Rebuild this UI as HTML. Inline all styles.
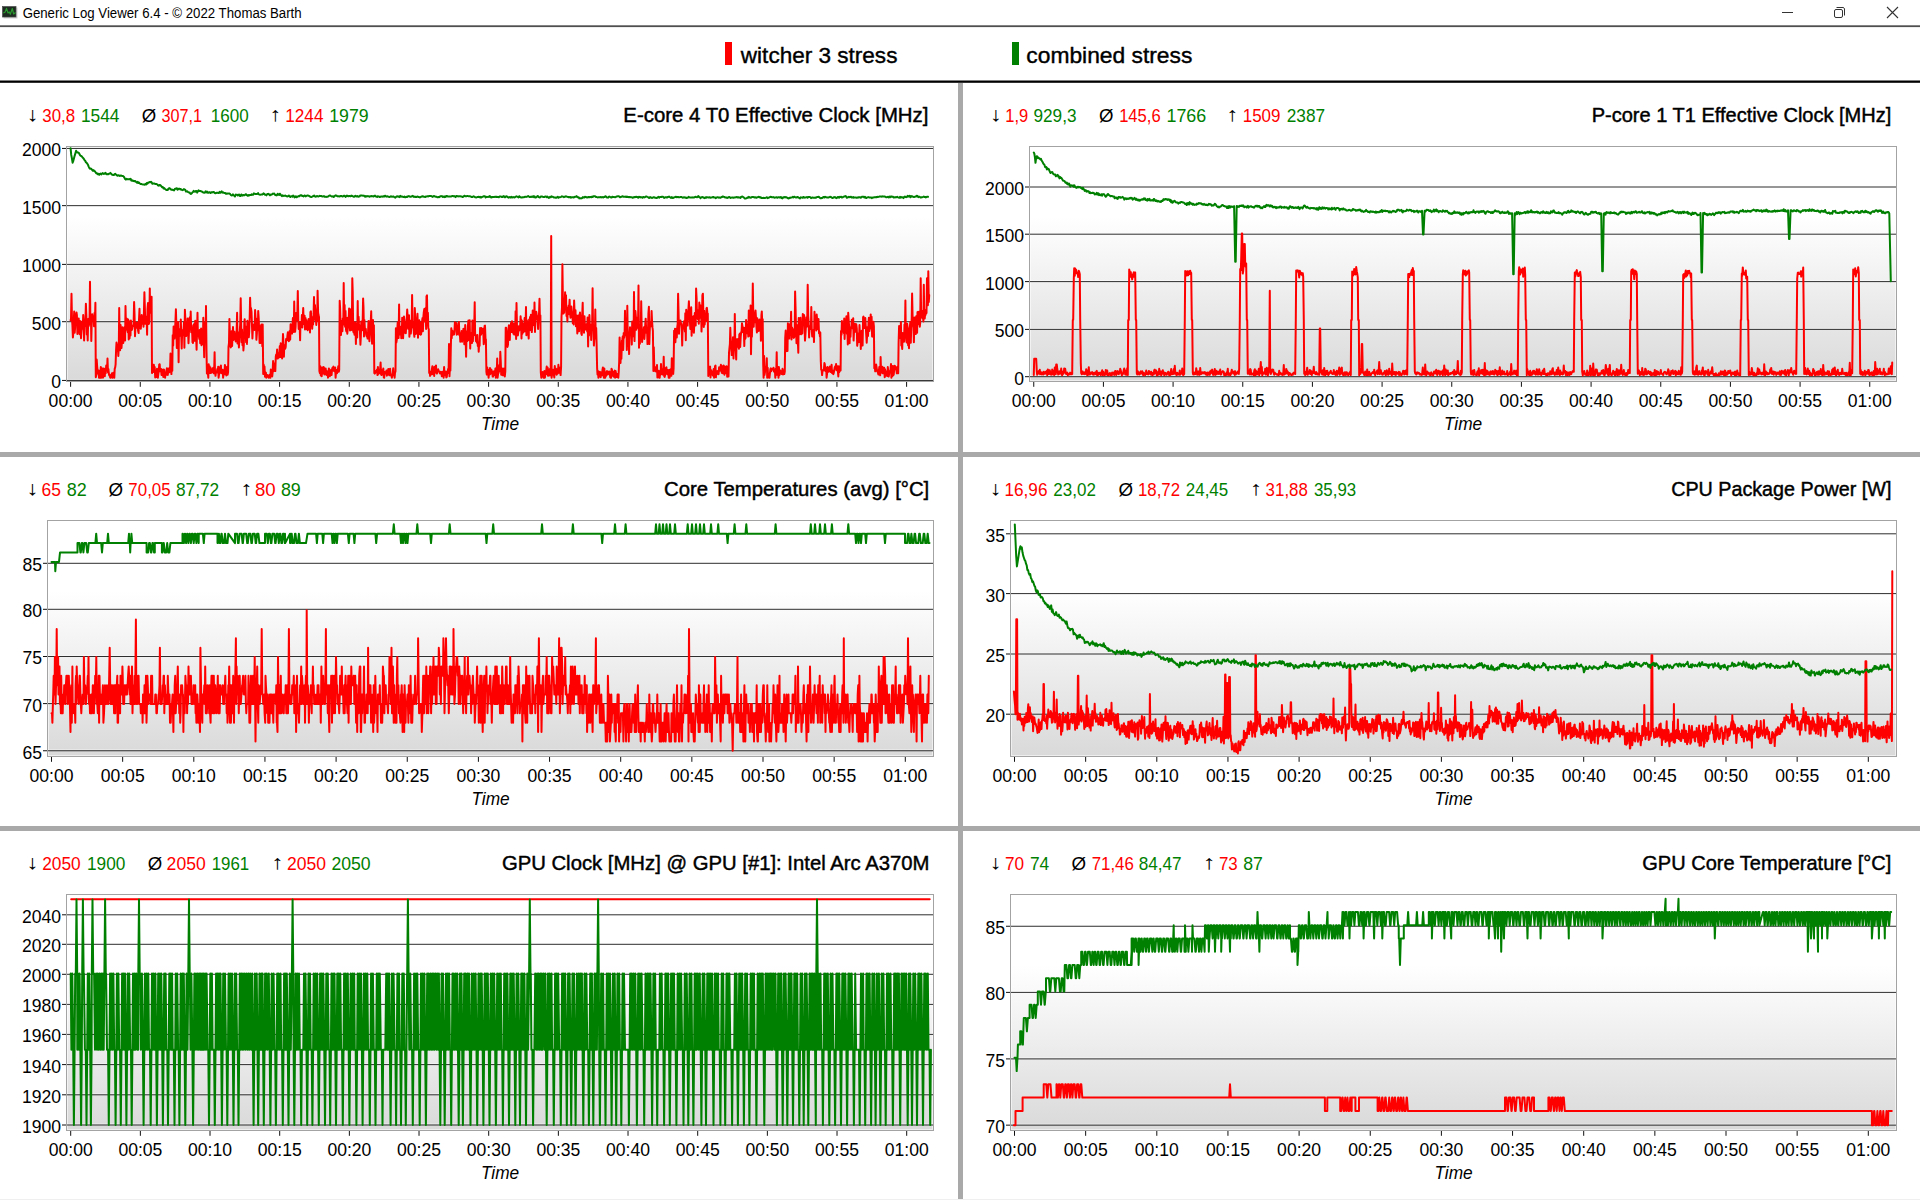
<!DOCTYPE html>
<html><head><meta charset="utf-8"><title>Generic Log Viewer</title>
<style>html,body{margin:0;padding:0;background:#fff;}body{width:1920px;height:1200px;overflow:hidden;}svg{display:block;font-family:"Liberation Sans",sans-serif;}</style>
</head><body>
<svg width="1920" height="1200" viewBox="0 0 1920 1200" font-family="Liberation Sans, sans-serif">
<defs><linearGradient id="bg" x1="0" y1="0" x2="0" y2="1">
<stop offset="0" stop-color="#ffffff"/><stop offset="0.3" stop-color="#ffffff"/><stop offset="1" stop-color="#d9d9d9"/>
</linearGradient></defs>
<rect x="0" y="0" width="1920" height="25" fill="#ffffff"/>
<rect x="3.5" y="7.5" width="14" height="11" fill="#000" opacity="0.18"/>
<rect x="2.5" y="6.5" width="13.5" height="10.5" fill="#1d2b20" stroke="#4a4a4a" stroke-width="0.7"/>
<polyline points="3.3,13 5,12.2 6.5,8.4 8,13 9.3,12 10.3,14.3 12.3,8.5 13.6,14 15.6,12.6" fill="none" stroke="#2a9a2e" stroke-width="1.2" stroke-linejoin="round"/>
<text x="22.64" y="17.90" font-size="14" textLength="279.02" lengthAdjust="spacingAndGlyphs" fill="#000">Generic Log Viewer 6.4 - © 2022 Thomas Barth</text>
<line x1="1782" y1="12.5" x2="1793" y2="12.5" stroke="#333" stroke-width="1"/>
<rect x="1834.5" y="9.5" width="8" height="8" rx="1.5" fill="none" stroke="#333" stroke-width="1"/>
<path d="M1836.5,7.5 h5.5 a2,2 0 0 1 2.5,2.5 v5.5" fill="none" stroke="#333" stroke-width="1"/>
<path d="M1887,7 L1898,18 M1898,7 L1887,18" stroke="#333" stroke-width="1.1"/>
<rect x="0" y="25.3" width="1920" height="1.8" fill="#4f4f4f"/>
<rect x="725" y="42" width="7" height="23" fill="#ff0000"/>
<g stroke="#000" stroke-width="0.4"><text x="740.83" y="63.00" font-size="22.5" textLength="156.58" lengthAdjust="spacingAndGlyphs" fill="#000">witcher 3 stress</text></g>
<rect x="1012" y="42" width="7" height="23" fill="#008000"/>
<g stroke="#000" stroke-width="0.4"><text x="1026.33" y="63.00" font-size="22.5" textLength="165.99" lengthAdjust="spacingAndGlyphs" fill="#000">combined stress</text></g>
<rect x="0" y="80.5" width="1920" height="2.3" fill="#000"/>
<rect x="958" y="83" width="5" height="1116" fill="#a9a9a9"/>
<rect x="0" y="452" width="1920" height="5" fill="#a9a9a9"/>
<rect x="0" y="826" width="1920" height="5" fill="#a9a9a9"/>
<rect x="958" y="452" width="5" height="5" fill="#a9a9a9"/>
<rect x="0" y="1199" width="1920" height="1" fill="#efefef"/>
<g id="p1">
<rect x="66" y="146" width="868" height="236" fill="url(#bg)"/>
<rect x="67.5" y="147.5" width="865" height="233" fill="none" stroke="#ffffff" stroke-opacity="0.55" stroke-width="1"/>
<line x1="67" y1="379.45" x2="933" y2="379.45" stroke="#ffffff" stroke-opacity="0.45" stroke-width="1"/>
<line x1="67" y1="380.45" x2="933" y2="380.45" stroke="#2e2e2e" stroke-width="1"/>
<line x1="62" y1="380.45" x2="66" y2="380.45" stroke="#111" stroke-width="1"/>
<text x="51.31" y="388.35" font-size="18.5" textLength="9.77" lengthAdjust="spacingAndGlyphs" fill="#000">0</text>
<line x1="67" y1="320.70" x2="933" y2="320.70" stroke="#ffffff" stroke-opacity="0.45" stroke-width="1"/>
<line x1="67" y1="321.70" x2="933" y2="321.70" stroke="#2e2e2e" stroke-width="1"/>
<line x1="62" y1="321.70" x2="66" y2="321.70" stroke="#111" stroke-width="1"/>
<text x="31.76" y="329.60" font-size="18.5" textLength="29.32" lengthAdjust="spacingAndGlyphs" fill="#000">500</text>
<line x1="67" y1="263.40" x2="933" y2="263.40" stroke="#ffffff" stroke-opacity="0.45" stroke-width="1"/>
<line x1="67" y1="264.40" x2="933" y2="264.40" stroke="#2e2e2e" stroke-width="1"/>
<line x1="62" y1="264.40" x2="66" y2="264.40" stroke="#111" stroke-width="1"/>
<text x="21.99" y="272.30" font-size="18.5" textLength="39.10" lengthAdjust="spacingAndGlyphs" fill="#000">1000</text>
<line x1="67" y1="204.65" x2="933" y2="204.65" stroke="#ffffff" stroke-opacity="0.45" stroke-width="1"/>
<line x1="67" y1="205.65" x2="933" y2="205.65" stroke="#2e2e2e" stroke-width="1"/>
<line x1="62" y1="205.65" x2="66" y2="205.65" stroke="#111" stroke-width="1"/>
<text x="21.99" y="213.55" font-size="18.5" textLength="39.10" lengthAdjust="spacingAndGlyphs" fill="#000">1500</text>
<line x1="67" y1="147.45" x2="933" y2="147.45" stroke="#ffffff" stroke-opacity="0.45" stroke-width="1"/>
<line x1="67" y1="148.45" x2="933" y2="148.45" stroke="#2e2e2e" stroke-width="1"/>
<line x1="62" y1="148.45" x2="66" y2="148.45" stroke="#111" stroke-width="1"/>
<text x="21.99" y="156.35" font-size="18.5" textLength="39.10" lengthAdjust="spacingAndGlyphs" fill="#000">2000</text>
<line x1="70.60" y1="382" x2="70.60" y2="386.8" stroke="#111" stroke-width="1"/>
<text x="48.61" y="406.50" font-size="18.5" textLength="43.98" lengthAdjust="spacingAndGlyphs" fill="#000">00:00</text>
<line x1="140.27" y1="382" x2="140.27" y2="386.8" stroke="#111" stroke-width="1"/>
<text x="118.30" y="406.50" font-size="18.5" textLength="43.98" lengthAdjust="spacingAndGlyphs" fill="#000">00:05</text>
<line x1="209.93" y1="382" x2="209.93" y2="386.8" stroke="#111" stroke-width="1"/>
<text x="187.94" y="406.50" font-size="18.5" textLength="43.98" lengthAdjust="spacingAndGlyphs" fill="#000">00:10</text>
<line x1="279.60" y1="382" x2="279.60" y2="386.8" stroke="#111" stroke-width="1"/>
<text x="257.64" y="406.50" font-size="18.5" textLength="43.98" lengthAdjust="spacingAndGlyphs" fill="#000">00:15</text>
<line x1="349.27" y1="382" x2="349.27" y2="386.8" stroke="#111" stroke-width="1"/>
<text x="327.28" y="406.50" font-size="18.5" textLength="43.98" lengthAdjust="spacingAndGlyphs" fill="#000">00:20</text>
<line x1="418.93" y1="382" x2="418.93" y2="386.8" stroke="#111" stroke-width="1"/>
<text x="396.97" y="406.50" font-size="18.5" textLength="43.98" lengthAdjust="spacingAndGlyphs" fill="#000">00:25</text>
<line x1="488.60" y1="382" x2="488.60" y2="386.8" stroke="#111" stroke-width="1"/>
<text x="466.61" y="406.50" font-size="18.5" textLength="43.98" lengthAdjust="spacingAndGlyphs" fill="#000">00:30</text>
<line x1="558.27" y1="382" x2="558.27" y2="386.8" stroke="#111" stroke-width="1"/>
<text x="536.30" y="406.50" font-size="18.5" textLength="43.98" lengthAdjust="spacingAndGlyphs" fill="#000">00:35</text>
<line x1="627.93" y1="382" x2="627.93" y2="386.8" stroke="#111" stroke-width="1"/>
<text x="605.94" y="406.50" font-size="18.5" textLength="43.98" lengthAdjust="spacingAndGlyphs" fill="#000">00:40</text>
<line x1="697.60" y1="382" x2="697.60" y2="386.8" stroke="#111" stroke-width="1"/>
<text x="675.64" y="406.50" font-size="18.5" textLength="43.98" lengthAdjust="spacingAndGlyphs" fill="#000">00:45</text>
<line x1="767.27" y1="382" x2="767.27" y2="386.8" stroke="#111" stroke-width="1"/>
<text x="745.28" y="406.50" font-size="18.5" textLength="43.98" lengthAdjust="spacingAndGlyphs" fill="#000">00:50</text>
<line x1="836.93" y1="382" x2="836.93" y2="386.8" stroke="#111" stroke-width="1"/>
<text x="814.97" y="406.50" font-size="18.5" textLength="43.98" lengthAdjust="spacingAndGlyphs" fill="#000">00:55</text>
<line x1="906.60" y1="382" x2="906.60" y2="386.8" stroke="#111" stroke-width="1"/>
<text x="884.61" y="406.50" font-size="18.5" textLength="43.98" lengthAdjust="spacingAndGlyphs" fill="#000">01:00</text>
<text x="480.93" y="429.80" font-size="18.5" font-style="italic" textLength="38.23" lengthAdjust="spacingAndGlyphs" fill="#000">Time</text>
<clipPath id="c0"><rect x="67" y="147" width="866" height="234"/></clipPath>
<g clip-path="url(#c0)" fill="none" stroke-width="2" stroke-linejoin="round" stroke-linecap="round">
<polyline stroke="#ff0000" points="70.6,320.4 71.0,318.7 71.5,293.8 72.0,319.7 72.4,324.8 72.9,337.5 73.3,333.1 73.8,320.7 74.2,311.4 74.7,332.7 75.1,327.8 75.6,313.9 76.0,316.1 76.5,312.5 76.9,315.2 77.4,334.0 77.8,324.1 78.3,328.1 78.7,318.4 79.2,330.9 79.6,334.2 80.1,321.1 80.5,324.8 81.0,338.3 81.4,332.1 81.9,327.1 82.3,321.2 82.8,328.8 83.2,315.1 83.7,323.5 84.1,340.4 84.6,321.8 85.0,325.9 85.5,318.0 85.9,303.8 86.4,317.1 86.8,334.4 87.3,327.2 87.7,340.5 88.2,319.0 88.6,326.3 89.1,318.6 89.5,322.9 90.0,281.7 90.4,324.8 90.9,315.5 91.3,340.9 91.8,319.3 92.2,314.3 92.7,317.8 93.1,320.5 93.6,316.2 94.0,326.3 94.5,313.0 94.9,321.5 95.4,302.8 95.8,377.3 96.3,374.8 96.7,359.5 97.2,367.0 97.6,370.4 98.1,373.6 98.5,370.4 99.0,377.7 99.4,372.9 99.9,370.5 100.3,377.7 100.8,367.0 101.2,377.7 101.7,368.0 102.1,371.2 102.6,375.8 103.0,377.7 103.5,368.5 103.9,370.3 104.4,373.3 104.8,376.2 105.3,368.6 105.7,373.2 106.2,365.6 106.6,370.5 107.1,368.7 107.5,358.5 108.0,372.5 108.4,369.1 108.9,373.9 109.3,375.4 109.8,374.5 110.2,377.5 110.7,377.7 111.1,376.2 111.6,377.1 112.0,373.2 112.5,377.7 112.9,377.3 113.4,372.7 113.8,372.6 114.3,377.7 114.7,368.9 115.2,367.3 115.6,364.3 116.1,349.5 116.5,342.6 117.0,345.2 117.4,350.8 117.9,348.1 118.3,356.0 118.8,347.6 119.2,308.0 119.7,340.1 120.1,350.2 120.6,324.9 121.0,343.2 121.5,348.0 121.9,342.4 122.4,327.3 122.8,341.5 123.3,343.0 123.7,328.0 124.2,331.5 124.6,327.1 125.1,340.6 125.5,306.0 126.0,329.5 126.4,321.3 126.9,318.7 127.3,329.8 127.8,332.4 128.2,319.6 128.7,339.5 129.1,330.6 129.6,338.2 130.0,321.3 130.5,335.5 130.9,320.6 131.4,327.9 131.8,330.0 132.3,328.4 132.7,325.4 133.2,326.0 133.6,324.5 134.1,302.0 134.5,313.3 135.0,336.3 135.4,328.6 135.9,322.4 136.3,323.9 136.8,327.8 137.2,324.2 137.7,322.4 138.1,330.8 138.6,333.1 139.0,319.6 139.5,308.7 139.9,327.8 140.4,319.1 140.8,328.7 141.3,321.3 141.7,315.1 142.2,323.8 142.6,318.0 143.0,316.3 143.5,326.8 143.9,312.7 144.4,292.3 144.8,305.3 145.3,323.8 145.7,316.4 146.2,320.7 146.6,317.2 147.1,334.7 147.5,308.8 148.0,303.0 148.4,319.2 148.9,324.0 149.3,320.5 149.8,288.4 150.2,312.7 150.7,308.8 151.1,312.1 151.6,296.8 152.0,373.1 152.5,364.5 152.9,369.9 153.4,372.0 153.8,364.7 154.3,368.5 154.7,367.0 155.2,377.5 155.6,374.1 156.1,370.2 156.5,376.9 157.0,368.8 157.4,371.0 157.9,377.7 158.3,374.2 158.8,370.7 159.2,364.5 159.7,364.2 160.1,371.2 160.6,369.9 161.0,368.9 161.5,374.9 161.9,369.4 162.4,370.6 162.8,371.8 163.3,377.0 163.7,369.4 164.2,369.9 164.6,373.3 165.1,377.7 165.5,372.9 166.0,375.1 166.4,372.4 166.9,368.2 167.3,373.2 167.8,375.0 168.2,369.1 168.7,372.7 169.1,368.3 169.6,371.9 170.0,371.5 170.5,353.6 170.9,369.6 171.4,374.1 171.8,362.6 172.3,370.8 172.7,335.2 173.2,345.4 173.6,326.4 174.1,333.6 174.5,338.6 175.0,329.3 175.4,322.2 175.9,309.3 176.3,323.4 176.8,348.0 177.2,327.6 177.7,328.9 178.1,322.0 178.6,362.3 179.0,329.2 179.5,336.0 179.9,329.1 180.4,334.0 180.8,319.5 181.3,336.6 181.7,348.4 182.2,330.2 182.6,335.2 183.1,333.6 183.5,330.2 184.0,322.3 184.4,347.7 184.9,309.7 185.3,317.7 185.8,330.4 186.2,335.9 186.7,328.5 187.1,332.5 187.6,318.6 188.0,329.5 188.5,343.3 188.9,333.7 189.4,319.6 189.8,317.2 190.3,329.6 190.7,311.5 191.2,332.2 191.6,325.2 192.1,330.0 192.5,342.1 193.0,342.9 193.4,338.4 193.9,324.3 194.3,328.0 194.8,340.7 195.2,320.7 195.7,321.3 196.1,336.2 196.6,349.7 197.0,332.7 197.5,312.7 197.9,336.3 198.4,332.0 198.8,335.2 199.3,338.8 199.7,330.1 200.2,343.3 200.6,334.8 201.1,328.6 201.5,345.2 202.0,329.5 202.4,337.9 202.9,343.9 203.3,317.8 203.8,341.5 204.2,357.2 204.7,322.9 205.1,332.8 205.6,341.1 206.0,305.9 206.5,350.7 206.9,373.6 207.4,368.9 207.8,371.8 208.3,377.7 208.7,364.3 209.2,370.3 209.6,366.2 210.1,372.9 210.5,367.6 211.0,372.9 211.4,368.9 211.9,369.4 212.3,371.8 212.8,372.2 213.2,367.7 213.7,373.3 214.1,373.3 214.6,352.2 215.0,372.0 215.5,375.8 215.9,371.9 216.4,371.7 216.8,372.5 217.3,369.1 217.7,372.1 218.2,366.7 218.6,377.7 219.1,373.9 219.5,372.2 220.0,367.0 220.4,370.7 220.9,365.4 221.3,373.3 221.8,372.5 222.2,371.8 222.7,369.7 223.1,377.7 223.6,373.6 224.0,374.6 224.5,374.1 224.9,365.0 225.4,368.3 225.8,372.0 226.3,375.4 226.7,372.8 227.2,366.7 227.6,374.8 228.1,372.0 228.5,346.8 229.0,342.9 229.4,318.9 229.9,334.1 230.3,345.7 230.8,347.4 231.2,342.1 231.7,331.3 232.1,345.9 232.6,334.9 233.0,327.0 233.5,340.0 233.9,335.9 234.4,331.7 234.8,336.3 235.3,335.9 235.7,341.5 236.2,339.6 236.6,332.3 237.1,312.8 237.5,343.6 238.0,333.1 238.4,332.4 238.9,347.4 239.3,341.0 239.8,330.5 240.2,324.2 240.7,298.3 241.1,321.2 241.6,342.2 242.0,329.5 242.5,345.3 242.9,335.5 243.4,350.4 243.8,345.4 244.3,322.7 244.7,319.2 245.2,335.4 245.6,331.1 246.1,342.2 246.5,326.4 247.0,343.9 247.4,320.8 247.9,328.4 248.3,325.4 248.8,337.2 249.2,332.0 249.7,317.2 250.1,297.7 250.6,313.3 251.0,308.1 251.5,311.8 251.9,322.7 252.4,338.5 252.8,330.8 253.3,327.5 253.7,324.6 254.2,328.6 254.6,330.0 255.1,310.1 255.5,316.8 256.0,320.3 256.4,339.8 256.9,333.4 257.3,318.7 257.8,330.2 258.2,310.9 258.7,318.4 259.1,328.8 259.6,342.9 260.0,326.4 260.5,343.0 260.9,327.2 261.4,324.5 261.8,325.2 262.3,346.2 262.7,324.6 263.2,373.9 263.6,364.4 264.1,367.1 264.5,366.5 265.0,376.8 265.4,374.4 265.9,372.6 266.3,377.7 266.8,376.1 267.2,375.6 267.7,375.0 268.1,376.6 268.6,377.7 269.0,377.7 269.5,376.3 269.9,374.6 270.4,377.7 270.8,369.5 271.3,375.8 271.7,374.0 272.2,376.4 272.6,373.0 273.1,361.1 273.5,371.3 274.0,363.3 274.4,369.2 274.9,366.5 275.3,371.1 275.8,356.4 276.2,354.5 276.7,355.9 277.1,349.5 277.6,358.6 278.0,353.5 278.5,357.8 278.9,353.1 279.4,352.8 279.8,346.0 280.3,357.1 280.7,343.3 281.2,350.1 281.6,344.4 282.1,358.4 282.5,348.4 283.0,334.1 283.4,341.3 283.9,356.7 284.3,345.1 284.8,346.0 285.2,348.8 285.7,346.9 286.1,339.1 286.6,339.6 287.0,340.2 287.5,335.1 287.9,332.2 288.4,333.9 288.8,341.2 289.3,340.6 289.7,330.9 290.2,339.4 290.6,324.3 291.1,332.6 291.5,329.9 292.0,333.6 292.4,327.1 292.9,318.1 293.3,324.4 293.8,332.0 294.2,301.4 294.7,328.8 295.1,331.8 295.6,326.6 296.0,312.9 296.5,313.5 296.9,319.9 297.4,311.5 297.8,291.1 298.3,320.7 298.7,328.9 299.2,322.3 299.6,323.1 300.1,340.2 300.5,322.1 301.0,322.0 301.4,326.7 301.9,315.0 302.3,327.4 302.8,317.9 303.2,308.1 303.7,324.0 304.1,323.8 304.6,315.8 305.0,329.4 305.5,317.9 305.9,322.1 306.4,320.2 306.8,329.2 307.3,326.1 307.7,330.2 308.2,326.3 308.6,319.0 309.1,320.2 309.5,326.7 310.0,332.5 310.4,312.1 310.9,311.4 311.3,320.0 311.8,317.1 312.2,328.8 312.7,318.1 313.1,324.5 313.6,313.9 314.0,297.0 314.5,319.8 314.9,304.9 315.4,310.4 315.8,317.4 316.3,324.9 316.7,315.4 317.2,321.3 317.6,290.8 318.1,312.1 318.5,315.1 319.0,317.1 319.4,371.1 319.9,373.2 320.3,366.3 320.8,375.4 321.2,368.0 321.7,376.3 322.1,367.5 322.6,373.7 323.0,371.2 323.5,367.1 323.9,367.3 324.4,374.4 324.8,370.3 325.3,374.3 325.7,368.6 326.2,373.5 326.6,374.9 327.1,371.3 327.5,372.4 328.0,377.7 328.4,374.2 328.9,368.4 329.3,374.6 329.8,376.3 330.2,375.0 330.7,372.4 331.1,369.7 331.6,375.0 332.0,369.8 332.5,367.8 332.9,367.7 333.4,366.6 333.8,370.8 334.3,370.5 334.7,371.5 335.2,367.4 335.6,377.7 336.1,370.1 336.5,370.1 337.0,373.3 337.4,371.1 337.9,369.6 338.3,366.2 338.8,371.7 339.2,369.9 339.7,300.7 340.1,308.0 340.6,324.8 341.0,334.9 341.5,321.3 341.9,326.2 342.4,331.2 342.8,318.4 343.3,324.5 343.7,283.0 344.2,322.2 344.6,304.9 345.1,326.8 345.5,310.9 346.0,329.8 346.4,331.4 346.9,318.1 347.3,333.7 347.8,327.8 348.2,317.4 348.7,319.2 349.1,308.5 349.6,325.2 350.0,330.5 350.5,319.6 350.9,309.2 351.4,329.9 351.8,329.7 352.3,278.2 352.7,291.3 353.2,331.1 353.6,332.6 354.1,325.2 354.5,334.8 355.0,322.2 355.4,322.9 355.9,343.9 356.3,326.3 356.8,323.6 357.2,337.6 357.7,301.0 358.1,329.7 358.6,316.8 359.0,323.9 359.5,329.2 359.9,330.6 360.4,344.7 360.8,337.8 361.3,321.4 361.7,329.1 362.2,330.3 362.6,324.7 363.1,298.4 363.5,307.2 364.0,336.6 364.4,320.0 364.9,328.5 365.3,330.9 365.8,329.0 366.2,334.9 366.7,336.4 367.1,333.7 367.6,338.6 368.0,333.5 368.5,321.0 368.9,328.5 369.4,341.2 369.8,331.9 370.3,321.1 370.7,323.3 371.2,311.2 371.6,333.5 372.1,343.7 372.5,333.8 373.0,320.1 373.4,340.3 373.9,325.2 374.3,373.0 374.8,373.6 375.2,372.9 375.7,371.3 376.1,370.8 376.6,370.7 377.0,369.6 377.5,375.1 377.9,366.9 378.4,374.0 378.8,370.2 379.3,373.2 379.7,372.3 380.2,368.0 380.6,362.6 381.1,374.6 381.5,375.0 382.0,370.2 382.4,370.8 382.9,374.4 383.3,368.5 383.8,377.5 384.2,377.7 384.7,371.9 385.1,373.6 385.6,371.9 386.0,372.8 386.5,370.4 386.9,375.7 387.4,372.6 387.8,371.5 388.3,368.9 388.7,374.7 389.2,372.8 389.6,375.3 390.1,368.8 390.5,375.0 391.0,374.5 391.4,376.1 391.9,377.7 392.3,375.1 392.8,372.6 393.2,368.3 393.7,375.3 394.1,372.7 394.6,377.7 395.0,373.0 395.5,371.3 395.9,328.2 396.4,342.4 396.8,339.6 397.3,330.1 397.7,322.6 398.2,329.1 398.6,338.1 399.1,304.5 399.5,334.6 400.0,326.4 400.4,334.4 400.9,329.2 401.3,338.3 401.8,334.8 402.2,317.8 402.7,325.8 403.1,338.3 403.6,327.2 404.0,316.5 404.5,322.0 404.9,332.7 405.4,324.9 405.8,333.2 406.3,323.4 406.7,319.7 407.2,309.6 407.6,315.8 408.1,328.8 408.5,322.1 409.0,315.3 409.4,336.7 409.9,326.8 410.3,320.7 410.8,333.6 411.2,329.3 411.7,326.3 412.1,295.1 412.6,327.2 413.0,326.6 413.5,322.6 413.9,333.4 414.4,336.8 414.8,308.1 415.3,318.5 415.7,334.0 416.2,332.8 416.6,332.7 417.1,320.9 417.5,313.8 418.0,337.8 418.4,326.8 418.9,334.2 419.3,320.2 419.8,327.9 420.2,322.5 420.7,334.8 421.1,334.2 421.6,329.3 422.0,321.9 422.5,318.1 422.9,331.3 423.4,316.9 423.8,312.1 424.3,309.0 424.7,317.5 425.2,321.6 425.6,308.1 426.1,329.1 426.5,296.3 427.0,295.4 427.4,325.4 427.9,312.8 428.3,328.0 428.8,329.3 429.2,373.1 429.7,371.5 430.1,375.9 430.6,373.7 431.0,374.6 431.5,371.8 431.9,369.0 432.4,366.2 432.8,374.3 433.3,369.5 433.7,367.8 434.2,375.9 434.6,366.7 435.1,371.9 435.5,371.9 436.0,365.4 436.4,373.1 436.9,373.6 437.3,372.8 437.8,369.7 438.2,369.3 438.7,371.2 439.1,371.4 439.6,371.8 440.0,373.5 440.5,372.1 440.9,371.7 441.4,372.1 441.8,376.2 442.3,374.6 442.7,371.7 443.2,374.7 443.6,377.7 444.1,367.0 444.5,375.4 445.0,374.8 445.4,373.5 445.9,371.4 446.3,377.5 446.8,376.8 447.2,372.3 447.7,373.1 448.1,368.9 448.6,371.5 449.0,344.1 449.5,376.3 449.9,366.6 450.4,370.4 450.8,348.4 451.3,328.3 451.7,338.3 452.2,330.6 452.6,335.1 453.1,332.4 453.5,331.8 454.0,334.5 454.4,331.8 454.9,322.3 455.3,328.1 455.8,328.6 456.2,323.1 456.7,334.7 457.1,328.7 457.6,334.0 458.0,329.1 458.5,323.2 458.9,322.0 459.4,335.3 459.8,332.9 460.3,341.7 460.7,337.8 461.2,337.6 461.6,331.1 462.1,341.7 462.5,338.8 463.0,335.0 463.4,328.8 463.9,329.9 464.3,344.3 464.8,339.6 465.2,325.0 465.7,340.3 466.1,356.8 466.6,331.8 467.0,341.4 467.5,340.8 467.9,326.1 468.4,320.5 468.8,339.9 469.3,322.9 469.7,320.3 470.2,348.6 470.6,332.7 471.1,336.0 471.5,333.8 472.0,342.9 472.4,320.6 472.9,341.2 473.3,328.3 473.8,335.1 474.2,327.4 474.7,302.3 475.1,333.9 475.6,335.2 476.0,341.2 476.5,336.2 476.9,342.6 477.4,335.0 477.8,346.0 478.3,342.3 478.7,351.8 479.2,342.3 479.6,345.8 480.1,328.1 480.5,332.7 481.0,334.8 481.4,327.9 481.9,333.2 482.3,332.5 482.8,330.5 483.2,328.8 483.7,344.3 484.1,341.8 484.6,325.8 485.0,325.6 485.5,338.7 485.9,339.5 486.4,371.9 486.8,374.6 487.3,367.6 487.7,374.1 488.2,372.8 488.6,377.7 489.1,369.7 489.5,374.6 490.0,368.0 490.4,374.1 490.9,370.4 491.3,369.6 491.8,371.3 492.2,371.4 492.7,376.6 493.1,376.6 493.6,371.6 494.0,374.1 494.5,371.0 494.9,375.1 495.4,368.6 495.8,377.7 496.3,368.2 496.7,373.2 497.2,358.6 497.6,377.7 498.1,373.8 498.5,373.0 499.0,371.5 499.4,365.1 499.9,370.7 500.3,351.8 500.8,362.3 501.2,374.8 501.7,371.9 502.1,368.6 502.6,375.2 503.0,370.3 503.5,375.3 503.9,368.6 504.4,370.4 504.8,376.4 505.3,371.3 505.7,327.7 506.2,327.7 506.6,334.2 507.1,343.9 507.5,346.9 508.0,344.6 508.4,330.6 508.9,325.3 509.3,338.5 509.8,340.0 510.2,327.4 510.7,326.3 511.1,322.7 511.6,332.0 512.0,321.3 512.5,326.1 512.9,328.0 513.4,333.7 513.8,323.4 514.3,334.6 514.7,330.9 515.2,333.0 515.6,311.2 516.1,339.1 516.5,302.9 517.0,327.5 517.4,330.5 517.9,335.4 518.3,331.8 518.8,326.3 519.2,330.6 519.7,327.1 520.1,327.5 520.6,316.3 521.0,322.0 521.5,338.5 521.9,320.5 522.4,333.7 522.8,325.2 523.3,332.2 523.7,323.5 524.2,331.4 524.6,318.0 525.1,331.2 525.5,326.8 526.0,307.0 526.4,335.2 526.9,320.3 527.3,327.8 527.8,331.0 528.2,332.8 528.7,338.6 529.1,319.4 529.6,325.1 530.0,317.1 530.5,329.9 530.9,314.7 531.4,328.0 531.8,332.1 532.3,326.2 532.7,310.6 533.2,317.5 533.6,320.0 534.1,325.2 534.5,302.5 535.0,332.0 535.4,314.1 535.9,319.0 536.3,311.8 536.8,315.9 537.2,316.0 537.7,323.8 538.1,328.9 538.6,317.9 539.0,314.2 539.5,298.8 539.9,317.6 540.4,315.5 540.8,372.1 541.3,377.7 541.7,372.8 542.2,375.8 542.6,371.9 543.1,374.9 543.5,377.7 544.0,377.7 544.4,371.1 544.9,377.7 545.3,375.1 545.8,373.7 546.2,370.9 546.7,366.6 547.1,374.1 547.6,367.4 548.0,375.8 548.5,371.8 548.9,372.6 549.4,369.2 549.8,375.5 550.3,369.5 550.7,374.9 551.2,235.9 551.6,377.7 552.1,374.4 552.5,371.2 553.0,369.7 553.4,373.2 553.9,374.9 554.3,377.4 554.8,366.1 555.2,373.5 555.7,368.4 556.1,369.6 556.6,374.7 557.0,369.4 557.5,373.7 557.9,373.0 558.4,364.8 558.8,372.7 559.3,371.1 559.7,367.7 560.2,371.8 560.6,375.1 561.1,366.6 561.5,317.0 562.0,306.8 562.4,264.2 562.9,300.4 563.3,313.6 563.8,302.4 564.2,312.6 564.7,304.4 565.1,292.2 565.6,306.1 566.0,295.2 566.5,316.1 566.9,311.7 567.4,321.4 567.8,307.6 568.3,314.2 568.7,305.5 569.2,307.7 569.6,299.7 570.1,314.2 570.5,317.7 571.0,316.8 571.4,306.6 571.9,312.3 572.3,312.5 572.8,323.3 573.2,311.9 573.7,324.5 574.1,300.6 574.6,312.9 575.0,317.3 575.5,310.2 575.9,326.2 576.4,315.3 576.8,318.1 577.3,333.4 577.7,327.7 578.2,315.5 578.6,315.9 579.1,331.2 579.5,315.7 580.0,312.5 580.4,318.6 580.9,320.7 581.3,333.4 581.8,335.0 582.2,315.1 582.7,302.8 583.1,326.4 583.6,327.1 584.0,332.8 584.5,316.2 584.9,327.4 585.4,329.6 585.8,327.0 586.3,329.3 586.7,323.9 587.2,331.5 587.6,317.5 588.1,346.4 588.5,327.1 589.0,335.4 589.4,315.1 589.9,327.7 590.3,324.4 590.8,325.8 591.2,339.9 591.7,326.4 592.1,327.6 592.6,288.3 593.0,325.0 593.5,327.5 593.9,345.6 594.4,337.5 594.8,337.3 595.3,309.5 595.7,338.6 596.2,328.0 596.6,343.7 597.1,367.6 597.5,374.4 598.0,370.9 598.4,377.7 598.9,375.2 599.3,374.7 599.8,371.7 600.2,375.6 600.7,377.2 601.1,372.6 601.6,374.7 602.0,375.3 602.5,369.7 602.9,367.5 603.4,374.6 603.9,377.7 604.3,368.4 604.8,377.0 605.2,377.7 605.7,373.3 606.1,376.0 606.6,371.6 607.0,371.0 607.5,374.5 607.9,374.4 608.4,373.1 608.8,371.7 609.3,371.5 609.7,372.3 610.2,377.1 610.6,377.7 611.1,377.7 611.5,368.7 612.0,369.8 612.4,375.4 612.9,375.9 613.3,371.9 613.8,376.7 614.2,372.0 614.7,370.6 615.1,377.7 615.6,370.9 616.0,373.1 616.5,374.1 616.9,377.0 617.4,376.8 617.8,373.8 618.3,377.7 618.7,372.4 619.2,361.4 619.6,337.4 620.1,349.5 620.5,362.9 621.0,350.8 621.4,358.7 621.9,340.9 622.3,339.4 622.8,336.2 623.2,349.9 623.7,333.0 624.1,337.9 624.6,335.1 625.0,310.8 625.5,335.0 625.9,332.8 626.4,323.9 626.8,349.9 627.3,305.8 627.7,333.7 628.2,346.1 628.6,337.4 629.1,354.1 629.5,334.4 630.0,327.3 630.4,329.5 630.9,331.8 631.3,330.7 631.8,344.6 632.2,321.4 632.7,323.1 633.1,334.0 633.6,336.4 634.0,292.0 634.5,341.1 634.9,325.9 635.4,311.0 635.8,316.2 636.3,329.7 636.7,317.6 637.2,328.0 637.6,326.8 638.1,321.0 638.5,285.4 639.0,347.8 639.4,324.7 639.9,343.8 640.3,327.5 640.8,327.3 641.2,301.2 641.7,328.7 642.1,341.9 642.6,334.3 643.0,333.3 643.5,331.4 643.9,327.3 644.4,339.0 644.8,332.9 645.3,323.9 645.7,318.7 646.2,330.2 646.6,332.8 647.1,330.3 647.5,344.1 648.0,331.0 648.4,313.4 648.9,306.7 649.3,344.1 649.8,329.2 650.2,322.2 650.7,324.2 651.1,326.3 651.6,311.0 652.0,320.3 652.5,327.4 652.9,330.8 653.4,370.9 653.8,347.3 654.3,369.9 654.7,370.7 655.2,367.5 655.6,371.3 656.1,367.1 656.5,371.6 657.0,365.0 657.4,377.4 657.9,371.2 658.3,375.9 658.8,370.8 659.2,377.7 659.7,377.7 660.1,372.9 660.6,374.8 661.0,364.0 661.5,374.1 661.9,369.3 662.4,369.3 662.8,374.6 663.3,371.8 663.7,356.7 664.2,376.1 664.6,376.9 665.1,375.0 665.5,373.5 666.0,367.9 666.4,367.3 666.9,373.8 667.3,374.1 667.8,369.9 668.2,371.5 668.7,377.7 669.1,369.9 669.6,377.7 670.0,371.1 670.5,369.3 670.9,375.8 671.4,375.7 671.8,358.3 672.3,371.0 672.7,372.8 673.2,373.9 673.6,368.5 674.1,330.8 674.5,337.2 675.0,328.7 675.4,342.2 675.9,329.1 676.3,332.3 676.8,337.4 677.2,327.6 677.7,323.5 678.1,293.7 678.6,313.5 679.0,333.7 679.5,321.1 679.9,324.2 680.4,320.5 680.8,322.8 681.3,323.7 681.7,328.2 682.2,345.6 682.6,328.8 683.1,328.7 683.5,324.2 684.0,321.3 684.4,325.7 684.9,331.5 685.3,313.3 685.8,340.3 686.2,309.7 686.7,317.4 687.1,319.1 687.6,325.6 688.0,316.2 688.5,308.1 688.9,301.2 689.4,316.7 689.8,318.5 690.3,328.9 690.7,320.2 691.2,307.2 691.6,335.8 692.1,321.9 692.5,331.4 693.0,318.7 693.4,316.2 693.9,332.7 694.3,323.9 694.8,313.0 695.2,324.1 695.7,325.5 696.1,288.6 696.6,298.5 697.0,316.2 697.5,318.0 697.9,319.3 698.4,310.0 698.8,323.7 699.3,302.5 699.7,308.4 700.2,317.8 700.6,305.6 701.1,307.8 701.5,331.6 702.0,317.4 702.4,295.0 702.9,293.7 703.3,311.2 703.8,326.9 704.2,310.7 704.7,324.4 705.1,317.1 705.6,321.1 706.0,320.9 706.5,308.2 706.9,307.9 707.4,313.5 707.8,313.7 708.3,376.0 708.7,372.1 709.2,367.7 709.6,367.4 710.1,366.5 710.5,377.5 711.0,370.0 711.4,371.7 711.9,371.6 712.3,373.4 712.8,375.5 713.2,371.9 713.7,369.0 714.1,377.7 714.6,376.2 715.0,366.3 715.5,365.5 715.9,377.3 716.4,371.0 716.8,374.3 717.3,371.3 717.7,371.1 718.2,372.3 718.6,374.3 719.1,367.3 719.5,369.3 720.0,370.7 720.4,368.2 720.9,364.8 721.3,367.8 721.8,372.8 722.2,366.2 722.7,373.2 723.1,372.2 723.6,365.5 724.0,373.0 724.5,374.7 724.9,366.5 725.4,372.9 725.8,369.5 726.3,369.8 726.7,366.3 727.2,376.7 727.6,367.1 728.1,369.7 728.5,376.4 729.0,353.0 729.4,348.6 729.9,343.8 730.3,327.7 730.8,342.6 731.2,345.5 731.7,355.1 732.1,342.4 732.6,344.3 733.0,337.2 733.5,358.4 733.9,340.3 734.4,349.2 734.8,313.9 735.3,347.9 735.7,350.5 736.2,359.5 736.6,339.3 737.1,343.4 737.5,346.7 738.0,339.0 738.4,344.8 738.9,348.7 739.3,334.6 739.8,333.6 740.2,347.0 740.7,337.0 741.1,332.7 741.6,330.8 742.0,323.3 742.5,326.3 742.9,332.2 743.4,327.4 743.8,327.8 744.3,346.1 744.7,328.0 745.2,338.7 745.6,337.9 746.1,320.1 746.5,323.8 747.0,330.2 747.4,333.2 747.9,329.6 748.3,336.6 748.8,310.6 749.2,326.4 749.7,310.5 750.1,336.0 750.6,305.6 751.0,354.2 751.5,325.6 751.9,336.7 752.4,314.7 752.8,283.5 753.3,318.0 753.7,326.7 754.2,314.1 754.6,312.3 755.1,322.3 755.5,310.4 756.0,317.7 756.4,326.7 756.9,332.4 757.3,318.3 757.8,328.2 758.2,319.9 758.7,330.9 759.1,326.4 759.6,319.5 760.0,329.0 760.5,322.2 760.9,340.8 761.4,315.0 761.8,311.4 762.3,325.1 762.7,319.2 763.2,364.4 763.6,377.7 764.1,355.9 764.5,375.0 765.0,372.0 765.4,367.3 765.9,369.5 766.3,368.1 766.8,358.3 767.2,377.7 767.7,367.8 768.1,377.2 768.6,375.9 769.0,377.7 769.5,377.7 769.9,373.6 770.4,369.0 770.8,368.4 771.3,371.2 771.7,368.9 772.2,369.1 772.6,369.4 773.1,368.6 773.5,367.7 774.0,371.6 774.4,370.8 774.9,369.5 775.3,377.7 775.8,368.8 776.2,375.1 776.7,352.2 777.1,374.8 777.6,373.0 778.0,367.2 778.5,377.7 778.9,367.0 779.4,375.3 779.8,373.5 780.3,370.4 780.7,372.7 781.2,371.8 781.6,374.0 782.1,373.7 782.5,368.8 783.0,374.4 783.4,369.9 783.9,373.0 784.3,374.0 784.8,371.6 785.2,338.0 785.7,330.5 786.1,351.3 786.6,341.8 787.0,338.7 787.5,351.1 787.9,323.2 788.4,333.1 788.8,333.8 789.3,338.4 789.7,324.2 790.2,335.0 790.6,331.3 791.1,311.7 791.5,339.4 792.0,327.4 792.4,328.7 792.9,329.4 793.3,336.7 793.8,337.9 794.2,337.1 794.7,333.8 795.1,291.4 795.6,309.6 796.0,328.3 796.5,343.3 796.9,337.5 797.4,325.3 797.8,339.5 798.3,352.8 798.7,317.9 799.2,334.6 799.6,332.0 800.1,320.6 800.5,317.8 801.0,334.3 801.4,329.5 801.9,323.5 802.3,333.5 802.8,313.9 803.2,321.0 803.7,314.7 804.1,315.1 804.6,327.9 805.0,340.6 805.5,333.4 805.9,327.2 806.4,317.2 806.8,326.8 807.3,316.5 807.7,284.8 808.2,315.7 808.6,321.4 809.1,337.5 809.5,326.3 810.0,328.2 810.4,325.9 810.9,329.1 811.3,307.1 811.8,331.0 812.2,336.5 812.7,331.7 813.1,331.0 813.6,329.8 814.0,342.1 814.5,311.8 814.9,320.9 815.4,323.7 815.8,319.1 816.3,330.5 816.7,314.5 817.2,320.9 817.6,323.7 818.1,329.1 818.5,319.1 819.0,333.2 819.4,331.5 819.9,336.4 820.3,332.4 820.8,360.9 821.2,369.6 821.7,370.3 822.1,375.1 822.6,370.3 823.0,370.0 823.5,370.4 823.9,369.4 824.4,363.0 824.8,364.1 825.3,371.0 825.7,370.6 826.2,367.8 826.6,377.7 827.1,373.3 827.5,367.1 828.0,370.3 828.4,371.8 828.9,371.5 829.3,368.6 829.8,366.6 830.2,366.7 830.7,372.0 831.1,370.5 831.6,364.8 832.0,372.9 832.5,370.5 832.9,373.5 833.4,374.1 833.8,372.7 834.3,369.8 834.7,367.4 835.2,366.4 835.6,368.4 836.1,364.0 836.5,370.2 837.0,365.9 837.4,366.4 837.9,370.9 838.3,376.4 838.8,366.2 839.2,372.1 839.7,370.6 840.1,369.2 840.6,370.5 841.0,331.1 841.5,334.8 841.9,321.0 842.4,327.1 842.8,325.9 843.3,328.2 843.7,332.9 844.2,318.6 844.6,338.9 845.1,327.2 845.5,330.7 846.0,321.9 846.4,316.3 846.9,333.8 847.3,327.2 847.8,344.5 848.2,312.7 848.7,320.7 849.1,325.9 849.6,343.3 850.0,330.0 850.5,336.7 850.9,327.4 851.4,326.7 851.8,319.7 852.3,320.2 852.7,328.4 853.2,318.3 853.6,340.6 854.1,329.4 854.5,330.4 855.0,323.8 855.4,331.7 855.9,331.8 856.3,324.3 856.8,328.8 857.2,345.8 857.7,341.8 858.1,333.8 858.6,338.9 859.0,342.0 859.5,325.0 859.9,334.7 860.4,335.9 860.8,348.9 861.3,332.4 861.7,330.8 862.2,340.8 862.6,345.6 863.1,317.3 863.5,316.6 864.0,323.4 864.4,328.0 864.9,327.4 865.3,318.1 865.8,327.4 866.2,334.3 866.7,342.7 867.1,335.3 867.6,327.0 868.0,335.9 868.5,322.7 868.9,317.7 869.4,331.0 869.8,319.3 870.3,324.9 870.7,314.4 871.2,328.6 871.6,316.7 872.1,336.4 872.5,331.3 873.0,336.7 873.4,321.7 873.9,326.4 874.3,368.3 874.8,366.0 875.2,371.3 875.7,371.3 876.1,364.4 876.6,367.4 877.0,370.2 877.5,370.5 877.9,372.7 878.4,374.5 878.8,372.4 879.3,366.9 879.7,370.5 880.2,375.3 880.6,357.0 881.1,372.8 881.5,371.8 882.0,367.2 882.4,366.7 882.9,373.3 883.3,368.0 883.8,372.0 884.2,367.8 884.7,377.2 885.1,369.3 885.6,375.8 886.0,371.3 886.5,375.6 886.9,371.7 887.4,376.0 887.8,367.1 888.3,371.4 888.7,376.6 889.2,373.5 889.6,371.1 890.1,371.1 890.5,370.1 891.0,364.0 891.4,377.7 891.9,373.7 892.3,376.1 892.8,365.9 893.2,375.3 893.7,374.7 894.1,370.6 894.6,365.8 895.0,366.1 895.5,369.0 895.9,368.7 896.4,370.2 896.8,373.3 897.3,366.7 897.7,369.4 898.2,373.3 898.6,342.8 899.1,326.1 899.5,326.4 900.0,331.0 900.4,338.0 900.9,322.0 901.3,345.5 901.8,344.6 902.2,349.0 902.7,333.0 903.1,333.4 903.6,337.3 904.0,341.8 904.5,324.4 904.9,333.6 905.4,300.6 905.8,333.7 906.3,341.0 906.7,342.6 907.2,323.8 907.6,327.9 908.1,345.2 908.5,340.4 909.0,348.3 909.4,329.7 909.9,326.3 910.3,322.1 910.8,342.8 911.2,328.0 911.7,318.9 912.1,293.4 912.6,317.2 913.0,323.9 913.5,328.2 913.9,342.2 914.4,317.6 914.8,319.3 915.3,324.2 915.7,334.1 916.2,316.3 916.6,325.4 917.1,332.7 917.5,312.1 918.0,311.9 918.4,324.2 918.9,312.7 919.3,311.8 919.8,326.7 920.2,322.8 920.7,278.2 921.1,311.9 921.6,316.5 922.0,317.8 922.5,311.0 922.9,316.8 923.4,321.4 923.8,284.8 924.3,316.5 924.7,318.6 925.2,313.6 925.6,314.9 926.1,309.8 926.5,313.1 927.0,278.2 927.4,303.3 927.9,305.2 928.3,271.2 928.8,302.0 929.2,295.0"/>
<polyline stroke="#008000" points="70.6,148.2 71.2,154.7 71.9,158.3 72.6,162.7 73.3,160.8 74.0,158.3 74.7,155.6 75.4,153.2 76.1,150.8 76.8,152.2 77.5,152.6 78.2,152.4 78.9,153.0 79.6,154.4 80.3,155.5 81.0,156.0 81.7,156.2 82.4,157.3 83.1,157.9 83.8,158.8 84.5,160.1 85.2,160.8 85.9,162.2 86.6,162.8 87.3,163.7 88.0,164.8 88.7,166.6 89.4,168.1 90.1,168.8 90.8,168.5 91.5,169.0 92.2,170.0 92.9,170.8 93.6,170.1 94.3,171.0 95.0,171.3 95.7,172.6 96.4,173.4 97.1,173.2 97.8,174.3 98.5,173.7 99.2,174.8 99.9,173.9 100.6,173.5 101.3,174.4 102.0,173.5 102.7,173.1 103.4,174.0 104.1,173.6 104.8,173.7 105.5,172.8 106.2,174.0 106.9,174.3 107.6,174.1 108.3,174.2 109.0,173.7 109.7,173.5 110.4,172.9 111.1,173.6 111.8,174.5 112.5,174.8 113.2,175.0 113.9,175.0 114.6,174.2 115.3,173.8 116.0,174.7 116.7,175.0 117.4,175.7 118.1,175.6 118.8,175.2 119.5,175.9 120.2,175.8 120.9,175.4 121.6,175.8 122.3,175.9 123.0,176.0 123.7,176.5 124.4,177.6 125.1,179.0 125.8,179.6 126.5,178.8 127.2,179.3 127.9,179.1 128.6,179.3 129.3,179.1 130.0,179.4 130.7,178.8 131.4,180.6 132.1,180.2 132.8,180.9 133.5,180.8 134.2,181.3 134.9,180.9 135.6,181.3 136.3,182.3 137.0,182.8 137.7,181.9 138.4,183.0 139.1,182.6 139.8,183.4 140.5,184.1 141.2,183.9 141.9,184.2 142.6,184.4 143.3,184.4 144.0,184.6 144.7,184.7 145.4,184.1 146.1,184.5 146.8,183.0 147.5,183.6 148.2,182.6 148.9,182.5 149.6,182.0 150.3,182.2 151.0,181.8 151.7,182.5 152.4,183.8 153.1,183.6 153.8,183.5 154.5,183.5 155.2,184.1 155.9,184.0 156.6,184.1 157.3,184.4 158.0,185.3 158.7,185.7 159.4,185.0 160.1,185.1 160.8,185.6 161.5,186.5 162.2,187.2 162.9,187.1 163.6,188.5 164.3,188.1 165.0,189.0 165.7,189.5 166.4,190.1 167.1,189.8 167.8,190.0 168.5,188.9 169.2,188.1 169.9,188.4 170.6,189.2 171.3,189.8 172.0,189.5 172.7,189.9 173.4,189.9 174.1,190.4 174.8,189.0 175.5,188.7 176.2,188.5 176.9,188.3 177.6,189.7 178.3,189.0 179.0,188.7 179.7,188.8 180.4,189.5 181.1,189.2 181.8,189.8 182.5,190.2 183.2,189.9 183.9,189.1 184.6,189.5 185.3,189.8 186.0,191.6 186.7,191.4 187.4,191.3 188.1,192.1 188.8,192.5 189.5,192.4 190.2,193.5 190.9,194.0 191.6,193.5 192.3,192.6 193.0,192.0 193.7,190.9 194.4,191.6 195.1,191.7 195.8,191.0 196.5,191.0 197.2,192.6 197.9,191.2 198.6,190.3 199.3,191.1 200.0,191.0 200.7,191.0 201.4,191.6 202.1,191.6 202.8,192.3 203.5,192.4 204.2,192.8 204.9,192.6 205.6,191.3 206.3,192.5 207.0,191.6 207.7,192.7 208.4,192.8 209.1,192.1 209.8,192.4 210.5,193.0 211.2,192.3 211.9,192.5 212.6,192.2 213.3,192.0 214.0,192.0 214.7,193.0 215.4,193.2 216.1,193.0 216.8,192.8 217.5,192.8 218.2,192.9 218.9,192.9 219.6,191.9 220.3,192.8 221.0,192.4 221.7,191.4 222.4,192.6 223.1,192.3 223.8,192.8 224.5,193.1 225.2,193.0 225.9,193.7 226.6,193.6 227.3,193.7 228.0,193.4 228.7,193.6 229.4,193.4 230.1,194.0 230.8,195.0 231.5,195.4 232.2,195.3 232.9,194.4 233.6,195.3 234.3,195.7 235.0,196.5 235.7,194.6 236.4,194.8 237.1,194.7 237.8,195.5 238.5,194.7 239.2,194.6 239.9,196.0 240.6,196.1 241.3,194.5 242.0,194.8 242.7,195.6 243.4,195.0 244.1,195.3 244.8,195.2 245.5,194.3 246.2,194.3 246.9,195.3 247.6,195.8 248.3,195.1 249.0,195.6 249.7,195.0 250.4,195.1 251.1,195.0 251.8,194.3 252.5,194.8 253.2,194.7 253.9,193.4 254.6,193.8 255.3,193.9 256.0,194.0 256.7,193.9 257.4,194.0 258.1,193.1 258.8,194.4 259.5,194.6 260.2,194.8 260.9,194.6 261.6,194.6 262.3,194.5 263.0,193.9 263.7,193.4 264.4,194.0 265.1,194.8 265.8,194.7 266.5,195.4 267.2,194.1 267.9,194.1 268.6,193.8 269.3,194.7 270.0,195.4 270.7,194.5 271.4,194.7 272.1,194.3 272.8,193.6 273.5,193.8 274.2,193.5 274.9,194.8 275.6,195.0 276.3,195.4 277.0,195.2 277.7,193.7 278.4,194.7 279.1,194.9 279.8,193.7 280.5,194.5 281.2,195.4 281.9,196.2 282.6,195.3 283.3,195.8 284.0,195.9 284.7,195.7 285.4,195.6 286.1,196.0 286.8,196.3 287.5,196.5 288.2,196.1 288.9,195.5 289.6,196.5 290.3,197.0 291.0,196.3 291.7,196.2 292.4,196.6 293.1,195.5 293.8,196.1 294.5,197.4 295.2,196.9 295.9,196.2 296.6,197.3 297.3,196.7 298.0,196.5 298.7,196.1 299.4,196.2 300.1,195.5 300.8,195.3 301.5,195.2 302.2,196.0 302.9,196.0 303.6,196.5 304.3,195.6 305.0,195.6 305.7,196.4 306.4,196.0 307.1,195.4 307.8,195.5 308.5,195.7 309.2,195.9 309.9,196.5 310.6,196.8 311.3,197.1 312.0,196.8 312.7,196.3 313.4,196.0 314.1,195.5 314.8,196.3 315.5,196.7 316.2,196.5 316.9,196.0 317.6,196.3 318.3,196.4 319.0,196.3 319.7,195.8 320.4,196.1 321.1,195.9 321.8,196.3 322.5,196.4 323.2,196.5 323.9,196.1 324.6,196.7 325.3,196.7 326.0,196.9 326.7,196.8 327.4,196.7 328.1,196.6 328.8,196.0 329.5,195.4 330.2,195.4 330.9,196.0 331.6,196.4 332.3,196.4 333.0,196.3 333.7,196.9 334.4,196.4 335.1,195.6 335.8,195.3 336.5,195.6 337.2,196.1 337.9,196.4 338.6,196.2 339.3,196.5 340.0,196.3 340.7,196.0 341.4,195.9 342.1,196.3 342.8,196.6 343.5,196.0 344.2,195.7 344.9,196.0 345.6,196.9 346.3,196.1 347.0,195.6 347.7,196.0 348.4,196.3 349.1,196.0 349.8,196.1 350.5,196.3 351.2,195.6 351.9,195.8 352.6,196.2 353.3,196.5 354.0,196.8 354.7,196.4 355.4,195.7 356.1,196.4 356.8,196.6 357.5,196.1 358.2,196.5 358.9,196.7 359.6,196.4 360.3,195.4 361.0,195.6 361.7,195.6 362.4,195.6 363.1,195.8 363.8,195.6 364.5,196.0 365.2,196.8 365.9,196.0 366.6,196.5 367.3,196.1 368.0,196.3 368.7,196.2 369.4,196.7 370.1,196.2 370.8,196.4 371.5,196.0 372.2,196.2 372.9,196.2 373.6,196.6 374.3,195.9 375.0,195.6 375.7,196.4 376.4,196.5 377.1,197.0 377.8,196.3 378.5,196.4 379.2,196.6 379.9,197.1 380.6,196.7 381.3,196.4 382.0,196.7 382.7,196.5 383.4,196.2 384.1,196.6 384.8,195.8 385.5,195.8 386.2,196.7 386.9,196.4 387.6,196.3 388.3,196.6 389.0,197.0 389.7,197.0 390.4,196.4 391.1,196.3 391.8,196.8 392.5,196.7 393.2,196.4 393.9,196.9 394.6,197.2 395.3,197.7 396.0,196.8 396.7,196.5 397.4,196.3 398.1,196.7 398.8,196.5 399.5,197.1 400.2,195.9 400.9,196.7 401.6,196.5 402.3,196.6 403.0,196.9 403.7,197.0 404.4,196.5 405.1,197.2 405.8,197.2 406.5,196.8 407.2,196.9 407.9,196.4 408.6,196.1 409.3,196.3 410.0,196.7 410.7,196.8 411.4,196.5 412.1,196.1 412.8,195.8 413.5,196.8 414.2,196.9 414.9,196.5 415.6,197.1 416.3,197.1 417.0,196.7 417.7,196.5 418.4,197.0 419.1,197.0 419.8,197.4 420.5,197.2 421.2,196.7 421.9,196.4 422.6,196.3 423.3,196.5 424.0,196.7 424.7,196.9 425.4,196.9 426.1,196.4 426.8,196.4 427.5,196.2 428.2,196.5 428.9,196.1 429.6,196.1 430.3,196.0 431.0,196.1 431.7,196.2 432.4,196.9 433.1,196.6 433.8,196.0 434.5,196.2 435.2,196.6 435.9,196.8 436.6,196.7 437.3,197.3 438.0,197.3 438.7,196.9 439.4,197.2 440.1,196.3 440.8,196.3 441.5,196.1 442.2,196.3 442.9,197.0 443.6,196.5 444.3,197.1 445.0,196.4 445.7,196.9 446.4,196.0 447.1,195.9 447.8,196.5 448.5,196.4 449.2,196.4 449.9,196.4 450.6,196.5 451.3,196.4 452.0,196.0 452.7,196.1 453.4,196.3 454.1,196.0 454.8,196.4 455.5,197.1 456.2,196.1 456.9,196.1 457.6,196.2 458.3,196.3 459.0,196.4 459.7,196.2 460.4,196.3 461.1,196.4 461.8,196.4 462.5,197.0 463.2,196.8 463.9,196.1 464.6,195.7 465.3,196.3 466.0,196.3 466.7,196.2 467.4,195.9 468.1,196.1 468.8,196.3 469.5,196.2 470.2,196.2 470.9,196.7 471.6,197.0 472.3,197.0 473.0,196.7 473.7,196.2 474.4,196.7 475.1,197.2 475.8,197.4 476.5,197.4 477.2,197.1 477.9,197.0 478.6,196.8 479.3,197.2 480.0,196.8 480.7,197.5 481.4,197.4 482.1,196.9 482.8,196.8 483.5,196.2 484.2,196.2 484.9,196.3 485.6,197.4 486.3,196.8 487.0,197.1 487.7,196.9 488.4,196.7 489.1,197.0 489.8,196.1 490.5,196.8 491.2,197.5 491.9,197.2 492.6,197.0 493.3,196.9 494.0,197.1 494.7,196.8 495.4,196.8 496.1,197.0 496.8,196.8 497.5,196.9 498.2,197.0 498.9,197.2 499.6,196.6 500.3,196.5 501.0,196.5 501.7,197.1 502.4,197.1 503.1,196.3 503.8,196.1 504.5,197.2 505.2,197.2 505.9,196.5 506.6,196.3 507.3,196.7 508.0,197.3 508.7,197.7 509.4,197.1 510.1,196.9 510.8,197.6 511.5,196.9 512.2,197.4 512.9,197.3 513.6,197.1 514.3,197.5 515.0,197.3 515.7,196.8 516.4,196.3 517.1,196.6 517.8,196.9 518.5,197.4 519.2,196.2 519.9,197.0 520.6,197.2 521.3,197.6 522.0,197.5 522.7,197.3 523.4,197.3 524.1,197.2 524.8,196.8 525.5,196.8 526.2,196.9 526.9,196.7 527.6,196.3 528.3,196.1 529.0,196.7 529.7,197.0 530.4,197.0 531.1,196.5 531.8,197.0 532.5,196.8 533.2,196.1 533.9,197.1 534.6,196.4 535.3,197.5 536.0,197.4 536.7,197.0 537.4,196.1 538.1,196.2 538.8,197.1 539.5,197.5 540.2,197.3 540.9,196.5 541.6,196.6 542.3,196.6 543.0,197.0 543.7,196.9 544.4,197.1 545.1,196.4 545.8,196.4 546.5,197.2 547.2,196.5 547.9,197.1 548.6,197.9 549.3,197.7 550.0,196.8 550.7,197.3 551.4,196.4 552.1,196.8 552.8,196.7 553.5,197.3 554.2,197.6 554.9,197.3 555.6,197.8 556.3,197.8 557.0,197.2 557.7,196.7 558.4,197.8 559.1,197.2 559.8,197.3 560.5,197.1 561.2,196.8 561.9,196.3 562.6,196.6 563.3,196.7 564.0,197.2 564.7,196.9 565.4,196.4 566.1,196.3 566.8,196.6 567.5,196.9 568.2,197.2 568.9,197.0 569.6,197.2 570.3,197.1 571.0,197.7 571.7,197.3 572.4,197.2 573.1,197.3 573.8,197.6 574.5,197.0 575.2,196.8 575.9,196.8 576.6,196.1 577.3,197.0 578.0,197.4 578.7,197.2 579.4,198.4 580.1,198.2 580.8,198.4 581.5,198.3 582.2,198.0 582.9,197.0 583.6,197.6 584.3,197.5 585.0,196.8 585.7,196.9 586.4,197.3 587.1,197.5 587.8,197.3 588.5,197.0 589.2,197.3 589.9,196.9 590.6,196.9 591.3,197.3 592.0,196.6 592.7,197.0 593.4,196.3 594.1,196.3 594.8,196.2 595.5,196.6 596.2,197.1 596.9,197.1 597.6,197.4 598.3,197.3 599.0,197.1 599.7,197.3 600.4,197.1 601.1,197.1 601.8,197.5 602.5,197.1 603.2,197.5 603.9,196.9 604.6,196.9 605.3,196.3 606.0,196.5 606.7,197.4 607.4,197.4 608.1,197.7 608.8,196.8 609.5,196.6 610.2,197.0 610.9,197.4 611.6,197.5 612.3,196.7 613.0,197.1 613.7,197.1 614.4,197.1 615.1,197.3 615.8,197.1 616.5,196.5 617.2,196.4 617.9,196.2 618.6,196.2 619.3,196.6 620.0,197.3 620.7,197.0 621.4,196.8 622.1,196.5 622.8,196.2 623.5,196.7 624.2,196.7 624.9,196.8 625.6,196.6 626.3,197.1 627.0,196.6 627.7,197.1 628.4,196.9 629.1,197.3 629.8,196.9 630.5,197.2 631.2,197.3 631.9,197.2 632.6,197.8 633.3,197.5 634.0,197.0 634.7,197.3 635.4,196.9 636.1,196.8 636.8,197.0 637.5,197.1 638.2,197.8 638.9,196.8 639.6,196.9 640.3,197.4 641.0,197.2 641.7,197.3 642.4,197.8 643.1,197.0 643.8,197.1 644.5,197.4 645.2,197.1 645.9,196.5 646.6,196.5 647.3,196.9 648.0,197.1 648.7,197.8 649.4,198.0 650.1,197.0 650.8,197.5 651.5,197.7 652.2,198.0 652.9,197.6 653.6,197.2 654.3,197.2 655.0,197.8 655.7,197.7 656.4,198.1 657.1,197.9 657.8,197.4 658.5,196.9 659.2,197.7 659.9,196.9 660.6,196.9 661.3,197.0 662.0,196.7 662.7,196.8 663.4,197.0 664.1,198.0 664.8,197.6 665.5,197.2 666.2,197.3 666.9,197.6 667.6,197.1 668.3,197.0 669.0,196.5 669.7,197.1 670.4,197.4 671.1,197.9 671.8,197.1 672.5,198.0 673.2,197.9 673.9,197.5 674.6,197.2 675.3,197.1 676.0,196.7 676.7,197.3 677.4,197.0 678.1,196.9 678.8,197.3 679.5,197.3 680.2,197.1 680.9,197.1 681.6,197.0 682.3,197.6 683.0,197.8 683.7,197.3 684.4,197.3 685.1,197.8 685.8,197.4 686.5,198.0 687.2,197.8 687.9,197.8 688.6,196.8 689.3,197.3 690.0,197.4 690.7,197.6 691.4,197.6 692.1,197.6 692.8,197.3 693.5,197.6 694.2,197.5 694.9,197.0 695.6,196.8 696.3,197.1 697.0,197.3 697.7,196.5 698.4,196.1 699.1,197.1 699.8,197.2 700.5,198.3 701.2,197.2 701.9,197.2 702.6,197.0 703.3,197.4 704.0,197.9 704.7,198.2 705.4,197.4 706.1,197.8 706.8,197.1 707.5,197.3 708.2,197.4 708.9,197.6 709.6,197.2 710.3,197.7 711.0,197.5 711.7,197.4 712.4,197.3 713.1,196.9 713.8,197.4 714.5,197.5 715.2,197.6 715.9,198.2 716.6,197.4 717.3,197.3 718.0,197.3 718.7,197.7 719.4,197.4 720.1,197.8 720.8,197.7 721.5,196.9 722.2,196.9 722.9,196.4 723.6,196.8 724.3,196.9 725.0,197.4 725.7,197.4 726.4,197.4 727.1,197.9 727.8,197.8 728.5,197.2 729.2,197.0 729.9,197.3 730.6,198.0 731.3,197.6 732.0,197.4 732.7,197.5 733.4,197.8 734.1,197.5 734.8,197.6 735.5,197.3 736.2,197.2 736.9,197.0 737.6,197.5 738.3,197.2 739.0,197.5 739.7,197.6 740.4,197.9 741.1,196.7 741.8,196.7 742.5,196.6 743.2,197.0 743.9,197.5 744.6,198.4 745.3,198.5 746.0,198.5 746.7,198.1 747.4,197.6 748.1,197.7 748.8,196.8 749.5,197.5 750.2,197.5 750.9,197.7 751.6,197.2 752.3,196.9 753.0,196.9 753.7,197.2 754.4,197.5 755.1,197.3 755.8,197.5 756.5,197.8 757.2,197.2 757.9,197.3 758.6,196.8 759.3,196.9 760.0,197.5 760.7,197.2 761.4,198.1 762.1,198.0 762.8,198.1 763.5,197.8 764.2,198.0 764.9,198.1 765.6,197.9 766.3,197.5 767.0,197.3 767.7,198.1 768.4,197.7 769.1,197.5 769.8,197.2 770.5,196.7 771.2,196.9 771.9,197.3 772.6,197.3 773.3,197.1 774.0,197.5 774.7,197.7 775.4,197.4 776.1,197.6 776.8,197.2 777.5,197.7 778.2,197.2 778.9,197.3 779.6,197.5 780.3,197.3 781.0,197.0 781.7,198.1 782.4,198.4 783.1,197.3 783.8,197.5 784.5,197.0 785.2,197.4 785.9,197.0 786.6,197.5 787.3,197.7 788.0,198.3 788.7,198.4 789.4,197.8 790.1,198.0 790.8,197.6 791.5,197.6 792.2,197.4 792.9,196.8 793.6,197.4 794.3,196.7 795.0,197.1 795.7,197.5 796.4,197.6 797.1,197.0 797.8,197.1 798.5,197.6 799.2,198.0 799.9,198.4 800.6,197.3 801.3,197.6 802.0,197.4 802.7,197.8 803.4,197.0 804.1,197.3 804.8,197.7 805.5,197.4 806.2,197.3 806.9,197.1 807.6,197.7 808.3,197.1 809.0,197.0 809.7,197.1 810.4,197.2 811.1,198.2 811.8,197.9 812.5,197.4 813.2,197.7 813.9,197.7 814.6,197.7 815.3,197.6 816.0,197.7 816.7,197.2 817.4,196.9 818.1,197.0 818.8,196.8 819.5,197.4 820.2,198.2 820.9,198.3 821.6,198.0 822.3,197.9 823.0,197.4 823.7,196.9 824.4,197.4 825.1,196.8 825.8,197.2 826.5,197.3 827.2,197.6 827.9,197.5 828.6,197.5 829.3,197.2 830.0,196.7 830.7,196.9 831.4,197.4 832.1,197.8 832.8,198.1 833.5,197.4 834.2,197.0 834.9,197.4 835.6,197.2 836.3,198.2 837.0,197.9 837.7,197.1 838.4,197.0 839.1,197.7 839.8,196.8 840.5,197.1 841.2,196.7 841.9,197.6 842.6,197.3 843.3,196.9 844.0,196.5 844.7,196.6 845.4,196.0 846.1,196.4 846.8,197.7 847.5,197.5 848.2,197.3 848.9,196.8 849.6,197.2 850.3,197.0 851.0,196.8 851.7,197.5 852.4,197.6 853.1,197.1 853.8,197.7 854.5,197.4 855.2,197.5 855.9,197.4 856.6,197.8 857.3,197.7 858.0,197.3 858.7,197.5 859.4,197.2 860.1,197.2 860.8,197.8 861.5,197.1 862.2,196.7 862.9,196.8 863.6,196.8 864.3,197.5 865.0,196.7 865.7,197.8 866.4,198.1 867.1,197.4 867.8,197.3 868.5,197.1 869.2,197.4 869.9,197.5 870.6,197.6 871.3,197.6 872.0,198.1 872.7,197.5 873.4,197.6 874.1,197.3 874.8,197.2 875.5,197.2 876.2,197.1 876.9,197.2 877.6,196.8 878.3,196.9 879.0,196.7 879.7,196.4 880.4,196.5 881.1,196.6 881.8,196.7 882.5,196.3 883.2,196.6 883.9,196.4 884.6,196.4 885.3,196.8 886.0,197.3 886.7,197.3 887.4,196.9 888.1,196.8 888.8,197.4 889.5,196.6 890.2,197.2 890.9,196.5 891.6,196.5 892.3,196.7 893.0,196.8 893.7,197.5 894.4,197.4 895.1,197.1 895.8,197.4 896.5,197.2 897.2,196.7 897.9,197.3 898.6,197.6 899.3,197.8 900.0,196.9 900.7,197.6 901.4,197.1 902.1,197.3 902.8,197.5 903.5,198.1 904.2,196.9 904.9,196.5 905.6,197.1 906.3,197.2 907.0,196.9 907.7,195.8 908.4,196.5 909.1,196.6 909.8,195.7 910.5,197.3 911.2,196.1 911.9,196.3 912.6,196.5 913.3,196.8 914.0,197.1 914.7,196.8 915.4,196.5 916.1,196.5 916.8,195.8 917.5,195.9 918.2,197.1 918.9,196.7 919.6,196.7 920.3,197.4 921.0,197.5 921.7,197.2 922.4,197.2 923.1,196.9 923.8,196.5 924.5,197.0 925.2,196.9 925.9,197.4 926.6,197.0 927.3,196.7 928.0,196.8"/>
</g>
<rect x="66.5" y="146.5" width="867" height="235" fill="none" stroke="#a3a3a3" stroke-width="1"/>
<g stroke="#000" stroke-width="0.45">
<text x="623.33" y="121.60" font-size="20.5" textLength="305.12" lengthAdjust="spacingAndGlyphs" fill="#000">E-core 4 T0 Effective Clock [MHz]</text>
</g>
<text x="26.17" y="120.70" font-size="20" textLength="12.16" lengthAdjust="spacingAndGlyphs" fill="#000">↓</text>
<text x="42.26" y="121.60" font-size="18.5" textLength="32.88" lengthAdjust="spacingAndGlyphs" fill="#ff0000">30,8</text>
<text x="80.88" y="121.60" font-size="18.5" textLength="38.63" lengthAdjust="spacingAndGlyphs" fill="#008000">1544</text>
<text x="141.65" y="121.60" font-size="18.5" textLength="14.47" lengthAdjust="spacingAndGlyphs" fill="#000">Ø</text>
<text x="161.38" y="121.60" font-size="18.5" textLength="40.61" lengthAdjust="spacingAndGlyphs" fill="#ff0000">307,1</text>
<text x="210.70" y="121.60" font-size="18.5" textLength="37.97" lengthAdjust="spacingAndGlyphs" fill="#008000">1600</text>
<text x="269.18" y="120.70" font-size="20" textLength="11.73" lengthAdjust="spacingAndGlyphs" fill="#000">↑</text>
<text x="285.19" y="121.60" font-size="18.5" textLength="38.32" lengthAdjust="spacingAndGlyphs" fill="#ff0000">1244</text>
<text x="329.25" y="121.60" font-size="18.5" textLength="39.39" lengthAdjust="spacingAndGlyphs" fill="#008000">1979</text>
</g>
<g id="p2">
<rect x="1029" y="146" width="868" height="236" fill="url(#bg)"/>
<rect x="1030.5" y="147.5" width="865" height="233" fill="none" stroke="#ffffff" stroke-opacity="0.55" stroke-width="1"/>
<line x1="1030" y1="375.70" x2="1896" y2="375.70" stroke="#ffffff" stroke-opacity="0.45" stroke-width="1"/>
<line x1="1030" y1="376.70" x2="1896" y2="376.70" stroke="#2e2e2e" stroke-width="1"/>
<line x1="1025" y1="376.70" x2="1029" y2="376.70" stroke="#111" stroke-width="1"/>
<text x="1014.31" y="384.60" font-size="18.5" textLength="9.77" lengthAdjust="spacingAndGlyphs" fill="#000">0</text>
<line x1="1030" y1="328.40" x2="1896" y2="328.40" stroke="#ffffff" stroke-opacity="0.45" stroke-width="1"/>
<line x1="1030" y1="329.40" x2="1896" y2="329.40" stroke="#2e2e2e" stroke-width="1"/>
<line x1="1025" y1="329.40" x2="1029" y2="329.40" stroke="#111" stroke-width="1"/>
<text x="994.76" y="337.30" font-size="18.5" textLength="29.32" lengthAdjust="spacingAndGlyphs" fill="#000">500</text>
<line x1="1030" y1="280.60" x2="1896" y2="280.60" stroke="#ffffff" stroke-opacity="0.45" stroke-width="1"/>
<line x1="1030" y1="281.60" x2="1896" y2="281.60" stroke="#2e2e2e" stroke-width="1"/>
<line x1="1025" y1="281.60" x2="1029" y2="281.60" stroke="#111" stroke-width="1"/>
<text x="984.99" y="289.50" font-size="18.5" textLength="39.10" lengthAdjust="spacingAndGlyphs" fill="#000">1000</text>
<line x1="1030" y1="233.20" x2="1896" y2="233.20" stroke="#ffffff" stroke-opacity="0.45" stroke-width="1"/>
<line x1="1030" y1="234.20" x2="1896" y2="234.20" stroke="#2e2e2e" stroke-width="1"/>
<line x1="1025" y1="234.20" x2="1029" y2="234.20" stroke="#111" stroke-width="1"/>
<text x="984.99" y="242.10" font-size="18.5" textLength="39.10" lengthAdjust="spacingAndGlyphs" fill="#000">1500</text>
<line x1="1030" y1="186.00" x2="1896" y2="186.00" stroke="#ffffff" stroke-opacity="0.45" stroke-width="1"/>
<line x1="1030" y1="187.00" x2="1896" y2="187.00" stroke="#2e2e2e" stroke-width="1"/>
<line x1="1025" y1="187.00" x2="1029" y2="187.00" stroke="#111" stroke-width="1"/>
<text x="984.99" y="194.90" font-size="18.5" textLength="39.10" lengthAdjust="spacingAndGlyphs" fill="#000">2000</text>
<line x1="1033.75" y1="382" x2="1033.75" y2="386.8" stroke="#111" stroke-width="1"/>
<text x="1011.76" y="406.50" font-size="18.5" textLength="43.98" lengthAdjust="spacingAndGlyphs" fill="#000">00:00</text>
<line x1="1103.42" y1="382" x2="1103.42" y2="386.8" stroke="#111" stroke-width="1"/>
<text x="1081.45" y="406.50" font-size="18.5" textLength="43.98" lengthAdjust="spacingAndGlyphs" fill="#000">00:05</text>
<line x1="1173.08" y1="382" x2="1173.08" y2="386.8" stroke="#111" stroke-width="1"/>
<text x="1151.09" y="406.50" font-size="18.5" textLength="43.98" lengthAdjust="spacingAndGlyphs" fill="#000">00:10</text>
<line x1="1242.75" y1="382" x2="1242.75" y2="386.8" stroke="#111" stroke-width="1"/>
<text x="1220.79" y="406.50" font-size="18.5" textLength="43.98" lengthAdjust="spacingAndGlyphs" fill="#000">00:15</text>
<line x1="1312.42" y1="382" x2="1312.42" y2="386.8" stroke="#111" stroke-width="1"/>
<text x="1290.43" y="406.50" font-size="18.5" textLength="43.98" lengthAdjust="spacingAndGlyphs" fill="#000">00:20</text>
<line x1="1382.08" y1="382" x2="1382.08" y2="386.8" stroke="#111" stroke-width="1"/>
<text x="1360.12" y="406.50" font-size="18.5" textLength="43.98" lengthAdjust="spacingAndGlyphs" fill="#000">00:25</text>
<line x1="1451.75" y1="382" x2="1451.75" y2="386.8" stroke="#111" stroke-width="1"/>
<text x="1429.76" y="406.50" font-size="18.5" textLength="43.98" lengthAdjust="spacingAndGlyphs" fill="#000">00:30</text>
<line x1="1521.42" y1="382" x2="1521.42" y2="386.8" stroke="#111" stroke-width="1"/>
<text x="1499.45" y="406.50" font-size="18.5" textLength="43.98" lengthAdjust="spacingAndGlyphs" fill="#000">00:35</text>
<line x1="1591.08" y1="382" x2="1591.08" y2="386.8" stroke="#111" stroke-width="1"/>
<text x="1569.09" y="406.50" font-size="18.5" textLength="43.98" lengthAdjust="spacingAndGlyphs" fill="#000">00:40</text>
<line x1="1660.75" y1="382" x2="1660.75" y2="386.8" stroke="#111" stroke-width="1"/>
<text x="1638.79" y="406.50" font-size="18.5" textLength="43.98" lengthAdjust="spacingAndGlyphs" fill="#000">00:45</text>
<line x1="1730.42" y1="382" x2="1730.42" y2="386.8" stroke="#111" stroke-width="1"/>
<text x="1708.43" y="406.50" font-size="18.5" textLength="43.98" lengthAdjust="spacingAndGlyphs" fill="#000">00:50</text>
<line x1="1800.08" y1="382" x2="1800.08" y2="386.8" stroke="#111" stroke-width="1"/>
<text x="1778.12" y="406.50" font-size="18.5" textLength="43.98" lengthAdjust="spacingAndGlyphs" fill="#000">00:55</text>
<line x1="1869.75" y1="382" x2="1869.75" y2="386.8" stroke="#111" stroke-width="1"/>
<text x="1847.76" y="406.50" font-size="18.5" textLength="43.98" lengthAdjust="spacingAndGlyphs" fill="#000">01:00</text>
<text x="1443.93" y="429.80" font-size="18.5" font-style="italic" textLength="38.23" lengthAdjust="spacingAndGlyphs" fill="#000">Time</text>
<clipPath id="c1"><rect x="1030" y="147" width="866" height="234"/></clipPath>
<g clip-path="url(#c1)" fill="none" stroke-width="2" stroke-linejoin="round" stroke-linecap="round">
<polyline stroke="#ff0000" points="1033.8,375.1 1034.2,358.8 1034.8,358.8 1035.2,358.8 1035.8,358.8 1036.2,358.8 1036.8,371.4 1037.2,374.8 1037.8,373.0 1038.2,372.8 1038.8,371.0 1039.2,373.5 1039.8,369.8 1040.2,374.3 1040.8,372.1 1041.2,372.3 1041.8,374.4 1042.2,372.4 1042.8,374.1 1043.2,374.5 1043.8,371.7 1044.2,373.8 1044.8,373.4 1045.2,373.6 1045.8,371.8 1046.2,372.9 1046.8,371.1 1047.2,375.1 1047.8,369.4 1048.2,374.0 1048.8,374.1 1049.2,370.2 1049.8,370.2 1050.2,373.2 1050.8,374.5 1051.2,372.6 1051.8,374.7 1052.2,369.6 1052.8,371.0 1053.2,374.1 1053.8,372.0 1054.2,375.0 1054.8,367.4 1055.2,373.6 1055.8,374.1 1056.2,364.5 1056.8,364.5 1057.2,368.8 1057.8,372.0 1058.2,374.5 1058.8,371.7 1059.2,373.9 1059.8,371.3 1060.2,373.5 1060.8,372.0 1061.2,368.5 1061.8,374.9 1062.2,375.1 1062.8,371.7 1063.2,373.9 1063.8,372.7 1064.2,368.4 1064.8,372.1 1065.2,368.8 1065.8,373.3 1066.2,374.0 1066.8,372.8 1067.2,372.6 1067.8,375.3 1068.2,374.7 1068.8,374.6 1069.2,373.5 1069.8,374.2 1070.2,372.6 1070.8,374.3 1071.2,373.1 1071.8,374.3 1072.2,374.0 1072.8,319.9 1073.2,319.9 1073.8,278.5 1074.2,268.3 1074.8,275.8 1075.2,268.5 1075.8,270.9 1076.2,269.9 1076.8,273.2 1077.2,273.6 1077.8,274.2 1078.2,277.0 1078.8,270.8 1079.2,271.8 1079.8,274.2 1080.2,319.9 1080.8,363.1 1081.2,373.2 1081.8,374.1 1082.2,371.4 1082.8,371.7 1083.2,373.9 1083.8,373.3 1084.2,372.9 1084.8,374.2 1085.2,372.0 1085.8,373.7 1086.2,369.2 1086.8,371.4 1087.2,375.2 1087.8,375.1 1088.2,373.1 1088.8,367.2 1089.2,374.5 1089.8,374.6 1090.2,374.6 1090.8,372.5 1091.2,373.6 1091.8,372.9 1092.2,372.1 1092.8,374.5 1093.2,373.0 1093.8,374.8 1094.2,372.7 1094.8,372.7 1095.2,372.6 1095.8,374.1 1096.2,371.6 1096.8,370.9 1097.2,375.3 1097.8,373.3 1098.2,374.9 1098.8,372.7 1099.2,374.1 1099.8,372.8 1100.2,374.3 1100.8,375.1 1101.2,372.2 1101.8,372.3 1102.2,370.3 1102.8,375.0 1103.2,371.7 1103.8,373.8 1104.2,375.3 1104.8,374.3 1105.2,374.7 1105.8,370.0 1106.2,374.6 1106.8,372.9 1107.2,370.6 1107.8,375.1 1108.2,374.6 1108.8,375.1 1109.2,374.1 1109.8,373.0 1110.2,374.4 1110.8,375.3 1111.2,373.6 1111.8,375.3 1112.2,372.5 1112.8,373.6 1113.2,373.0 1113.8,372.5 1114.2,374.9 1114.8,373.6 1115.2,370.9 1115.8,371.3 1116.2,375.0 1116.8,371.5 1117.2,372.7 1117.8,371.1 1118.2,373.8 1118.8,374.2 1119.2,371.8 1119.8,372.8 1120.2,368.8 1120.8,370.6 1121.2,372.5 1121.8,375.3 1122.2,374.8 1122.8,374.1 1123.2,373.0 1123.8,369.9 1124.2,368.5 1124.8,370.1 1125.2,374.3 1125.8,370.9 1126.2,374.8 1126.8,374.6 1127.2,368.2 1127.8,374.9 1128.2,319.9 1128.8,319.9 1129.2,269.5 1129.8,271.7 1130.2,273.5 1130.8,272.2 1131.2,277.1 1131.8,276.4 1132.2,279.5 1132.8,274.7 1133.2,274.1 1133.8,272.3 1134.2,276.8 1134.8,274.6 1135.2,272.6 1135.8,319.9 1136.2,319.9 1136.8,373.2 1137.2,374.5 1137.8,371.2 1138.2,372.9 1138.8,372.2 1139.2,374.6 1139.8,374.2 1140.2,373.1 1140.8,371.4 1141.2,373.5 1141.8,372.9 1142.2,371.3 1142.8,373.5 1143.2,375.2 1143.8,372.7 1144.2,374.8 1144.8,374.8 1145.2,375.1 1145.8,372.7 1146.2,370.6 1146.8,374.1 1147.2,373.7 1147.8,373.9 1148.2,374.5 1148.8,370.9 1149.2,371.3 1149.8,373.0 1150.2,374.0 1150.8,374.5 1151.2,371.7 1151.8,374.7 1152.2,375.2 1152.8,374.7 1153.2,372.7 1153.8,374.5 1154.2,370.2 1154.8,369.6 1155.2,373.3 1155.8,372.9 1156.2,370.5 1156.8,375.3 1157.2,372.2 1157.8,374.9 1158.2,372.1 1158.8,374.6 1159.2,368.8 1159.8,372.5 1160.2,374.3 1160.8,371.5 1161.2,375.3 1161.8,374.2 1162.2,372.8 1162.8,370.2 1163.2,372.9 1163.8,372.4 1164.2,375.2 1164.8,372.8 1165.2,373.4 1165.8,373.0 1166.2,374.7 1166.8,374.8 1167.2,373.6 1167.8,372.5 1168.2,371.7 1168.8,373.4 1169.2,375.2 1169.8,372.5 1170.2,374.9 1170.8,372.7 1171.2,369.1 1171.8,374.2 1172.2,373.4 1172.8,372.9 1173.2,374.0 1173.8,369.0 1174.2,373.8 1174.8,365.8 1175.2,371.7 1175.8,372.9 1176.2,374.8 1176.8,375.0 1177.2,372.7 1177.8,373.6 1178.2,374.5 1178.8,374.2 1179.2,374.6 1179.8,370.4 1180.2,374.7 1180.8,373.3 1181.2,373.6 1181.8,373.5 1182.2,368.5 1182.8,374.6 1183.2,375.0 1183.8,374.7 1184.2,373.8 1184.8,319.9 1185.2,271.0 1185.8,272.2 1186.2,272.5 1186.8,275.5 1187.2,271.2 1187.8,271.5 1188.2,275.3 1188.8,272.8 1189.2,271.2 1189.8,274.0 1190.2,270.8 1190.8,273.1 1191.2,272.9 1191.8,319.9 1192.2,319.9 1192.8,372.6 1193.2,374.6 1193.8,374.6 1194.2,372.5 1194.8,373.1 1195.2,374.1 1195.8,373.7 1196.2,368.2 1196.8,372.4 1197.2,374.7 1197.8,371.8 1198.2,371.4 1198.8,372.3 1199.2,374.9 1199.8,374.3 1200.2,368.0 1200.8,374.3 1201.2,372.6 1201.8,373.7 1202.2,372.3 1202.8,372.7 1203.2,373.2 1203.8,372.2 1204.2,373.4 1204.8,372.1 1205.2,372.3 1205.8,374.6 1206.2,373.5 1206.8,372.7 1207.2,375.1 1207.8,372.4 1208.2,374.8 1208.8,372.8 1209.2,374.3 1209.8,374.9 1210.2,371.2 1210.8,373.4 1211.2,370.4 1211.8,371.1 1212.2,369.6 1212.8,373.4 1213.2,374.9 1213.8,372.5 1214.2,373.6 1214.8,369.0 1215.2,375.0 1215.8,373.0 1216.2,370.8 1216.8,374.2 1217.2,372.7 1217.8,371.5 1218.2,373.5 1218.8,373.9 1219.2,372.6 1219.8,371.4 1220.2,369.6 1220.8,374.6 1221.2,374.2 1221.8,372.4 1222.2,371.8 1222.8,371.1 1223.2,371.5 1223.8,372.0 1224.2,375.2 1224.8,375.0 1225.2,373.7 1225.8,375.0 1226.2,375.0 1226.8,372.2 1227.2,374.6 1227.8,368.7 1228.2,374.9 1228.8,374.6 1229.2,374.6 1229.8,373.4 1230.2,375.3 1230.8,374.5 1231.2,372.5 1231.8,369.8 1232.2,372.2 1232.8,371.8 1233.2,373.6 1233.8,372.2 1234.2,371.3 1234.8,374.9 1235.2,371.3 1235.8,374.5 1236.2,373.0 1236.8,373.6 1237.2,373.6 1237.8,371.4 1238.2,373.2 1238.8,373.9 1239.2,368.5 1239.8,319.9 1240.2,269.1 1240.8,270.4 1241.2,258.6 1241.8,233.6 1242.2,233.6 1242.8,273.5 1243.2,270.8 1243.8,263.4 1244.2,243.9 1244.8,243.9 1245.2,264.9 1245.8,267.0 1246.2,263.6 1246.8,319.9 1247.2,319.9 1247.8,373.8 1248.2,373.4 1248.8,370.5 1249.2,372.0 1249.8,374.5 1250.2,368.9 1250.8,370.0 1251.2,374.5 1251.8,374.2 1252.2,373.7 1252.8,374.5 1253.2,373.3 1253.8,375.1 1254.2,371.0 1254.8,369.2 1255.2,375.3 1255.8,370.4 1256.2,372.4 1256.8,374.6 1257.2,374.2 1257.8,371.7 1258.2,372.2 1258.8,368.8 1259.2,375.2 1259.8,373.5 1260.2,370.5 1260.8,362.0 1261.2,373.0 1261.8,366.9 1262.2,375.3 1262.8,374.1 1263.2,373.0 1263.8,372.3 1264.2,373.6 1264.8,373.6 1265.2,368.7 1265.8,374.6 1266.2,373.6 1266.8,367.8 1267.2,370.8 1267.8,375.4 1268.2,373.9 1268.8,368.1 1269.2,369.7 1269.8,290.7 1270.2,371.7 1270.8,374.0 1271.2,372.5 1271.8,371.3 1272.2,369.4 1272.8,370.0 1273.2,369.7 1273.8,373.6 1274.2,374.7 1274.8,372.8 1275.2,373.2 1275.8,373.7 1276.2,374.0 1276.8,374.6 1277.2,374.2 1277.8,374.3 1278.2,375.2 1278.8,374.7 1279.2,370.8 1279.8,374.4 1280.2,372.8 1280.8,373.8 1281.2,373.4 1281.8,373.5 1282.2,375.0 1282.8,373.6 1283.2,374.8 1283.8,365.1 1284.2,374.5 1284.8,373.3 1285.2,371.7 1285.8,373.7 1286.2,368.9 1286.8,370.8 1287.2,370.9 1287.8,373.7 1288.2,372.1 1288.8,375.2 1289.2,374.2 1289.8,373.1 1290.2,373.9 1290.8,374.1 1291.2,375.0 1291.8,374.9 1292.2,374.3 1292.8,374.8 1293.2,373.2 1293.8,372.6 1294.2,373.5 1294.8,372.4 1295.2,374.1 1295.8,319.9 1296.2,270.4 1296.8,270.5 1297.2,271.4 1297.8,270.4 1298.2,270.9 1298.8,273.1 1299.2,277.5 1299.8,270.7 1300.2,272.4 1300.8,274.3 1301.2,272.8 1301.8,273.2 1302.2,275.2 1302.8,273.3 1303.2,276.6 1303.8,319.9 1304.2,373.7 1304.8,371.6 1305.2,375.1 1305.8,374.6 1306.2,373.5 1306.8,370.1 1307.2,367.7 1307.8,374.8 1308.2,372.8 1308.8,372.7 1309.2,373.2 1309.8,369.9 1310.2,374.0 1310.8,370.8 1311.2,372.7 1311.8,375.1 1312.2,371.8 1312.8,372.7 1313.2,373.0 1313.8,366.7 1314.2,373.0 1314.8,373.5 1315.2,372.8 1315.8,374.2 1316.2,371.9 1316.8,373.0 1317.2,374.5 1317.8,373.9 1318.2,374.2 1318.8,374.6 1319.2,374.8 1319.8,328.4 1320.2,328.4 1320.8,370.3 1321.2,372.7 1321.8,373.3 1322.2,374.5 1322.8,370.2 1323.2,370.7 1323.8,374.8 1324.2,368.1 1324.8,373.5 1325.2,375.2 1325.8,374.2 1326.2,370.9 1326.8,374.0 1327.2,370.8 1327.8,372.9 1328.2,375.0 1328.8,374.3 1329.2,373.4 1329.8,372.1 1330.2,372.0 1330.8,370.8 1331.2,373.1 1331.8,373.0 1332.2,373.9 1332.8,374.1 1333.2,373.9 1333.8,370.1 1334.2,373.8 1334.8,371.9 1335.2,374.4 1335.8,374.9 1336.2,373.8 1336.8,370.7 1337.2,374.9 1337.8,373.5 1338.2,372.0 1338.8,371.2 1339.2,367.6 1339.8,374.8 1340.2,372.6 1340.8,373.7 1341.2,368.7 1341.8,367.6 1342.2,373.7 1342.8,374.1 1343.2,375.1 1343.8,374.3 1344.2,372.5 1344.8,374.9 1345.2,372.3 1345.8,375.0 1346.2,372.4 1346.8,372.2 1347.2,373.8 1347.8,374.7 1348.2,375.3 1348.8,373.3 1349.2,374.4 1349.8,372.9 1350.2,371.4 1350.8,375.0 1351.2,319.9 1351.8,319.9 1352.2,271.6 1352.8,271.9 1353.2,275.5 1353.8,273.7 1354.2,268.9 1354.8,272.6 1355.2,274.4 1355.8,273.9 1356.2,267.1 1356.8,271.5 1357.2,273.5 1357.8,277.4 1358.2,319.9 1358.8,319.9 1359.2,375.3 1359.8,372.7 1360.2,374.0 1360.8,372.9 1361.2,367.9 1361.8,344.0 1362.2,344.0 1362.8,372.8 1363.2,372.2 1363.8,373.5 1364.2,375.1 1364.8,375.1 1365.2,371.6 1365.8,374.8 1366.2,374.2 1366.8,375.2 1367.2,369.5 1367.8,374.6 1368.2,375.0 1368.8,372.4 1369.2,371.9 1369.8,375.1 1370.2,373.5 1370.8,375.2 1371.2,374.1 1371.8,372.9 1372.2,373.0 1372.8,372.1 1373.2,372.9 1373.8,373.3 1374.2,369.7 1374.8,373.8 1375.2,375.2 1375.8,372.6 1376.2,372.7 1376.8,371.6 1377.2,370.5 1377.8,374.2 1378.2,370.1 1378.8,369.3 1379.2,362.1 1379.8,374.2 1380.2,372.8 1380.8,370.3 1381.2,372.3 1381.8,373.5 1382.2,374.6 1382.8,374.7 1383.2,373.5 1383.8,372.7 1384.2,373.4 1384.8,371.0 1385.2,373.5 1385.8,375.4 1386.2,373.5 1386.8,370.2 1387.2,371.8 1387.8,374.5 1388.2,374.9 1388.8,373.7 1389.2,368.7 1389.8,373.8 1390.2,371.5 1390.8,373.3 1391.2,373.8 1391.8,375.4 1392.2,363.6 1392.8,374.4 1393.2,373.9 1393.8,373.9 1394.2,372.1 1394.8,374.5 1395.2,372.2 1395.8,375.0 1396.2,372.1 1396.8,373.5 1397.2,372.7 1397.8,373.8 1398.2,373.1 1398.8,371.8 1399.2,375.1 1399.8,372.3 1400.2,374.4 1400.8,374.0 1401.2,375.2 1401.8,374.8 1402.2,373.3 1402.8,372.5 1403.2,370.7 1403.8,372.8 1404.2,374.5 1404.8,370.9 1405.2,374.0 1405.8,372.8 1406.2,370.2 1406.8,374.4 1407.2,374.6 1407.8,319.9 1408.2,274.1 1408.8,274.1 1409.2,277.3 1409.8,273.8 1410.2,275.1 1410.8,274.1 1411.2,272.2 1411.8,269.9 1412.2,275.1 1412.8,268.1 1413.2,271.2 1413.8,271.0 1414.2,319.9 1414.8,371.2 1415.2,373.4 1415.8,372.5 1416.2,374.6 1416.8,373.1 1417.2,372.3 1417.8,373.5 1418.2,372.8 1418.8,372.9 1419.2,373.1 1419.8,374.5 1420.2,373.8 1420.8,374.7 1421.2,374.5 1421.8,374.9 1422.2,373.5 1422.8,367.6 1423.2,374.0 1423.8,372.4 1424.2,374.5 1424.8,372.6 1425.2,364.4 1425.8,374.5 1426.2,375.3 1426.8,374.3 1427.2,371.5 1427.8,373.2 1428.2,372.7 1428.8,372.8 1429.2,374.5 1429.8,374.6 1430.2,375.3 1430.8,373.1 1431.2,372.4 1431.8,374.7 1432.2,374.6 1432.8,373.8 1433.2,375.4 1433.8,372.0 1434.2,371.4 1434.8,371.4 1435.2,373.5 1435.8,371.8 1436.2,369.8 1436.8,373.2 1437.2,375.0 1437.8,373.2 1438.2,370.8 1438.8,370.7 1439.2,371.8 1439.8,374.9 1440.2,374.7 1440.8,371.5 1441.2,373.6 1441.8,371.4 1442.2,373.5 1442.8,375.3 1443.2,370.1 1443.8,373.8 1444.2,365.6 1444.8,373.5 1445.2,375.2 1445.8,369.6 1446.2,374.0 1446.8,374.1 1447.2,374.2 1447.8,370.6 1448.2,375.1 1448.8,374.3 1449.2,373.8 1449.8,374.2 1450.2,373.0 1450.8,373.9 1451.2,373.0 1451.8,373.2 1452.2,372.7 1452.8,371.8 1453.2,372.2 1453.8,374.7 1454.2,370.1 1454.8,374.7 1455.2,372.0 1455.8,371.5 1456.2,374.1 1456.8,372.5 1457.2,373.0 1457.8,360.9 1458.2,372.7 1458.8,373.3 1459.2,374.1 1459.8,373.2 1460.2,375.0 1460.8,370.7 1461.2,374.6 1461.8,372.4 1462.2,319.9 1462.8,274.4 1463.2,270.3 1463.8,272.3 1464.2,274.3 1464.8,271.4 1465.2,270.7 1465.8,275.6 1466.2,271.6 1466.8,274.6 1467.2,273.2 1467.8,272.6 1468.2,271.0 1468.8,270.3 1469.2,272.5 1469.8,319.9 1470.2,319.9 1470.8,371.9 1471.2,374.4 1471.8,373.7 1472.2,371.9 1472.8,370.6 1473.2,375.0 1473.8,371.3 1474.2,370.0 1474.8,373.2 1475.2,374.7 1475.8,374.5 1476.2,374.0 1476.8,375.2 1477.2,372.0 1477.8,371.1 1478.2,374.2 1478.8,368.3 1479.2,375.4 1479.8,372.2 1480.2,371.2 1480.8,373.2 1481.2,370.0 1481.8,370.7 1482.2,373.5 1482.8,369.7 1483.2,374.3 1483.8,374.5 1484.2,375.3 1484.8,363.0 1485.2,374.9 1485.8,370.1 1486.2,371.0 1486.8,374.6 1487.2,370.8 1487.8,371.6 1488.2,373.1 1488.8,374.5 1489.2,373.1 1489.8,375.0 1490.2,371.6 1490.8,371.3 1491.2,373.8 1491.8,373.9 1492.2,374.0 1492.8,370.9 1493.2,371.5 1493.8,374.2 1494.2,374.6 1494.8,373.5 1495.2,369.8 1495.8,370.7 1496.2,370.7 1496.8,374.6 1497.2,371.6 1497.8,375.0 1498.2,371.1 1498.8,372.6 1499.2,374.2 1499.8,367.2 1500.2,372.7 1500.8,375.0 1501.2,372.9 1501.8,373.5 1502.2,370.5 1502.8,374.3 1503.2,371.7 1503.8,372.5 1504.2,371.6 1504.8,374.6 1505.2,373.7 1505.8,374.2 1506.2,374.2 1506.8,374.1 1507.2,370.9 1507.8,375.3 1508.2,373.3 1508.8,374.2 1509.2,373.8 1509.8,374.4 1510.2,371.5 1510.8,374.9 1511.2,364.0 1511.8,373.8 1512.2,374.0 1512.8,374.3 1513.2,372.4 1513.8,372.3 1514.2,370.6 1514.8,373.8 1515.2,373.9 1515.8,371.6 1516.2,370.6 1516.8,375.1 1517.2,374.6 1517.8,375.3 1518.2,319.9 1518.8,271.7 1519.2,267.2 1519.8,271.2 1520.2,274.6 1520.8,269.6 1521.2,270.6 1521.8,269.8 1522.2,272.5 1522.8,268.5 1523.2,276.7 1523.8,272.2 1524.2,272.4 1524.8,267.6 1525.2,274.7 1525.8,319.9 1526.2,319.9 1526.8,375.3 1527.2,369.1 1527.8,371.6 1528.2,371.6 1528.8,373.7 1529.2,375.2 1529.8,374.1 1530.2,370.8 1530.8,375.0 1531.2,375.1 1531.8,372.4 1532.2,374.5 1532.8,373.8 1533.2,370.7 1533.8,371.9 1534.2,370.9 1534.8,373.9 1535.2,371.9 1535.8,374.7 1536.2,373.6 1536.8,369.2 1537.2,370.6 1537.8,374.5 1538.2,374.0 1538.8,374.4 1539.2,369.2 1539.8,374.0 1540.2,372.6 1540.8,372.7 1541.2,375.0 1541.8,374.4 1542.2,373.0 1542.8,370.5 1543.2,372.6 1543.8,374.0 1544.2,368.8 1544.8,373.9 1545.2,373.6 1545.8,374.9 1546.2,375.1 1546.8,373.8 1547.2,375.1 1547.8,373.2 1548.2,374.7 1548.8,373.4 1549.2,374.6 1549.8,374.8 1550.2,371.3 1550.8,374.2 1551.2,373.8 1551.8,374.1 1552.2,369.6 1552.8,368.2 1553.2,373.5 1553.8,373.8 1554.2,372.4 1554.8,374.9 1555.2,373.3 1555.8,372.3 1556.2,374.3 1556.8,370.0 1557.2,374.6 1557.8,370.8 1558.2,367.6 1558.8,372.8 1559.2,374.4 1559.8,375.2 1560.2,370.6 1560.8,373.9 1561.2,372.6 1561.8,372.5 1562.2,374.4 1562.8,374.4 1563.2,374.0 1563.8,365.5 1564.2,372.5 1564.8,372.6 1565.2,370.9 1565.8,374.9 1566.2,372.3 1566.8,372.0 1567.2,375.1 1567.8,374.2 1568.2,373.0 1568.8,372.5 1569.2,375.0 1569.8,374.7 1570.2,372.1 1570.8,373.3 1571.2,374.1 1571.8,372.4 1572.2,372.1 1572.8,371.0 1573.2,371.0 1573.8,371.8 1574.2,319.9 1574.8,272.4 1575.2,276.8 1575.8,274.7 1576.2,271.6 1576.8,270.1 1577.2,272.0 1577.8,273.8 1578.2,276.1 1578.8,275.8 1579.2,274.1 1579.8,272.7 1580.2,271.8 1580.8,277.2 1581.2,319.9 1581.8,319.9 1582.2,371.7 1582.8,375.4 1583.2,372.6 1583.8,372.9 1584.2,371.1 1584.8,373.4 1585.2,374.6 1585.8,373.9 1586.2,375.0 1586.8,375.0 1587.2,370.4 1587.8,372.2 1588.2,375.2 1588.8,374.7 1589.2,373.1 1589.8,374.8 1590.2,365.8 1590.8,375.4 1591.2,373.9 1591.8,370.1 1592.2,368.3 1592.8,374.9 1593.2,363.6 1593.8,373.1 1594.2,375.2 1594.8,375.4 1595.2,374.1 1595.8,369.6 1596.2,371.7 1596.8,369.6 1597.2,372.3 1597.8,375.3 1598.2,375.2 1598.8,373.4 1599.2,373.3 1599.8,375.0 1600.2,373.3 1600.8,373.9 1601.2,373.2 1601.8,370.8 1602.2,372.4 1602.8,373.5 1603.2,370.0 1603.8,374.2 1604.2,375.2 1604.8,374.8 1605.2,372.0 1605.8,364.9 1606.2,367.9 1606.8,372.9 1607.2,372.0 1607.8,374.7 1608.2,368.9 1608.8,375.2 1609.2,370.2 1609.8,364.9 1610.2,374.1 1610.8,374.4 1611.2,375.1 1611.8,375.2 1612.2,373.5 1612.8,372.1 1613.2,370.8 1613.8,373.9 1614.2,372.9 1614.8,375.3 1615.2,371.8 1615.8,375.1 1616.2,374.3 1616.8,368.9 1617.2,370.7 1617.8,375.1 1618.2,373.1 1618.8,370.3 1619.2,374.7 1619.8,374.3 1620.2,370.2 1620.8,372.1 1621.2,364.7 1621.8,373.6 1622.2,372.9 1622.8,374.9 1623.2,373.8 1623.8,370.1 1624.2,372.3 1624.8,374.2 1625.2,375.2 1625.8,375.1 1626.2,372.9 1626.8,375.1 1627.2,374.6 1627.8,373.7 1628.2,369.9 1628.8,373.0 1629.2,372.7 1629.8,373.0 1630.2,319.9 1630.8,319.9 1631.2,271.4 1631.8,269.7 1632.2,273.9 1632.8,269.2 1633.2,271.9 1633.8,272.1 1634.2,279.2 1634.8,270.4 1635.2,271.7 1635.8,273.9 1636.2,271.6 1636.8,274.1 1637.2,319.9 1637.8,373.7 1638.2,370.4 1638.8,370.2 1639.2,371.5 1639.8,375.2 1640.2,374.4 1640.8,372.1 1641.2,372.4 1641.8,374.5 1642.2,367.9 1642.8,374.7 1643.2,374.3 1643.8,375.0 1644.2,372.1 1644.8,374.5 1645.2,368.7 1645.8,369.4 1646.2,373.1 1646.8,374.4 1647.2,373.8 1647.8,373.2 1648.2,371.0 1648.8,372.1 1649.2,372.0 1649.8,374.3 1650.2,371.8 1650.8,375.1 1651.2,372.5 1651.8,375.3 1652.2,374.3 1652.8,374.3 1653.2,372.9 1653.8,373.5 1654.2,375.2 1654.8,369.9 1655.2,375.2 1655.8,371.5 1656.2,375.1 1656.8,371.0 1657.2,374.6 1657.8,372.3 1658.2,371.9 1658.8,374.2 1659.2,374.7 1659.8,374.1 1660.2,373.5 1660.8,370.1 1661.2,372.7 1661.8,373.7 1662.2,374.1 1662.8,373.8 1663.2,375.1 1663.8,373.0 1664.2,372.3 1664.8,371.7 1665.2,372.3 1665.8,372.3 1666.2,373.9 1666.8,374.3 1667.2,372.9 1667.8,372.0 1668.2,369.3 1668.8,370.9 1669.2,375.1 1669.8,373.8 1670.2,375.2 1670.8,374.7 1671.2,371.0 1671.8,372.7 1672.2,371.9 1672.8,370.4 1673.2,374.0 1673.8,372.6 1674.2,373.5 1674.8,371.8 1675.2,370.9 1675.8,375.3 1676.2,371.6 1676.8,372.5 1677.2,374.0 1677.8,373.1 1678.2,374.4 1678.8,370.7 1679.2,372.0 1679.8,373.6 1680.2,374.8 1680.8,374.7 1681.2,367.3 1681.8,373.5 1682.2,371.6 1682.8,319.9 1683.2,274.9 1683.8,274.1 1684.2,278.0 1684.8,276.5 1685.2,273.5 1685.8,270.5 1686.2,276.6 1686.8,272.3 1687.2,275.4 1687.8,270.9 1688.2,273.4 1688.8,271.2 1689.2,270.7 1689.8,273.4 1690.2,273.1 1690.8,277.0 1691.2,273.6 1691.8,319.9 1692.2,319.9 1692.8,372.0 1693.2,374.0 1693.8,371.5 1694.2,374.3 1694.8,374.7 1695.2,371.0 1695.8,374.1 1696.2,367.7 1696.8,365.6 1697.2,374.4 1697.8,373.5 1698.2,374.7 1698.8,372.1 1699.2,371.1 1699.8,373.9 1700.2,374.3 1700.8,373.6 1701.2,374.5 1701.8,370.5 1702.2,373.4 1702.8,367.4 1703.2,374.0 1703.8,371.2 1704.2,375.3 1704.8,375.1 1705.2,371.4 1705.8,371.0 1706.2,371.6 1706.8,372.1 1707.2,373.7 1707.8,374.8 1708.2,369.8 1708.8,374.4 1709.2,375.2 1709.8,373.0 1710.2,373.5 1710.8,371.5 1711.2,373.6 1711.8,370.3 1712.2,367.3 1712.8,372.9 1713.2,374.3 1713.8,375.3 1714.2,373.9 1714.8,374.5 1715.2,375.1 1715.8,373.2 1716.2,374.4 1716.8,375.3 1717.2,375.0 1717.8,375.0 1718.2,375.2 1718.8,373.3 1719.2,375.1 1719.8,374.9 1720.2,374.6 1720.8,371.2 1721.2,373.4 1721.8,374.4 1722.2,371.8 1722.8,373.2 1723.2,371.6 1723.8,375.1 1724.2,375.1 1724.8,370.6 1725.2,370.9 1725.8,375.0 1726.2,372.4 1726.8,374.7 1727.2,374.5 1727.8,373.9 1728.2,371.0 1728.8,371.3 1729.2,373.1 1729.8,372.9 1730.2,370.4 1730.8,372.5 1731.2,375.4 1731.8,373.6 1732.2,373.1 1732.8,372.5 1733.2,374.0 1733.8,373.0 1734.2,372.4 1734.8,375.2 1735.2,371.6 1735.8,372.3 1736.2,375.1 1736.8,374.3 1737.2,370.5 1737.8,374.5 1738.2,374.4 1738.8,373.4 1739.2,375.2 1739.8,375.0 1740.2,375.2 1740.8,319.9 1741.2,319.9 1741.8,273.5 1742.2,276.0 1742.8,267.4 1743.2,271.7 1743.8,273.4 1744.2,274.5 1744.8,273.9 1745.2,274.7 1745.8,270.5 1746.2,278.5 1746.8,277.9 1747.2,276.7 1747.8,319.9 1748.2,319.9 1748.8,375.1 1749.2,371.8 1749.8,374.5 1750.2,372.8 1750.8,374.6 1751.2,374.1 1751.8,368.0 1752.2,370.5 1752.8,373.4 1753.2,375.0 1753.8,375.3 1754.2,372.7 1754.8,375.2 1755.2,374.2 1755.8,374.2 1756.2,375.1 1756.8,373.1 1757.2,374.5 1757.8,368.3 1758.2,372.4 1758.8,374.2 1759.2,369.4 1759.8,372.9 1760.2,373.3 1760.8,372.5 1761.2,374.4 1761.8,373.1 1762.2,374.2 1762.8,372.6 1763.2,373.4 1763.8,374.5 1764.2,364.3 1764.8,375.1 1765.2,375.2 1765.8,371.4 1766.2,371.9 1766.8,372.4 1767.2,374.4 1767.8,373.1 1768.2,373.4 1768.8,374.2 1769.2,373.3 1769.8,373.2 1770.2,369.6 1770.8,372.3 1771.2,367.9 1771.8,373.6 1772.2,373.9 1772.8,371.7 1773.2,371.5 1773.8,374.7 1774.2,371.8 1774.8,372.5 1775.2,372.3 1775.8,372.3 1776.2,374.9 1776.8,373.5 1777.2,374.0 1777.8,372.5 1778.2,373.2 1778.8,373.4 1779.2,374.4 1779.8,371.3 1780.2,375.0 1780.8,374.6 1781.2,374.7 1781.8,370.7 1782.2,372.7 1782.8,372.1 1783.2,373.3 1783.8,371.2 1784.2,373.4 1784.8,374.4 1785.2,369.9 1785.8,375.0 1786.2,375.3 1786.8,372.0 1787.2,372.7 1787.8,370.1 1788.2,371.2 1788.8,375.2 1789.2,370.3 1789.8,372.8 1790.2,372.5 1790.8,370.9 1791.2,367.9 1791.8,371.8 1792.2,372.8 1792.8,373.7 1793.2,374.7 1793.8,371.7 1794.2,370.7 1794.8,372.3 1795.2,373.2 1795.8,374.0 1796.2,373.9 1796.8,319.9 1797.2,278.5 1797.8,272.7 1798.2,272.6 1798.8,274.1 1799.2,274.1 1799.8,273.7 1800.2,273.3 1800.8,271.3 1801.2,276.6 1801.8,271.6 1802.2,274.3 1802.8,274.3 1803.2,267.6 1803.8,319.9 1804.2,374.0 1804.8,370.7 1805.2,368.1 1805.8,374.0 1806.2,372.4 1806.8,374.4 1807.2,372.1 1807.8,368.6 1808.2,373.3 1808.8,374.0 1809.2,370.7 1809.8,375.3 1810.2,372.6 1810.8,373.4 1811.2,374.4 1811.8,375.3 1812.2,375.1 1812.8,372.7 1813.2,369.1 1813.8,371.2 1814.2,370.5 1814.8,375.0 1815.2,375.2 1815.8,372.9 1816.2,374.8 1816.8,372.0 1817.2,373.5 1817.8,374.7 1818.2,371.2 1818.8,374.8 1819.2,371.3 1819.8,374.5 1820.2,374.0 1820.8,369.0 1821.2,372.8 1821.8,373.8 1822.2,375.1 1822.8,375.0 1823.2,364.9 1823.8,374.7 1824.2,371.2 1824.8,374.8 1825.2,372.7 1825.8,373.5 1826.2,373.8 1826.8,374.3 1827.2,372.3 1827.8,371.1 1828.2,371.3 1828.8,375.3 1829.2,371.6 1829.8,374.6 1830.2,374.0 1830.8,375.1 1831.2,373.7 1831.8,374.4 1832.2,369.8 1832.8,374.3 1833.2,368.6 1833.8,373.3 1834.2,374.0 1834.8,367.5 1835.2,374.1 1835.8,375.0 1836.2,375.2 1836.8,371.2 1837.2,372.0 1837.8,369.8 1838.2,374.2 1838.8,373.4 1839.2,375.0 1839.8,372.8 1840.2,374.3 1840.8,373.8 1841.2,372.5 1841.8,374.1 1842.2,368.8 1842.8,373.2 1843.2,373.0 1843.8,374.0 1844.2,373.9 1844.8,372.9 1845.2,374.3 1845.8,375.1 1846.2,372.8 1846.8,373.3 1847.2,375.3 1847.8,373.3 1848.2,373.6 1848.8,372.0 1849.2,375.0 1849.8,362.7 1850.2,374.0 1850.8,375.2 1851.2,370.1 1851.8,371.8 1852.2,373.2 1852.8,319.9 1853.2,269.5 1853.8,274.6 1854.2,272.4 1854.8,271.9 1855.2,268.2 1855.8,276.5 1856.2,273.3 1856.8,272.8 1857.2,270.6 1857.8,271.9 1858.2,267.2 1858.8,272.8 1859.2,319.9 1859.8,319.9 1860.2,373.8 1860.8,370.0 1861.2,374.6 1861.8,374.4 1862.2,372.0 1862.8,375.1 1863.2,373.9 1863.8,372.3 1864.2,373.6 1864.8,370.8 1865.2,375.2 1865.8,374.6 1866.2,372.8 1866.8,371.8 1867.2,373.2 1867.8,373.6 1868.2,369.9 1868.8,370.2 1869.2,374.9 1869.8,375.0 1870.2,372.7 1870.8,373.9 1871.2,374.0 1871.8,372.4 1872.2,375.2 1872.8,375.0 1873.2,373.5 1873.8,371.0 1874.2,375.0 1874.8,374.4 1875.2,362.0 1875.8,370.9 1876.2,374.5 1876.8,371.7 1877.2,368.8 1877.8,374.3 1878.2,372.6 1878.8,371.7 1879.2,370.5 1879.8,368.8 1880.2,374.1 1880.8,373.3 1881.2,372.2 1881.8,373.1 1882.2,374.4 1882.8,373.4 1883.2,372.9 1883.8,368.8 1884.2,373.5 1884.8,375.2 1885.2,372.2 1885.8,374.2 1886.2,374.5 1886.8,374.0 1887.2,374.3 1887.8,374.3 1888.2,373.8 1888.8,368.5 1889.2,373.8 1889.8,373.6 1890.2,373.0 1890.8,366.2 1891.2,373.0 1891.8,374.1 1892.2,362.6"/>
<polyline stroke="#008000" points="1033.8,152.6 1034.3,153.5 1034.9,157.2 1035.5,162.8 1036.1,158.1 1036.7,156.2 1037.3,156.4 1037.9,158.2 1038.5,157.8 1039.1,158.2 1039.7,158.7 1040.3,159.4 1040.9,158.7 1041.5,160.3 1042.1,161.2 1042.7,162.2 1043.3,163.6 1043.9,164.2 1044.5,164.9 1045.1,167.1 1045.7,167.3 1046.3,167.0 1046.9,169.4 1047.5,168.4 1048.1,169.3 1048.7,169.0 1049.3,170.4 1049.9,172.0 1050.5,172.9 1051.1,172.2 1051.7,172.5 1052.3,172.1 1052.9,173.2 1053.5,174.2 1054.1,174.4 1054.7,174.7 1055.3,174.6 1055.9,176.3 1056.5,175.6 1057.1,175.6 1057.7,174.9 1058.3,176.6 1058.9,176.4 1059.5,178.4 1060.1,177.0 1060.7,178.0 1061.3,177.8 1061.9,178.7 1062.5,179.7 1063.1,180.7 1063.7,180.8 1064.3,180.9 1064.9,181.7 1065.5,182.6 1066.1,183.0 1066.7,182.5 1067.3,184.2 1067.9,183.5 1068.5,184.5 1069.1,183.6 1069.7,185.3 1070.3,186.6 1070.9,185.3 1071.5,185.5 1072.1,185.4 1072.7,186.0 1073.3,185.4 1073.9,186.8 1074.5,185.4 1075.1,187.0 1075.7,187.0 1076.3,187.9 1076.9,187.7 1077.5,186.9 1078.1,186.7 1078.7,187.4 1079.3,187.1 1079.9,187.2 1080.5,187.5 1081.1,188.1 1081.7,187.9 1082.3,189.2 1082.9,187.7 1083.5,189.2 1084.1,189.5 1084.7,190.9 1085.3,190.3 1085.9,190.2 1086.5,191.6 1087.1,191.0 1087.7,191.4 1088.3,191.2 1088.9,191.6 1089.5,193.0 1090.1,192.3 1090.7,193.2 1091.3,193.1 1091.9,193.1 1092.5,192.7 1093.1,192.7 1093.7,193.4 1094.3,193.3 1094.9,194.4 1095.5,194.2 1096.1,194.4 1096.7,192.9 1097.3,193.3 1097.9,194.7 1098.5,193.4 1099.1,195.1 1099.7,194.4 1100.3,195.3 1100.9,195.2 1101.5,194.2 1102.1,195.7 1102.7,194.2 1103.3,194.3 1103.9,194.1 1104.5,194.8 1105.1,195.9 1105.7,196.8 1106.3,196.2 1106.9,195.5 1107.5,194.3 1108.1,194.0 1108.7,195.1 1109.3,195.2 1109.9,195.8 1110.5,196.3 1111.1,196.0 1111.7,195.9 1112.3,196.1 1112.9,196.5 1113.5,196.5 1114.1,196.6 1114.7,198.3 1115.3,197.7 1115.9,197.4 1116.5,197.7 1117.1,198.6 1117.7,199.0 1118.3,197.2 1118.9,196.9 1119.5,197.4 1120.1,197.1 1120.7,197.7 1121.3,197.5 1121.9,197.4 1122.5,196.9 1123.1,197.4 1123.7,197.8 1124.3,199.6 1124.9,199.0 1125.5,198.3 1126.1,198.3 1126.7,199.1 1127.3,198.6 1127.9,198.9 1128.5,198.4 1129.1,198.7 1129.7,198.3 1130.3,197.7 1130.9,198.5 1131.5,197.8 1132.1,198.1 1132.7,199.7 1133.3,199.0 1133.9,198.8 1134.5,197.9 1135.1,198.7 1135.7,199.7 1136.3,198.7 1136.9,199.8 1137.5,200.2 1138.1,199.5 1138.7,200.5 1139.3,199.8 1139.9,200.7 1140.5,200.0 1141.1,199.8 1141.7,199.4 1142.3,199.2 1142.9,199.8 1143.5,198.8 1144.1,198.2 1144.7,199.4 1145.3,198.6 1145.9,200.1 1146.5,200.0 1147.1,200.7 1147.7,199.0 1148.3,199.7 1148.9,200.1 1149.5,198.8 1150.1,200.2 1150.7,200.6 1151.3,200.5 1151.9,200.1 1152.5,200.2 1153.1,200.6 1153.7,199.1 1154.3,199.1 1154.9,200.5 1155.5,201.0 1156.1,200.3 1156.7,200.9 1157.3,201.5 1157.9,200.7 1158.5,201.3 1159.1,201.5 1159.7,201.8 1160.3,201.3 1160.9,202.0 1161.5,201.0 1162.1,200.8 1162.7,200.9 1163.3,199.4 1163.9,199.1 1164.5,199.7 1165.1,199.3 1165.7,198.9 1166.3,199.4 1166.9,199.2 1167.5,200.0 1168.1,199.3 1168.7,199.7 1169.3,199.5 1169.9,200.9 1170.5,199.8 1171.1,202.3 1171.7,200.9 1172.3,202.8 1172.9,202.4 1173.5,201.7 1174.1,200.9 1174.7,200.8 1175.3,201.7 1175.9,202.3 1176.5,202.5 1177.1,202.6 1177.7,202.5 1178.3,203.6 1178.9,203.0 1179.5,202.6 1180.1,202.9 1180.7,202.2 1181.3,201.9 1181.9,202.0 1182.5,202.4 1183.1,202.6 1183.7,202.6 1184.3,203.0 1184.9,203.8 1185.5,204.0 1186.1,203.6 1186.7,205.0 1187.3,203.1 1187.9,204.4 1188.5,203.0 1189.1,204.5 1189.7,202.1 1190.3,203.6 1190.9,203.1 1191.5,203.9 1192.1,203.5 1192.7,204.7 1193.3,203.8 1193.9,204.7 1194.5,204.9 1195.1,204.5 1195.7,204.5 1196.3,204.7 1196.9,203.6 1197.5,204.2 1198.1,203.9 1198.7,202.9 1199.3,203.1 1199.9,203.6 1200.5,203.3 1201.1,203.2 1201.7,204.1 1202.3,204.6 1202.9,204.2 1203.5,204.6 1204.1,203.9 1204.7,204.5 1205.3,204.9 1205.9,204.5 1206.5,205.0 1207.1,204.8 1207.7,205.3 1208.3,204.8 1208.9,203.8 1209.5,204.2 1210.1,204.6 1210.7,204.2 1211.3,205.0 1211.9,205.8 1212.5,205.2 1213.1,205.5 1213.7,205.5 1214.3,204.5 1214.9,203.7 1215.5,204.2 1216.1,205.1 1216.7,206.1 1217.3,206.5 1217.9,207.2 1218.5,206.6 1219.1,207.5 1219.7,206.7 1220.3,206.7 1220.9,206.3 1221.5,205.6 1222.1,205.2 1222.7,205.0 1223.3,205.7 1223.9,206.0 1224.5,206.0 1225.1,206.6 1225.7,206.4 1226.3,206.4 1226.9,208.0 1227.5,208.1 1228.1,206.2 1228.7,208.0 1229.3,206.1 1229.9,206.3 1230.5,207.4 1231.1,206.7 1231.7,206.5 1232.3,206.8 1232.9,206.9 1233.5,206.7 1234.1,206.1 1235.2,261.8 1235.7,261.8 1236.7,206.1 1237.1,206.1 1237.7,207.0 1238.3,206.2 1238.9,207.0 1239.5,206.1 1240.1,205.7 1240.7,205.8 1241.3,206.1 1241.9,205.4 1242.5,206.2 1243.1,205.3 1243.7,206.1 1244.3,207.3 1244.9,206.7 1245.5,206.7 1246.1,206.5 1246.7,207.5 1247.3,206.7 1247.9,205.8 1248.5,207.6 1249.1,207.0 1249.7,206.5 1250.3,206.5 1250.9,206.3 1251.5,206.5 1252.1,207.1 1252.7,207.1 1253.3,207.4 1253.9,207.7 1254.5,206.5 1255.1,206.6 1255.7,206.0 1256.3,205.7 1256.9,206.5 1257.5,205.7 1258.1,206.6 1258.7,205.9 1259.3,206.0 1259.9,207.4 1260.5,207.2 1261.1,208.2 1261.7,207.5 1262.3,208.2 1262.9,207.1 1263.5,206.9 1264.1,206.0 1264.7,207.1 1265.3,207.1 1265.9,205.7 1266.5,204.9 1267.1,205.8 1267.7,205.3 1268.3,205.5 1268.9,205.2 1269.5,206.4 1270.1,206.3 1270.7,205.3 1271.3,206.2 1271.9,205.7 1272.5,207.2 1273.1,206.8 1273.7,207.4 1274.3,206.9 1274.9,206.8 1275.5,207.3 1276.1,208.1 1276.7,207.1 1277.3,207.7 1277.9,207.6 1278.5,207.2 1279.1,207.5 1279.7,206.8 1280.3,206.4 1280.9,206.4 1281.5,207.9 1282.1,207.2 1282.7,207.3 1283.3,207.3 1283.9,207.7 1284.5,206.8 1285.1,207.5 1285.7,207.4 1286.3,207.2 1286.9,207.5 1287.5,208.4 1288.1,207.8 1288.7,208.8 1289.3,207.5 1289.9,206.3 1290.5,206.5 1291.1,207.2 1291.7,207.8 1292.3,206.9 1292.9,206.9 1293.5,207.9 1294.1,208.0 1294.7,207.6 1295.3,207.8 1295.9,207.2 1296.5,207.7 1297.1,208.1 1297.7,207.7 1298.3,206.9 1298.9,207.7 1299.5,209.2 1300.1,208.0 1300.7,207.4 1301.3,207.4 1301.9,207.5 1302.5,208.4 1303.1,207.4 1303.7,206.2 1304.3,205.5 1304.9,205.7 1305.5,206.6 1306.1,207.5 1306.7,207.7 1307.3,206.8 1307.9,207.8 1308.5,207.8 1309.1,208.2 1309.7,208.6 1310.3,208.6 1310.9,207.8 1311.5,208.1 1312.1,207.9 1312.7,208.1 1313.3,208.4 1313.9,208.0 1314.5,208.5 1315.1,208.3 1315.7,208.6 1316.3,209.5 1316.9,208.0 1317.5,209.3 1318.1,209.9 1318.7,208.8 1319.3,207.2 1319.9,208.8 1320.5,208.1 1321.1,208.9 1321.7,208.8 1322.3,207.4 1322.9,207.8 1323.5,208.5 1324.1,207.5 1324.7,208.0 1325.3,208.7 1325.9,208.0 1326.5,208.0 1327.1,208.0 1327.7,208.4 1328.3,209.4 1328.9,208.2 1329.5,209.1 1330.1,208.6 1330.7,209.0 1331.3,209.5 1331.9,207.8 1332.5,209.1 1333.1,208.8 1333.7,208.6 1334.3,207.8 1334.9,208.9 1335.5,209.8 1336.1,208.4 1336.7,207.9 1337.3,208.1 1337.9,208.0 1338.5,208.3 1339.1,208.8 1339.7,210.5 1340.3,209.0 1340.9,209.3 1341.5,208.8 1342.1,209.4 1342.7,209.4 1343.3,208.3 1343.9,209.2 1344.5,209.3 1345.1,209.8 1345.7,209.5 1346.3,210.5 1346.9,210.6 1347.5,210.6 1348.1,210.3 1348.7,209.9 1349.3,209.8 1349.9,210.1 1350.5,210.5 1351.1,210.7 1351.7,210.3 1352.3,210.2 1352.9,209.0 1353.5,209.2 1354.1,209.7 1354.7,209.7 1355.3,209.9 1355.9,210.8 1356.5,210.2 1357.1,210.5 1357.7,210.3 1358.3,209.7 1358.9,210.3 1359.5,209.7 1360.1,209.5 1360.7,210.7 1361.3,211.4 1361.9,210.5 1362.5,211.4 1363.1,211.6 1363.7,212.0 1364.3,211.2 1364.9,211.4 1365.5,211.0 1366.1,209.9 1366.7,211.0 1367.3,211.1 1367.9,212.0 1368.5,211.7 1369.1,212.0 1369.7,212.4 1370.3,211.2 1370.9,211.2 1371.5,211.7 1372.1,211.9 1372.7,211.5 1373.3,211.8 1373.9,211.9 1374.5,211.9 1375.1,212.6 1375.7,211.5 1376.3,212.6 1376.9,212.3 1377.5,212.0 1378.1,212.3 1378.7,212.2 1379.3,211.6 1379.9,212.1 1380.5,211.1 1381.1,211.4 1381.7,210.0 1382.3,212.1 1382.9,211.0 1383.5,210.8 1384.1,211.0 1384.7,210.8 1385.3,210.6 1385.9,211.2 1386.5,211.1 1387.1,211.1 1387.7,210.9 1388.3,211.7 1388.9,212.4 1389.5,211.4 1390.1,212.2 1390.7,211.6 1391.3,212.5 1391.9,211.6 1392.5,211.3 1393.1,210.7 1393.7,211.4 1394.3,211.1 1394.9,211.4 1395.5,212.0 1396.1,211.7 1396.7,211.4 1397.3,209.7 1397.9,209.9 1398.5,209.7 1399.1,210.1 1399.7,210.8 1400.3,210.3 1400.9,210.6 1401.5,209.9 1402.1,211.7 1402.7,212.5 1403.3,210.9 1403.9,211.2 1404.5,211.3 1405.1,211.2 1405.7,211.1 1406.3,210.8 1406.9,209.6 1407.5,210.2 1408.1,210.4 1408.7,210.7 1409.3,210.0 1409.9,209.8 1410.5,210.3 1411.1,210.0 1411.7,211.2 1412.3,211.1 1412.9,211.1 1413.5,210.7 1414.1,212.1 1414.7,211.0 1415.3,211.5 1415.9,211.5 1416.5,211.1 1417.1,210.6 1417.7,211.9 1418.3,212.5 1418.9,211.3 1419.5,211.2 1420.1,211.3 1420.7,211.9 1421.3,211.4 1421.9,211.7 1422.0,210.8 1423.0,234.5 1423.5,234.5 1424.6,210.8 1424.9,210.8 1425.5,211.5 1426.1,210.4 1426.7,209.7 1427.3,210.0 1427.9,210.1 1428.5,210.0 1429.1,210.9 1429.7,211.0 1430.3,210.4 1430.9,210.8 1431.5,212.1 1432.1,211.3 1432.7,211.4 1433.3,211.1 1433.9,209.6 1434.5,211.6 1435.1,211.1 1435.7,210.1 1436.3,209.4 1436.9,211.1 1437.5,210.4 1438.1,211.4 1438.7,212.3 1439.3,211.2 1439.9,211.1 1440.5,211.1 1441.1,211.6 1441.7,211.5 1442.3,211.8 1442.9,210.4 1443.5,210.8 1444.1,210.9 1444.7,211.8 1445.3,211.5 1445.9,210.7 1446.5,211.3 1447.1,210.9 1447.7,212.1 1448.3,212.3 1448.9,213.3 1449.5,212.8 1450.1,213.8 1450.7,213.7 1451.3,213.4 1451.9,214.0 1452.5,212.9 1453.1,213.2 1453.7,212.7 1454.3,211.4 1454.9,213.0 1455.5,212.5 1456.1,212.8 1456.7,212.5 1457.3,212.7 1457.9,212.3 1458.5,213.0 1459.1,212.5 1459.7,212.6 1460.3,214.3 1460.9,213.5 1461.5,214.8 1462.1,213.1 1462.7,213.9 1463.3,214.4 1463.9,212.9 1464.5,213.3 1465.1,212.9 1465.7,212.4 1466.3,211.7 1466.9,212.6 1467.5,213.3 1468.1,213.4 1468.7,212.3 1469.3,213.1 1469.9,212.3 1470.5,212.4 1471.1,211.9 1471.7,212.2 1472.3,212.3 1472.9,212.2 1473.5,210.3 1474.1,212.0 1474.7,212.1 1475.3,213.0 1475.9,211.9 1476.5,211.7 1477.1,211.5 1477.7,211.8 1478.3,211.6 1478.9,212.7 1479.5,211.6 1480.1,212.1 1480.7,211.4 1481.3,211.0 1481.9,211.9 1482.5,211.4 1483.1,210.9 1483.7,211.7 1484.3,211.6 1484.9,213.1 1485.5,213.8 1486.1,212.2 1486.7,211.7 1487.3,211.2 1487.9,211.2 1488.5,211.9 1489.1,212.2 1489.7,211.9 1490.3,212.1 1490.9,213.1 1491.5,212.9 1492.1,211.9 1492.7,213.0 1493.3,212.3 1493.9,211.9 1494.5,211.2 1495.1,210.3 1495.7,211.3 1496.3,211.2 1496.9,211.6 1497.5,211.4 1498.1,211.3 1498.7,211.5 1499.3,211.8 1499.9,213.0 1500.5,213.3 1501.1,212.3 1501.7,212.6 1502.3,211.7 1502.9,212.5 1503.5,212.7 1504.1,213.0 1504.7,212.4 1505.3,212.9 1505.9,212.6 1506.5,212.8 1507.1,212.1 1507.7,211.2 1508.3,212.1 1508.9,214.0 1509.5,212.8 1510.1,213.1 1510.7,213.8 1511.3,213.4 1511.9,214.1 1512.1,213.2 1513.2,274.2 1513.7,274.2 1514.7,213.2 1514.9,213.2 1515.5,214.8 1516.1,213.4 1516.7,212.0 1517.3,214.0 1517.9,213.1 1518.5,212.1 1519.1,213.0 1519.7,214.1 1520.3,212.7 1520.9,213.1 1521.5,213.5 1522.1,213.2 1522.7,213.1 1523.3,212.8 1523.9,212.8 1524.5,212.1 1525.1,212.1 1525.7,213.1 1526.3,212.2 1526.9,211.8 1527.5,211.2 1528.1,212.9 1528.7,211.5 1529.3,212.0 1529.9,212.2 1530.5,212.1 1531.1,210.3 1531.7,212.2 1532.3,211.5 1532.9,212.4 1533.5,212.1 1534.1,212.2 1534.7,212.5 1535.3,211.9 1535.9,212.2 1536.5,211.8 1537.1,211.5 1537.7,212.7 1538.3,212.0 1538.9,212.8 1539.5,213.3 1540.1,213.3 1540.7,212.2 1541.3,212.5 1541.9,212.1 1542.5,212.8 1543.1,211.3 1543.7,212.3 1544.3,212.8 1544.9,212.3 1545.5,213.0 1546.1,212.5 1546.7,211.8 1547.3,213.0 1547.9,212.7 1548.5,212.4 1549.1,213.4 1549.7,213.1 1550.3,213.2 1550.9,211.2 1551.5,211.7 1552.1,212.4 1552.7,211.9 1553.3,210.5 1553.9,210.6 1554.5,212.1 1555.1,212.7 1555.7,212.6 1556.3,213.0 1556.9,213.1 1557.5,212.8 1558.1,213.0 1558.7,212.1 1559.3,213.3 1559.9,213.0 1560.5,213.0 1561.1,213.4 1561.7,213.7 1562.3,214.7 1562.9,213.2 1563.5,213.3 1564.1,212.3 1564.7,212.2 1565.3,212.6 1565.9,212.4 1566.5,213.0 1567.1,212.3 1567.7,211.2 1568.3,210.9 1568.9,212.5 1569.5,212.4 1570.1,211.7 1570.7,212.0 1571.3,210.4 1571.9,211.3 1572.5,211.1 1573.1,211.8 1573.7,211.5 1574.3,211.8 1574.9,212.3 1575.5,211.8 1576.1,213.0 1576.7,212.0 1577.3,211.8 1577.9,211.4 1578.5,212.0 1579.1,212.5 1579.7,213.2 1580.3,213.3 1580.9,211.9 1581.5,211.9 1582.1,211.8 1582.7,212.5 1583.3,213.5 1583.9,214.3 1584.5,214.5 1585.1,213.5 1585.7,212.8 1586.3,213.4 1586.9,214.2 1587.5,214.5 1588.1,214.8 1588.7,214.2 1589.3,213.9 1589.9,213.8 1590.5,213.7 1591.1,212.0 1591.7,211.7 1592.3,211.8 1592.9,212.8 1593.5,212.1 1594.1,212.4 1594.7,211.9 1595.3,212.0 1595.9,211.7 1596.5,213.0 1597.1,212.9 1597.7,213.4 1598.3,213.2 1598.9,212.7 1599.5,214.1 1600.1,213.7 1600.7,213.2 1601.2,213.5 1602.2,271.3 1602.8,271.3 1603.8,213.5 1604.3,213.5 1604.9,213.0 1605.5,214.6 1606.1,212.6 1606.7,212.1 1607.3,212.9 1607.9,212.6 1608.5,212.5 1609.1,213.0 1609.7,213.3 1610.3,212.1 1610.9,213.1 1611.5,212.6 1612.1,213.0 1612.7,213.1 1613.3,213.0 1613.9,212.4 1614.5,212.5 1615.1,213.5 1615.7,213.0 1616.3,213.4 1616.9,214.1 1617.5,214.4 1618.1,214.7 1618.7,214.0 1619.3,213.0 1619.9,213.0 1620.5,211.8 1621.1,212.3 1621.7,211.6 1622.3,212.2 1622.9,211.7 1623.5,212.1 1624.1,212.2 1624.7,212.3 1625.3,212.4 1625.9,214.0 1626.5,213.5 1627.1,212.6 1627.7,213.2 1628.3,212.7 1628.9,212.4 1629.5,212.8 1630.1,213.6 1630.7,212.9 1631.3,211.9 1631.9,213.3 1632.5,212.5 1633.1,211.8 1633.7,212.4 1634.3,212.6 1634.9,211.9 1635.5,211.3 1636.1,211.5 1636.7,212.7 1637.3,212.7 1637.9,212.4 1638.5,212.3 1639.1,211.8 1639.7,212.4 1640.3,212.5 1640.9,212.5 1641.5,211.5 1642.1,211.3 1642.7,212.7 1643.3,213.1 1643.9,213.2 1644.5,212.3 1645.1,213.4 1645.7,212.9 1646.3,212.4 1646.9,212.4 1647.5,212.1 1648.1,212.2 1648.7,212.4 1649.3,211.8 1649.9,213.7 1650.5,213.6 1651.1,212.3 1651.7,213.5 1652.3,212.7 1652.9,212.8 1653.5,213.7 1654.1,213.1 1654.7,213.2 1655.3,214.4 1655.9,214.4 1656.5,214.2 1657.1,215.4 1657.7,214.9 1658.3,214.5 1658.9,214.1 1659.5,214.4 1660.1,214.0 1660.7,214.3 1661.3,212.6 1661.9,213.6 1662.5,212.5 1663.1,213.1 1663.7,212.9 1664.3,212.1 1664.9,213.3 1665.5,212.3 1666.1,211.7 1666.7,212.4 1667.3,212.6 1667.9,211.6 1668.5,211.0 1669.1,211.6 1669.7,211.6 1670.3,211.3 1670.9,211.2 1671.5,211.1 1672.1,210.7 1672.7,210.4 1673.3,211.6 1673.9,211.5 1674.5,212.0 1675.1,212.1 1675.7,212.6 1676.3,212.8 1676.9,212.3 1677.5,211.9 1678.1,212.6 1678.7,213.4 1679.3,212.1 1679.9,212.6 1680.5,212.1 1681.1,213.3 1681.7,212.5 1682.3,211.8 1682.9,211.9 1683.5,213.0 1684.1,211.6 1684.7,212.3 1685.3,212.6 1685.9,212.5 1686.5,212.2 1687.1,213.0 1687.7,211.9 1688.3,213.9 1688.9,213.1 1689.5,213.2 1690.1,213.6 1690.7,214.5 1691.3,214.9 1691.9,213.5 1692.5,212.6 1693.1,214.0 1693.7,214.0 1694.3,212.8 1694.9,213.3 1695.5,212.9 1696.1,213.6 1696.7,214.1 1697.3,215.1 1697.9,215.3 1698.5,214.7 1699.1,214.7 1699.7,214.8 1700.3,214.7 1700.5,212.9 1701.5,272.4 1702.0,272.4 1703.1,212.9 1703.3,212.9 1703.9,214.3 1704.5,212.9 1705.1,213.4 1705.7,214.0 1706.3,214.7 1706.9,214.0 1707.5,215.3 1708.1,214.4 1708.7,214.8 1709.3,214.0 1709.9,213.8 1710.5,214.1 1711.1,214.9 1711.7,214.5 1712.3,213.8 1712.9,213.4 1713.5,214.1 1714.1,215.1 1714.7,214.2 1715.3,213.8 1715.9,212.8 1716.5,212.7 1717.1,213.2 1717.7,212.6 1718.3,212.9 1718.9,212.1 1719.5,212.7 1720.1,212.3 1720.7,213.7 1721.3,212.5 1721.9,212.5 1722.5,212.0 1723.1,212.3 1723.7,212.1 1724.3,211.8 1724.9,213.2 1725.5,213.1 1726.1,212.7 1726.7,212.9 1727.3,212.7 1727.9,212.4 1728.5,212.2 1729.1,212.8 1729.7,212.6 1730.3,211.6 1730.9,211.5 1731.5,211.6 1732.1,211.7 1732.7,211.4 1733.3,212.4 1733.9,211.5 1734.5,212.8 1735.1,212.3 1735.7,212.2 1736.3,212.2 1736.9,211.7 1737.5,212.2 1738.1,212.4 1738.7,213.2 1739.3,212.2 1739.9,211.3 1740.5,210.7 1741.1,210.9 1741.7,211.3 1742.3,210.6 1742.9,209.9 1743.5,211.6 1744.1,211.4 1744.7,211.4 1745.3,210.9 1745.9,211.7 1746.5,211.7 1747.1,211.1 1747.7,210.6 1748.3,211.3 1748.9,211.0 1749.5,211.4 1750.1,211.1 1750.7,211.7 1751.3,210.8 1751.9,210.7 1752.5,210.2 1753.1,210.1 1753.7,209.6 1754.3,210.4 1754.9,210.2 1755.5,210.2 1756.1,211.3 1756.7,210.2 1757.3,209.9 1757.9,210.6 1758.5,210.2 1759.1,210.9 1759.7,211.2 1760.3,210.7 1760.9,210.4 1761.5,210.2 1762.1,211.9 1762.7,211.3 1763.3,211.3 1763.9,210.2 1764.5,210.9 1765.1,211.3 1765.7,210.5 1766.3,209.5 1766.9,211.2 1767.5,210.3 1768.1,211.8 1768.7,211.4 1769.3,211.0 1769.9,211.5 1770.5,211.6 1771.1,211.7 1771.7,211.5 1772.3,211.1 1772.9,211.8 1773.5,210.9 1774.1,211.0 1774.7,210.4 1775.3,211.6 1775.9,211.0 1776.5,211.3 1777.1,210.6 1777.7,211.3 1778.3,210.8 1778.9,210.8 1779.5,211.1 1780.1,210.7 1780.7,210.5 1781.3,210.7 1781.9,210.2 1782.5,210.6 1783.1,211.0 1783.7,209.2 1784.3,211.3 1784.9,210.4 1785.5,210.1 1786.1,211.5 1786.7,211.2 1787.3,211.5 1787.9,211.1 1788.0,210.3 1789.0,238.9 1789.5,238.9 1790.6,210.3 1790.9,210.3 1791.5,210.2 1792.1,211.1 1792.7,211.4 1793.3,210.9 1793.9,210.3 1794.5,210.4 1795.1,211.0 1795.7,211.1 1796.3,211.3 1796.9,210.0 1797.5,210.5 1798.1,210.5 1798.7,211.4 1799.3,211.4 1799.9,211.3 1800.5,212.4 1801.1,211.6 1801.7,211.2 1802.3,210.8 1802.9,210.1 1803.5,210.7 1804.1,210.6 1804.7,210.1 1805.3,209.9 1805.9,211.1 1806.5,210.5 1807.1,210.1 1807.7,210.5 1808.3,210.3 1808.9,211.0 1809.5,209.2 1810.1,210.3 1810.7,210.6 1811.3,210.9 1811.9,209.6 1812.5,209.6 1813.1,210.6 1813.7,210.0 1814.3,210.3 1814.9,211.1 1815.5,211.1 1816.1,210.9 1816.7,211.2 1817.3,210.5 1817.9,210.6 1818.5,211.5 1819.1,211.7 1819.7,211.3 1820.3,212.5 1820.9,211.3 1821.5,210.7 1822.1,211.0 1822.7,211.6 1823.3,211.1 1823.9,212.0 1824.5,211.1 1825.1,210.0 1825.7,211.8 1826.3,212.5 1826.9,212.7 1827.5,213.2 1828.1,213.1 1828.7,212.5 1829.3,212.4 1829.9,213.8 1830.5,213.4 1831.1,212.9 1831.7,213.2 1832.3,213.8 1832.9,211.0 1833.5,211.5 1834.1,211.6 1834.7,211.2 1835.3,210.7 1835.9,212.7 1836.5,212.7 1837.1,212.8 1837.7,213.0 1838.3,212.9 1838.9,212.8 1839.5,212.9 1840.1,212.3 1840.7,212.6 1841.3,212.3 1841.9,212.1 1842.5,213.4 1843.1,211.9 1843.7,211.8 1844.3,212.7 1844.9,210.7 1845.5,211.1 1846.1,211.3 1846.7,211.3 1847.3,211.9 1847.9,212.3 1848.5,212.9 1849.1,212.4 1849.7,213.0 1850.3,212.2 1850.9,211.9 1851.5,211.8 1852.1,212.1 1852.7,212.4 1853.3,213.2 1853.9,212.6 1854.5,211.7 1855.1,211.7 1855.7,211.3 1856.3,211.9 1856.9,211.9 1857.5,211.2 1858.1,211.9 1858.7,213.0 1859.3,212.3 1859.9,212.7 1860.5,212.8 1861.1,211.1 1861.7,211.4 1862.3,210.9 1862.9,211.8 1863.5,212.2 1864.1,212.4 1864.7,211.7 1865.3,210.7 1865.9,212.1 1866.5,211.2 1867.1,212.0 1867.7,212.5 1868.3,212.1 1868.9,212.2 1869.5,213.2 1870.1,213.2 1870.7,213.7 1871.3,212.2 1871.9,212.0 1872.5,211.5 1873.1,211.1 1873.7,211.8 1874.3,212.0 1874.9,211.2 1875.5,210.5 1876.1,210.3 1876.7,210.2 1877.3,211.3 1877.9,211.8 1878.5,211.1 1879.1,210.4 1879.7,211.1 1880.3,210.8 1880.9,210.3 1881.5,211.2 1882.1,213.0 1882.7,212.2 1883.3,211.5 1883.9,213.0 1884.5,212.8 1885.1,213.4 1885.7,212.4 1886.3,212.3 1886.9,212.6 1887.5,211.9 1888.1,211.9 1888.7,212.3 1889.3,213.4 1890.8,281.2"/>
</g>
<rect x="1029.5" y="146.5" width="867" height="235" fill="none" stroke="#a3a3a3" stroke-width="1"/>
<g stroke="#000" stroke-width="0.45">
<text x="1591.66" y="121.60" font-size="20.5" textLength="299.66" lengthAdjust="spacingAndGlyphs" fill="#000">P-core 1 T1 Effective Clock [MHz]</text>
</g>
<text x="989.47" y="120.70" font-size="20" textLength="12.16" lengthAdjust="spacingAndGlyphs" fill="#000">↓</text>
<text x="1005.34" y="121.60" font-size="18.5" textLength="22.94" lengthAdjust="spacingAndGlyphs" fill="#ff0000">1,9</text>
<text x="1033.49" y="121.60" font-size="18.5" textLength="43.06" lengthAdjust="spacingAndGlyphs" fill="#008000">929,3</text>
<text x="1098.95" y="121.60" font-size="18.5" textLength="14.47" lengthAdjust="spacingAndGlyphs" fill="#000">Ø</text>
<text x="1119.13" y="121.60" font-size="18.5" textLength="41.60" lengthAdjust="spacingAndGlyphs" fill="#ff0000">145,6</text>
<text x="1166.44" y="121.60" font-size="18.5" textLength="39.85" lengthAdjust="spacingAndGlyphs" fill="#008000">1766</text>
<text x="1225.97" y="120.70" font-size="20" textLength="12.16" lengthAdjust="spacingAndGlyphs" fill="#000">↑</text>
<text x="1242.71" y="121.60" font-size="18.5" textLength="37.80" lengthAdjust="spacingAndGlyphs" fill="#ff0000">1509</text>
<text x="1286.73" y="121.60" font-size="18.5" textLength="38.33" lengthAdjust="spacingAndGlyphs" fill="#008000">2387</text>
</g>
<g id="p3">
<rect x="47" y="520" width="887" height="237" fill="url(#bg)"/>
<rect x="48.5" y="521.5" width="884" height="234" fill="none" stroke="#ffffff" stroke-opacity="0.55" stroke-width="1"/>
<line x1="48" y1="749.75" x2="933" y2="749.75" stroke="#ffffff" stroke-opacity="0.45" stroke-width="1"/>
<line x1="48" y1="750.75" x2="933" y2="750.75" stroke="#2e2e2e" stroke-width="1"/>
<line x1="43" y1="750.75" x2="47" y2="750.75" stroke="#111" stroke-width="1"/>
<text x="22.59" y="758.65" font-size="18.5" textLength="19.55" lengthAdjust="spacingAndGlyphs" fill="#000">65</text>
<line x1="48" y1="702.60" x2="933" y2="702.60" stroke="#ffffff" stroke-opacity="0.45" stroke-width="1"/>
<line x1="48" y1="703.60" x2="933" y2="703.60" stroke="#2e2e2e" stroke-width="1"/>
<line x1="43" y1="703.60" x2="47" y2="703.60" stroke="#111" stroke-width="1"/>
<text x="22.54" y="711.50" font-size="18.5" textLength="19.55" lengthAdjust="spacingAndGlyphs" fill="#000">70</text>
<line x1="48" y1="655.50" x2="933" y2="655.50" stroke="#ffffff" stroke-opacity="0.45" stroke-width="1"/>
<line x1="48" y1="656.50" x2="933" y2="656.50" stroke="#2e2e2e" stroke-width="1"/>
<line x1="43" y1="656.50" x2="47" y2="656.50" stroke="#111" stroke-width="1"/>
<text x="22.59" y="664.40" font-size="18.5" textLength="19.55" lengthAdjust="spacingAndGlyphs" fill="#000">75</text>
<line x1="48" y1="608.30" x2="933" y2="608.30" stroke="#ffffff" stroke-opacity="0.45" stroke-width="1"/>
<line x1="48" y1="609.30" x2="933" y2="609.30" stroke="#2e2e2e" stroke-width="1"/>
<line x1="43" y1="609.30" x2="47" y2="609.30" stroke="#111" stroke-width="1"/>
<text x="22.54" y="617.20" font-size="18.5" textLength="19.55" lengthAdjust="spacingAndGlyphs" fill="#000">80</text>
<line x1="48" y1="562.30" x2="933" y2="562.30" stroke="#ffffff" stroke-opacity="0.45" stroke-width="1"/>
<line x1="48" y1="563.30" x2="933" y2="563.30" stroke="#2e2e2e" stroke-width="1"/>
<line x1="43" y1="563.30" x2="47" y2="563.30" stroke="#111" stroke-width="1"/>
<text x="22.59" y="571.20" font-size="18.5" textLength="19.55" lengthAdjust="spacingAndGlyphs" fill="#000">85</text>
<line x1="51.50" y1="757" x2="51.50" y2="761.8" stroke="#111" stroke-width="1"/>
<text x="29.51" y="781.50" font-size="18.5" textLength="43.98" lengthAdjust="spacingAndGlyphs" fill="#000">00:00</text>
<line x1="122.65" y1="757" x2="122.65" y2="761.8" stroke="#111" stroke-width="1"/>
<text x="100.69" y="781.50" font-size="18.5" textLength="43.98" lengthAdjust="spacingAndGlyphs" fill="#000">00:05</text>
<line x1="193.80" y1="757" x2="193.80" y2="761.8" stroke="#111" stroke-width="1"/>
<text x="171.81" y="781.50" font-size="18.5" textLength="43.98" lengthAdjust="spacingAndGlyphs" fill="#000">00:10</text>
<line x1="264.95" y1="757" x2="264.95" y2="761.8" stroke="#111" stroke-width="1"/>
<text x="242.99" y="781.50" font-size="18.5" textLength="43.98" lengthAdjust="spacingAndGlyphs" fill="#000">00:15</text>
<line x1="336.10" y1="757" x2="336.10" y2="761.8" stroke="#111" stroke-width="1"/>
<text x="314.11" y="781.50" font-size="18.5" textLength="43.98" lengthAdjust="spacingAndGlyphs" fill="#000">00:20</text>
<line x1="407.25" y1="757" x2="407.25" y2="761.8" stroke="#111" stroke-width="1"/>
<text x="385.29" y="781.50" font-size="18.5" textLength="43.98" lengthAdjust="spacingAndGlyphs" fill="#000">00:25</text>
<line x1="478.40" y1="757" x2="478.40" y2="761.8" stroke="#111" stroke-width="1"/>
<text x="456.41" y="781.50" font-size="18.5" textLength="43.98" lengthAdjust="spacingAndGlyphs" fill="#000">00:30</text>
<line x1="549.55" y1="757" x2="549.55" y2="761.8" stroke="#111" stroke-width="1"/>
<text x="527.59" y="781.50" font-size="18.5" textLength="43.98" lengthAdjust="spacingAndGlyphs" fill="#000">00:35</text>
<line x1="620.70" y1="757" x2="620.70" y2="761.8" stroke="#111" stroke-width="1"/>
<text x="598.71" y="781.50" font-size="18.5" textLength="43.98" lengthAdjust="spacingAndGlyphs" fill="#000">00:40</text>
<line x1="691.85" y1="757" x2="691.85" y2="761.8" stroke="#111" stroke-width="1"/>
<text x="669.89" y="781.50" font-size="18.5" textLength="43.98" lengthAdjust="spacingAndGlyphs" fill="#000">00:45</text>
<line x1="763.00" y1="757" x2="763.00" y2="761.8" stroke="#111" stroke-width="1"/>
<text x="741.01" y="781.50" font-size="18.5" textLength="43.98" lengthAdjust="spacingAndGlyphs" fill="#000">00:50</text>
<line x1="834.15" y1="757" x2="834.15" y2="761.8" stroke="#111" stroke-width="1"/>
<text x="812.19" y="781.50" font-size="18.5" textLength="43.98" lengthAdjust="spacingAndGlyphs" fill="#000">00:55</text>
<line x1="905.30" y1="757" x2="905.30" y2="761.8" stroke="#111" stroke-width="1"/>
<text x="883.31" y="781.50" font-size="18.5" textLength="43.98" lengthAdjust="spacingAndGlyphs" fill="#000">01:00</text>
<text x="471.43" y="804.80" font-size="18.5" font-style="italic" textLength="38.23" lengthAdjust="spacingAndGlyphs" fill="#000">Time</text>
<clipPath id="c2"><rect x="48" y="521" width="885" height="235"/></clipPath>
<g clip-path="url(#c2)" fill="none" stroke-width="2" stroke-linejoin="round" stroke-linecap="round">
<polyline stroke="#ff0000" points="51.5,713.3 52.0,713.3 52.4,722.7 52.9,703.9 53.2,694.5 53.7,675.8 54.2,694.5 54.6,685.2 54.9,657.0 55.5,703.9 55.8,694.5 56.3,675.8 56.7,628.9 57.2,685.2 57.7,675.8 58.1,657.0 58.5,694.5 59.0,675.8 59.5,666.4 59.9,703.9 60.3,694.5 60.9,713.3 61.2,675.8 61.8,713.3 62.3,703.9 62.7,713.3 63.1,694.5 63.7,703.9 64.2,685.2 64.6,685.2 65.0,685.2 65.6,703.9 65.9,685.2 66.4,675.8 66.7,694.5 67.2,685.2 67.6,675.8 67.9,703.9 68.3,694.5 68.8,675.8 69.4,694.5 69.9,703.9 70.5,732.0 70.8,694.5 71.3,685.2 71.8,722.7 72.4,666.4 72.7,713.3 73.2,703.9 73.6,703.9 74.2,713.3 74.7,703.9 75.3,722.7 75.6,685.2 76.0,675.8 76.3,703.9 76.7,666.4 77.2,685.2 77.8,685.2 78.2,694.5 78.7,703.9 79.0,694.5 79.6,675.8 79.9,675.8 80.4,694.5 80.8,703.9 81.3,713.3 81.7,703.9 82.3,703.9 82.6,694.5 83.1,694.5 83.5,703.9 83.9,657.0 84.3,685.2 84.8,685.2 85.2,685.2 85.7,703.9 86.0,703.9 86.5,694.5 86.8,694.5 87.4,685.2 87.8,675.8 88.2,685.2 88.5,657.0 89.0,703.9 89.5,694.5 90.0,713.3 90.4,703.9 91.0,713.3 91.4,694.5 92.0,713.3 92.4,703.9 92.8,685.2 93.1,685.2 93.6,694.5 93.9,713.3 94.3,694.5 94.6,703.9 95.2,675.8 95.7,694.5 96.3,657.0 96.8,703.9 97.3,703.9 97.8,713.3 98.4,703.9 98.7,675.8 99.1,722.7 99.5,675.8 99.9,694.5 100.4,703.9 100.9,694.5 101.4,703.9 101.9,703.9 102.4,694.5 102.9,685.2 103.4,722.7 104.0,713.3 104.4,703.9 105.0,685.2 105.3,694.5 105.8,703.9 106.2,703.9 106.7,694.5 107.0,685.2 107.4,694.5 107.8,703.9 108.3,703.9 108.8,694.5 109.2,675.8 109.7,647.7 110.3,694.5 110.7,703.9 111.1,685.2 111.6,685.2 112.0,703.9 112.4,694.5 112.9,685.2 113.4,703.9 113.8,703.9 114.1,713.3 114.5,685.2 115.0,685.2 115.4,713.3 115.7,685.2 116.3,694.5 116.8,685.2 117.3,675.8 117.6,722.7 118.1,722.7 118.4,685.2 118.9,685.2 119.2,713.3 119.8,685.2 120.1,713.3 120.5,675.8 121.0,685.2 121.4,694.5 121.9,694.5 122.4,666.4 122.7,675.8 123.2,703.9 123.7,694.5 124.1,703.9 124.6,685.2 125.0,685.2 125.3,694.5 125.7,694.5 126.1,694.5 126.5,685.2 127.0,694.5 127.6,685.2 128.1,675.8 128.7,666.4 129.1,675.8 129.7,694.5 130.1,675.8 130.5,703.9 130.8,685.2 131.2,703.9 131.6,685.2 132.0,666.4 132.5,713.3 133.1,685.2 133.5,703.9 134.1,703.9 134.6,675.8 135.0,703.9 135.3,685.2 135.9,619.5 136.2,675.8 136.7,703.9 137.2,703.9 137.6,694.5 138.1,675.8 138.6,675.8 139.1,703.9 139.7,703.9 140.0,703.9 140.5,703.9 140.8,713.3 141.2,703.9 141.7,713.3 142.3,703.9 142.6,722.7 143.0,694.5 143.5,694.5 144.1,713.3 144.5,685.2 144.9,713.3 145.2,713.3 145.6,694.5 146.0,675.8 146.5,722.7 147.0,703.9 147.4,675.8 147.8,685.2 148.4,703.9 148.8,694.5 149.3,694.5 149.7,694.5 150.3,694.5 150.7,703.9 151.1,675.8 151.4,703.9 151.8,694.5 152.1,675.8 152.5,703.9 152.9,703.9 153.3,703.9 153.7,703.9 154.2,703.9 154.5,703.9 154.9,703.9 155.3,694.5 155.9,694.5 156.4,713.3 156.9,713.3 157.3,703.9 157.7,703.9 158.1,703.9 158.6,694.5 159.0,694.5 159.5,685.2 159.9,647.7 160.4,703.9 160.8,694.5 161.3,694.5 161.7,703.9 162.3,694.5 162.7,685.2 163.3,685.2 163.6,675.8 164.0,675.8 164.3,713.3 164.9,685.2 165.2,694.5 165.6,703.9 165.9,703.9 166.5,703.9 166.9,694.5 167.3,703.9 167.8,675.8 168.4,694.5 168.7,703.9 169.2,694.5 169.5,694.5 170.0,722.7 170.3,713.3 170.7,722.7 171.0,713.3 171.5,703.9 172.0,703.9 172.6,694.5 173.0,713.3 173.4,732.0 173.7,703.9 174.3,713.3 174.7,685.2 175.2,675.8 175.7,713.3 176.1,703.9 176.5,694.5 177.0,694.5 177.3,685.2 177.8,666.4 178.3,703.9 178.9,694.5 179.3,713.3 179.8,694.5 180.2,722.7 180.6,713.3 181.1,685.2 181.7,694.5 182.1,685.2 182.6,694.5 183.0,694.5 183.4,732.0 183.7,703.9 184.3,703.9 184.7,713.3 185.1,694.5 185.4,675.8 185.9,685.2 186.3,685.2 186.7,685.2 187.1,713.3 187.6,685.2 188.0,703.9 188.5,666.4 188.9,685.2 189.5,675.8 189.8,694.5 190.4,685.2 190.9,675.8 191.5,703.9 192.0,703.9 192.5,703.9 193.0,703.9 193.5,685.2 193.8,685.2 194.2,694.5 194.6,703.9 195.2,685.2 195.6,713.3 196.0,703.9 196.4,722.7 197.0,694.5 197.3,694.5 197.8,703.9 198.1,722.7 198.5,703.9 198.9,703.9 199.5,713.3 200.0,732.0 200.4,647.7 200.7,666.4 201.2,694.5 201.7,713.3 202.3,722.7 202.6,694.5 203.0,703.9 203.5,694.5 203.9,694.5 204.3,685.2 204.8,703.9 205.2,666.4 205.8,713.3 206.3,685.2 206.8,713.3 207.3,703.9 207.9,685.2 208.4,703.9 208.8,694.5 209.2,713.3 209.8,685.2 210.1,713.3 210.6,722.7 211.0,694.5 211.5,675.8 211.9,713.3 212.4,675.8 212.7,703.9 213.1,685.2 213.4,713.3 213.8,675.8 214.3,713.3 214.9,703.9 215.3,685.2 215.9,694.5 216.2,713.3 216.6,703.9 217.0,703.9 217.4,694.5 217.8,675.8 218.2,713.3 218.6,713.3 219.2,685.2 219.6,713.3 220.1,694.5 220.4,685.2 221.0,694.5 221.4,694.5 221.8,694.5 222.2,694.5 222.7,685.2 223.2,703.9 223.7,703.9 224.1,703.9 224.6,685.2 224.9,685.2 225.3,675.8 225.7,694.5 226.3,694.5 226.7,713.3 227.2,694.5 227.5,722.7 227.9,713.3 228.3,685.2 228.7,694.5 229.2,666.4 229.7,703.9 230.0,722.7 230.6,685.2 230.9,722.7 231.4,703.9 231.8,685.2 232.3,713.3 232.6,713.3 233.2,675.8 233.6,694.5 234.0,722.7 234.3,694.5 234.9,685.2 235.3,675.8 235.9,638.3 236.2,703.9 236.6,666.4 237.0,694.5 237.4,675.8 237.9,694.5 238.4,694.5 238.8,713.3 239.4,675.8 239.7,675.8 240.3,703.9 240.8,703.9 241.4,694.5 241.7,694.5 242.1,685.2 242.5,685.2 243.1,675.8 243.5,685.2 244.0,694.5 244.4,694.5 244.9,694.5 245.4,675.8 245.9,703.9 246.3,713.3 246.7,703.9 247.1,703.9 247.7,703.9 248.1,703.9 248.5,675.8 248.8,685.2 249.4,722.7 249.8,713.3 250.2,722.7 250.6,694.5 251.0,675.8 251.5,703.9 251.9,694.5 252.4,703.9 253.0,675.8 253.3,703.9 253.7,703.9 254.2,694.5 254.7,657.0 255.0,685.2 255.5,741.4 256.0,694.5 256.5,694.5 256.8,685.2 257.2,666.4 257.7,703.9 258.3,722.7 258.6,685.2 259.2,703.9 259.7,703.9 260.3,694.5 260.7,685.2 261.2,685.2 261.7,628.9 262.3,694.5 262.8,694.5 263.2,703.9 263.6,703.9 264.1,694.5 264.6,713.3 265.2,722.7 265.5,675.8 265.9,685.2 266.4,694.5 267.0,694.5 267.3,713.3 267.8,694.5 268.2,722.7 268.6,703.9 269.0,703.9 269.5,722.7 269.9,694.5 270.3,713.3 270.6,694.5 271.2,694.5 271.7,713.3 272.1,694.5 272.5,703.9 273.0,713.3 273.3,722.7 273.8,694.5 274.2,694.5 274.8,694.5 275.2,694.5 275.8,703.9 276.3,685.2 276.7,722.7 277.0,722.7 277.5,732.0 278.0,657.0 278.6,703.9 278.9,713.3 279.4,685.2 279.8,713.3 280.3,713.3 280.8,675.8 281.2,713.3 281.7,694.5 282.2,694.5 282.7,703.9 283.3,713.3 283.8,713.3 284.2,694.5 284.7,694.5 285.2,703.9 285.7,685.2 286.3,713.3 286.6,713.3 287.1,685.2 287.6,685.2 288.0,713.3 288.4,694.5 288.9,628.9 289.4,694.5 289.9,694.5 290.2,703.9 290.8,703.9 291.3,703.9 291.9,694.5 292.2,685.2 292.8,694.5 293.2,694.5 293.8,675.8 294.3,713.3 294.9,694.5 295.4,694.5 295.8,685.2 296.1,732.0 296.6,694.5 297.0,675.8 297.6,703.9 297.9,713.3 298.3,703.9 298.6,713.3 299.0,722.7 299.4,703.9 299.8,703.9 300.1,685.2 300.5,703.9 300.8,694.5 301.2,666.4 301.6,703.9 302.0,675.8 302.5,685.2 303.0,685.2 303.5,703.9 303.9,703.9 304.2,694.5 304.7,685.2 305.0,722.7 305.4,694.5 305.9,675.8 306.4,703.9 306.7,610.2 307.3,703.9 307.8,685.2 308.4,694.5 308.9,722.7 309.3,694.5 309.6,703.9 310.1,703.9 310.5,703.9 310.9,685.2 311.2,703.9 311.7,713.3 312.1,685.2 312.6,685.2 312.9,666.4 313.3,694.5 313.7,685.2 314.2,703.9 314.7,694.5 315.3,703.9 315.8,703.9 316.4,694.5 316.7,703.9 317.3,694.5 317.6,685.2 318.1,703.9 318.5,685.2 318.9,703.9 319.4,694.5 320.0,694.5 320.4,694.5 320.8,722.7 321.4,666.4 321.8,703.9 322.2,703.9 322.8,703.9 323.2,675.8 323.7,694.5 324.2,685.2 324.6,703.9 325.0,703.9 325.4,685.2 325.9,628.9 326.2,685.2 326.8,694.5 327.2,685.2 327.8,713.3 328.2,685.2 328.8,713.3 329.3,732.0 329.9,685.2 330.3,694.5 330.9,694.5 331.2,675.8 331.7,694.5 332.0,722.7 332.4,675.8 332.9,675.8 333.3,713.3 333.8,703.9 334.2,703.9 334.6,675.8 335.0,713.3 335.3,694.5 335.7,685.2 336.0,657.0 336.6,685.2 337.1,685.2 337.6,703.9 338.1,694.5 338.7,703.9 339.2,713.3 339.8,694.5 340.1,675.8 340.6,685.2 340.9,675.8 341.5,694.5 341.8,666.4 342.2,694.5 342.6,694.5 343.1,694.5 343.6,713.3 344.2,685.2 344.7,713.3 345.3,685.2 345.6,675.8 346.1,703.9 346.4,685.2 347.0,703.9 347.5,713.3 347.9,694.5 348.2,675.8 348.6,722.7 349.0,685.2 349.5,675.8 349.9,694.5 350.4,703.9 350.9,703.9 351.3,666.4 351.7,685.2 352.3,685.2 352.6,685.2 353.1,685.2 353.6,675.8 354.0,675.8 354.3,703.9 354.8,685.2 355.2,675.8 355.6,694.5 356.1,722.7 356.7,685.2 357.2,732.0 357.6,694.5 358.1,694.5 358.7,713.3 359.2,675.8 359.8,666.4 360.3,666.4 360.8,732.0 361.1,732.0 361.5,713.3 361.9,694.5 362.3,713.3 362.6,694.5 363.2,703.9 363.6,694.5 364.0,666.4 364.5,722.7 365.0,722.7 365.3,703.9 365.7,703.9 366.0,713.3 366.5,694.5 366.8,694.5 367.2,694.5 367.7,713.3 368.1,647.7 368.5,703.9 368.9,703.9 369.4,685.2 370.0,694.5 370.5,685.2 371.1,722.7 371.6,694.5 372.2,703.9 372.7,694.5 373.2,732.0 373.7,685.2 374.1,722.7 374.5,713.3 374.9,703.9 375.3,675.8 375.9,703.9 376.3,713.3 376.7,713.3 377.0,703.9 377.5,732.0 377.9,694.5 378.3,694.5 378.8,703.9 379.4,703.9 379.8,685.2 380.2,703.9 380.6,703.9 381.0,722.7 381.3,703.9 381.7,722.7 382.2,722.7 382.6,703.9 382.9,666.4 383.5,675.8 383.9,675.8 384.4,713.3 384.7,694.5 385.3,685.2 385.7,685.2 386.2,703.9 386.6,703.9 387.1,703.9 387.4,703.9 388.0,713.3 388.4,694.5 389.0,694.5 389.5,657.0 390.1,685.2 390.6,703.9 391.0,694.5 391.5,647.7 392.0,713.3 392.5,675.8 392.9,666.4 393.2,685.2 393.7,722.7 394.2,685.2 394.6,713.3 395.1,694.5 395.5,722.7 396.0,694.5 396.5,722.7 396.9,675.8 397.3,657.0 397.8,703.9 398.4,685.2 398.9,713.3 399.3,703.9 399.8,713.3 400.4,722.7 400.8,694.5 401.3,694.5 401.7,685.2 402.1,703.9 402.6,732.0 403.1,694.5 403.4,703.9 403.8,694.5 404.2,732.0 404.6,685.2 405.1,703.9 405.6,722.7 406.0,703.9 406.4,703.9 406.9,703.9 407.5,694.5 407.9,703.9 408.4,722.7 408.8,685.2 409.3,703.9 409.6,685.2 410.1,713.3 410.6,675.8 411.2,722.7 411.7,694.5 412.2,722.7 412.7,703.9 413.1,703.9 413.6,703.9 414.1,694.5 414.4,703.9 414.8,694.5 415.1,675.8 415.7,694.5 416.2,703.9 416.7,694.5 417.1,694.5 417.7,694.5 418.1,638.3 418.7,685.2 419.1,713.3 419.5,713.3 420.0,703.9 420.5,703.9 420.8,703.9 421.4,703.9 421.8,732.0 422.4,713.3 422.8,694.5 423.2,675.8 423.6,703.9 424.0,713.3 424.5,675.8 424.9,685.2 425.3,685.2 425.8,703.9 426.3,666.4 426.7,713.3 427.0,694.5 427.5,675.8 427.9,703.9 428.3,713.3 428.8,694.5 429.2,675.8 429.6,685.2 430.2,666.4 430.7,685.2 431.1,713.3 431.6,685.2 432.1,703.9 432.5,666.4 433.1,685.2 433.5,657.0 433.9,694.5 434.4,694.5 435.0,675.8 435.4,666.4 435.8,703.9 436.1,694.5 436.6,703.9 437.0,666.4 437.4,666.4 437.8,675.8 438.4,675.8 438.8,647.7 439.3,657.0 439.8,694.5 440.4,685.2 440.9,703.9 441.3,666.4 441.7,675.8 442.3,675.8 442.7,675.8 443.1,666.4 443.4,638.3 444.0,666.4 444.5,713.3 445.1,685.2 445.4,666.4 446.0,638.3 446.5,666.4 447.0,675.8 447.5,685.2 448.1,675.8 448.4,694.5 448.8,713.3 449.3,694.5 449.7,666.4 450.2,694.5 450.6,666.4 450.9,666.4 451.5,685.2 451.9,694.5 452.5,694.5 452.8,666.4 453.2,694.5 453.5,628.9 454.0,675.8 454.4,703.9 455.0,694.5 455.5,675.8 455.9,666.4 456.2,666.4 456.7,657.0 457.2,657.0 457.8,675.8 458.3,675.8 458.7,703.9 459.2,666.4 459.6,675.8 459.9,694.5 460.4,703.9 460.8,675.8 461.4,685.2 461.9,694.5 462.3,675.8 462.7,694.5 463.2,713.3 463.7,685.2 464.2,694.5 464.7,657.0 465.1,703.9 465.4,703.9 465.8,694.5 466.1,713.3 466.7,685.2 467.1,675.8 467.6,694.5 467.9,657.0 468.4,694.5 468.9,685.2 469.5,675.8 470.0,685.2 470.4,685.2 470.7,685.2 471.1,713.3 471.6,685.2 472.2,703.9 472.5,685.2 472.9,675.8 473.2,685.2 473.6,694.5 474.0,703.9 474.4,694.5 474.8,722.7 475.2,713.3 475.5,703.9 476.1,703.9 476.6,685.2 477.1,666.4 477.5,685.2 477.9,694.5 478.2,685.2 478.8,722.7 479.2,694.5 479.8,694.5 480.3,675.8 480.7,722.7 481.2,713.3 481.7,675.8 482.1,703.9 482.7,732.0 483.2,694.5 483.8,685.2 484.2,675.8 484.7,722.7 485.1,694.5 485.6,675.8 486.0,685.2 486.4,666.4 486.7,685.2 487.1,685.2 487.5,713.3 487.9,694.5 488.3,703.9 488.9,685.2 489.3,694.5 489.7,685.2 490.1,675.8 490.5,675.8 490.8,703.9 491.3,694.5 491.8,722.7 492.3,694.5 492.6,694.5 493.1,685.2 493.6,675.8 494.2,703.9 494.7,703.9 495.3,666.4 495.7,694.5 496.1,703.9 496.4,703.9 496.8,666.4 497.2,694.5 497.7,703.9 498.2,694.5 498.7,675.8 499.1,694.5 499.5,685.2 500.0,713.3 500.4,685.2 500.9,694.5 501.3,713.3 501.8,694.5 502.2,666.4 502.6,685.2 503.1,713.3 503.4,685.2 503.9,685.2 504.2,703.9 504.8,703.9 505.2,685.2 505.7,685.2 506.0,666.4 506.6,666.4 507.0,703.9 507.6,703.9 507.9,685.2 508.4,703.9 508.9,694.5 509.3,685.2 509.7,703.9 510.2,657.0 510.5,685.2 511.1,703.9 511.6,722.7 512.0,703.9 512.5,703.9 513.1,722.7 513.5,694.5 514.1,713.3 514.4,713.3 515.0,713.3 515.3,685.2 515.7,703.9 516.1,685.2 516.7,685.2 517.0,703.9 517.4,713.3 517.7,675.8 518.1,703.9 518.5,666.4 518.9,675.8 519.4,694.5 519.8,713.3 520.2,703.9 520.7,703.9 521.1,703.9 521.5,703.9 522.0,694.5 522.4,741.4 522.9,685.2 523.5,685.2 523.8,713.3 524.2,685.2 524.6,694.5 525.1,713.3 525.6,722.7 526.2,666.4 526.5,703.9 526.9,685.2 527.2,722.7 527.7,675.8 528.2,703.9 528.8,694.5 529.1,685.2 529.5,675.8 529.8,694.5 530.3,713.3 530.8,703.9 531.2,713.3 531.5,713.3 532.1,713.3 532.5,675.8 533.1,685.2 533.5,694.5 534.1,703.9 534.5,703.9 534.9,694.5 535.3,713.3 535.9,685.2 536.4,694.5 537.0,694.5 537.4,666.4 537.8,694.5 538.1,732.0 538.5,675.8 538.9,638.3 539.5,703.9 539.9,694.5 540.4,694.5 540.7,685.2 541.2,694.5 541.5,732.0 542.1,694.5 542.5,685.2 543.0,675.8 543.4,703.9 544.0,694.5 544.4,694.5 544.9,694.5 545.3,694.5 545.7,675.8 546.1,694.5 546.7,657.0 547.2,713.3 547.6,713.3 547.9,694.5 548.5,675.8 548.8,713.3 549.2,675.8 549.6,685.2 550.0,685.2 550.4,694.5 551.0,713.3 551.5,713.3 552.1,657.0 552.6,675.8 553.2,666.4 553.6,675.8 554.0,685.2 554.3,694.5 554.9,685.2 555.4,694.5 556.0,694.5 556.3,703.9 556.7,666.4 557.1,685.2 557.5,685.2 558.0,694.5 558.6,685.2 559.1,638.3 559.6,694.5 559.9,713.3 560.3,694.5 560.6,694.5 561.1,647.7 561.6,647.7 562.2,666.4 562.6,703.9 563.0,685.2 563.3,675.8 563.9,685.2 564.2,685.2 564.7,685.2 565.2,657.0 565.7,694.5 566.0,685.2 566.5,694.5 566.9,694.5 567.5,703.9 567.8,713.3 568.2,694.5 568.5,703.9 569.1,694.5 569.5,694.5 570.0,685.2 570.3,713.3 570.9,666.4 571.3,703.9 571.9,703.9 572.2,685.2 572.7,666.4 573.1,685.2 573.6,675.8 573.9,703.9 574.5,675.8 575.0,666.4 575.5,694.5 575.8,675.8 576.3,694.5 576.6,694.5 577.1,694.5 577.6,675.8 578.1,685.2 578.5,703.9 579.1,685.2 579.4,675.8 579.8,713.3 580.2,685.2 580.7,703.9 581.1,694.5 581.7,685.2 582.2,713.3 582.6,694.5 583.0,713.3 583.5,713.3 583.8,703.9 584.2,703.9 584.7,675.8 585.1,703.9 585.6,703.9 586.1,685.2 586.4,713.3 586.8,685.2 587.1,732.0 587.6,703.9 588.1,703.9 588.6,722.7 589.1,694.5 589.6,713.3 589.9,694.5 590.3,722.7 590.6,703.9 591.1,703.9 591.6,694.5 592.1,713.3 592.6,732.0 593.2,685.2 593.5,685.2 594.0,703.9 594.5,694.5 595.0,694.5 595.3,694.5 595.9,638.3 596.2,713.3 596.7,703.9 597.2,703.9 597.7,703.9 598.2,685.2 598.6,694.5 599.0,685.2 599.5,703.9 599.9,722.7 600.5,722.7 600.9,722.7 601.3,694.5 601.8,722.7 602.2,722.7 602.5,703.9 603.0,713.3 603.4,703.9 604.0,722.7 604.3,722.7 604.8,722.7 605.3,722.7 605.8,741.4 606.2,722.7 606.8,741.4 607.2,741.4 607.6,713.3 607.9,675.8 608.5,703.9 609.0,732.0 609.4,694.5 609.9,741.4 610.4,732.0 610.9,722.7 611.3,694.5 611.8,722.7 612.2,703.9 612.7,713.3 613.2,703.9 613.6,703.9 614.2,703.9 614.6,732.0 615.0,703.9 615.3,732.0 615.8,741.4 616.1,703.9 616.7,703.9 617.0,713.3 617.6,694.5 618.1,722.7 618.7,694.5 619.1,741.4 619.5,722.7 620.0,732.0 620.5,732.0 621.0,713.3 621.5,713.3 622.0,713.3 622.4,713.3 622.9,713.3 623.4,741.4 623.7,713.3 624.3,703.9 624.6,722.7 625.2,713.3 625.5,722.7 626.1,741.4 626.5,703.9 626.9,703.9 627.3,703.9 627.7,732.0 628.0,713.3 628.5,722.7 628.8,741.4 629.2,713.3 629.6,703.9 630.2,732.0 630.5,732.0 630.9,722.7 631.4,732.0 631.8,722.7 632.1,713.3 632.6,703.9 633.0,713.3 633.6,722.7 634.0,722.7 634.4,703.9 634.7,732.0 635.2,694.5 635.6,732.0 636.2,732.0 636.5,713.3 637.0,713.3 637.3,703.9 637.9,685.2 638.3,713.3 638.8,732.0 639.2,722.7 639.7,732.0 640.1,722.7 640.7,741.4 641.0,722.7 641.4,732.0 641.9,722.7 642.5,732.0 643.0,722.7 643.6,732.0 644.1,732.0 644.5,732.0 644.8,741.4 645.2,722.7 645.5,732.0 645.9,732.0 646.3,722.7 646.8,703.9 647.2,722.7 647.8,722.7 648.3,732.0 648.8,732.0 649.3,694.5 649.7,713.3 650.1,722.7 650.5,732.0 651.0,713.3 651.4,732.0 651.8,741.4 652.3,732.0 652.8,703.9 653.2,703.9 653.6,722.7 654.2,713.3 654.5,713.3 655.0,722.7 655.5,732.0 656.0,722.7 656.3,722.7 656.8,722.7 657.3,694.5 657.8,722.7 658.3,722.7 658.7,713.3 659.2,722.7 659.7,741.4 660.1,732.0 660.6,703.9 661.1,741.4 661.7,741.4 662.2,722.7 662.8,722.7 663.1,722.7 663.7,741.4 664.1,732.0 664.6,713.3 665.0,713.3 665.4,732.0 665.7,741.4 666.3,713.3 666.6,703.9 667.0,732.0 667.3,713.3 667.8,732.0 668.1,732.0 668.5,713.3 669.0,732.0 669.4,741.4 669.8,741.4 670.2,741.4 670.6,741.4 671.1,741.4 671.5,713.3 671.9,732.0 672.4,732.0 673.0,732.0 673.4,703.9 673.9,694.5 674.3,722.7 674.8,741.4 675.2,722.7 675.6,741.4 676.1,722.7 676.7,703.9 677.0,685.2 677.4,713.3 677.9,732.0 678.5,713.3 679.0,741.4 679.5,741.4 679.8,732.0 680.4,703.9 680.7,703.9 681.1,722.7 681.5,685.2 682.0,741.4 682.4,713.3 683.0,722.7 683.4,713.3 684.0,713.3 684.5,694.5 685.1,694.5 685.5,713.3 686.0,713.3 686.3,703.9 686.8,703.9 687.2,694.5 687.7,713.3 688.1,675.8 688.5,741.4 689.0,628.9 689.6,703.9 690.0,722.7 690.4,713.3 690.9,703.9 691.3,732.0 691.8,713.3 692.4,732.0 692.7,722.7 693.1,713.3 693.4,732.0 693.9,741.4 694.3,732.0 694.7,741.4 695.2,722.7 695.8,694.5 696.3,703.9 696.8,713.3 697.3,713.3 697.9,722.7 698.2,703.9 698.6,732.0 698.9,685.2 699.5,713.3 699.8,732.0 700.3,694.5 700.7,713.3 701.3,713.3 701.8,722.7 702.3,713.3 702.8,713.3 703.2,722.7 703.5,703.9 704.0,685.2 704.3,722.7 704.9,703.9 705.3,732.0 705.9,722.7 706.4,713.3 706.8,694.5 707.3,732.0 707.8,703.9 708.3,722.7 708.7,685.2 709.1,713.3 709.7,703.9 710.1,732.0 710.5,713.3 710.8,722.7 711.3,713.3 711.8,741.4 712.2,713.3 712.7,703.9 713.3,703.9 713.7,713.3 714.2,713.3 714.7,713.3 715.1,657.0 715.5,685.2 715.9,703.9 716.4,685.2 716.9,722.7 717.2,713.3 717.8,694.5 718.1,703.9 718.6,713.3 719.1,703.9 719.6,703.9 720.1,722.7 720.7,741.4 721.1,675.8 721.6,713.3 721.9,713.3 722.4,703.9 722.9,722.7 723.4,694.5 723.8,703.9 724.4,713.3 724.9,694.5 725.4,694.5 725.7,703.9 726.2,694.5 726.7,703.9 727.3,694.5 727.6,713.3 728.2,703.9 728.5,713.3 728.9,694.5 729.4,722.7 729.8,703.9 730.3,703.9 730.8,713.3 731.2,713.3 731.7,722.7 732.1,722.7 732.7,750.8 733.0,732.0 733.6,713.3 733.9,713.3 734.5,713.3 734.9,703.9 735.5,703.9 735.8,703.9 736.4,722.7 736.9,713.3 737.5,657.0 737.9,722.7 738.5,703.9 738.8,722.7 739.3,722.7 739.8,713.3 740.2,732.0 740.7,722.7 741.1,694.5 741.6,732.0 742.1,722.7 742.5,732.0 742.9,713.3 743.4,741.4 743.9,713.3 744.4,685.2 744.9,741.4 745.3,741.4 745.9,703.9 746.2,694.5 746.8,713.3 747.2,703.9 747.8,713.3 748.1,703.9 748.5,722.7 748.8,722.7 749.4,713.3 749.9,732.0 750.3,713.3 750.7,703.9 751.3,703.9 751.8,703.9 752.2,732.0 752.5,722.7 753.0,713.3 753.5,713.3 754.0,741.4 754.3,713.3 754.9,713.3 755.3,713.3 755.9,722.7 756.2,722.7 756.7,685.2 757.0,732.0 757.6,741.4 757.9,741.4 758.3,713.3 758.6,703.9 759.2,713.3 759.7,732.0 760.1,713.3 760.4,703.9 761.0,732.0 761.4,713.3 761.8,722.7 762.2,722.7 762.8,694.5 763.3,685.2 763.8,685.2 764.2,713.3 764.8,722.7 765.2,722.7 765.8,741.4 766.1,722.7 766.5,713.3 766.9,722.7 767.3,685.2 767.6,713.3 768.1,732.0 768.6,703.9 769.1,703.9 769.4,741.4 769.9,722.7 770.2,732.0 770.7,732.0 771.1,741.4 771.7,722.7 772.1,722.7 772.7,703.9 773.1,713.3 773.5,685.2 774.0,703.9 774.6,713.3 774.9,722.7 775.3,694.5 775.8,722.7 776.4,741.4 776.8,713.3 777.2,713.3 777.5,685.2 778.0,694.5 778.4,732.0 778.8,722.7 779.1,703.9 779.5,675.8 779.8,722.7 780.2,722.7 780.6,713.3 781.2,722.7 781.7,722.7 782.1,703.9 782.5,713.3 783.1,713.3 783.5,732.0 783.9,713.3 784.2,694.5 784.7,703.9 785.1,713.3 785.7,741.4 786.0,722.7 786.5,694.5 787.0,722.7 787.4,713.3 787.9,713.3 788.5,694.5 788.8,713.3 789.3,713.3 789.8,713.3 790.3,713.3 790.8,713.3 791.3,722.7 791.7,713.3 792.2,713.3 792.6,694.5 793.1,713.3 793.5,694.5 794.0,703.9 794.5,703.9 794.9,703.9 795.4,675.8 795.8,732.0 796.2,713.3 796.6,713.3 796.9,713.3 797.5,722.7 798.0,666.4 798.6,722.7 799.1,703.9 799.7,703.9 800.1,713.3 800.5,703.9 801.0,713.3 801.5,732.0 801.9,722.7 802.3,722.7 802.8,722.7 803.4,694.5 803.8,685.2 804.3,703.9 804.7,713.3 805.2,713.3 805.6,703.9 806.1,722.7 806.6,741.4 807.0,694.5 807.4,703.9 807.9,685.2 808.4,732.0 808.8,685.2 809.1,703.9 809.7,713.3 810.0,666.4 810.6,703.9 811.0,722.7 811.6,713.3 812.0,713.3 812.4,713.3 812.9,694.5 813.3,722.7 813.6,722.7 814.2,703.9 814.6,685.2 815.1,703.9 815.4,694.5 816.0,694.5 816.5,713.3 817.0,694.5 817.4,694.5 817.9,722.7 818.2,685.2 818.8,694.5 819.3,694.5 819.7,675.8 820.2,722.7 820.8,703.9 821.3,713.3 821.9,694.5 822.2,722.7 822.7,685.2 823.2,703.9 823.8,694.5 824.2,694.5 824.7,713.3 825.0,694.5 825.5,732.0 825.9,703.9 826.5,713.3 827.0,703.9 827.5,703.9 827.9,694.5 828.4,703.9 828.8,713.3 829.3,722.7 829.8,722.7 830.3,732.0 830.7,703.9 831.2,694.5 831.5,685.2 831.9,732.0 832.3,713.3 832.7,713.3 833.2,694.5 833.6,703.9 833.9,722.7 834.3,685.2 834.6,675.8 835.0,703.9 835.4,722.7 835.9,722.7 836.2,703.9 836.6,713.3 837.0,713.3 837.5,694.5 838.0,713.3 838.4,722.7 838.7,713.3 839.2,732.0 839.7,713.3 840.3,703.9 840.6,732.0 841.1,703.9 841.4,703.9 841.8,713.3 842.2,694.5 842.6,685.2 843.0,694.5 843.5,722.7 843.8,638.3 844.2,713.3 844.7,713.3 845.3,694.5 845.8,722.7 846.3,713.3 846.6,713.3 847.2,694.5 847.6,694.5 848.2,722.7 848.5,703.9 849.0,722.7 849.4,732.0 849.9,713.3 850.2,713.3 850.7,713.3 851.1,703.9 851.7,713.3 852.1,713.3 852.7,732.0 853.0,713.3 853.5,703.9 854.0,703.9 854.5,703.9 855.0,713.3 855.6,703.9 856.0,713.3 856.6,703.9 857.1,732.0 857.7,694.5 858.2,685.2 858.6,741.4 858.9,741.4 859.4,675.8 859.7,703.9 860.2,713.3 860.7,741.4 861.3,713.3 861.7,741.4 862.1,713.3 862.5,722.7 863.0,741.4 863.5,713.3 863.9,713.3 864.4,732.0 865.0,732.0 865.3,732.0 865.7,722.7 866.2,732.0 866.7,722.7 867.0,713.3 867.6,741.4 868.0,722.7 868.6,722.7 868.9,713.3 869.5,703.9 870.0,722.7 870.6,703.9 871.0,713.3 871.4,694.5 871.7,694.5 872.3,713.3 872.7,713.3 873.1,713.3 873.5,703.9 873.9,722.7 874.3,722.7 874.7,741.4 875.1,732.0 875.7,694.5 876.2,713.3 876.7,732.0 877.1,732.0 877.7,732.0 878.0,703.9 878.5,703.9 878.8,666.4 879.3,703.9 879.7,703.9 880.3,722.7 880.8,685.2 881.4,675.8 881.8,722.7 882.2,694.5 882.7,694.5 883.1,703.9 883.6,657.0 884.2,703.9 884.6,657.0 885.2,675.8 885.5,713.3 886.0,713.3 886.3,703.9 886.8,685.2 887.2,703.9 887.7,694.5 888.0,713.3 888.4,722.7 888.7,722.7 889.3,694.5 889.7,722.7 890.3,713.3 890.8,703.9 891.2,703.9 891.5,722.7 892.1,685.2 892.5,703.9 893.1,685.2 893.4,722.7 893.9,722.7 894.3,703.9 894.8,694.5 895.2,694.5 895.7,666.4 896.0,703.9 896.5,694.5 897.0,713.3 897.6,703.9 897.9,713.3 898.4,703.9 898.9,685.2 899.5,685.2 899.8,713.3 900.2,685.2 900.6,722.7 901.0,703.9 901.3,703.9 901.8,703.9 902.3,694.5 902.9,722.7 903.4,713.3 903.9,703.9 904.3,685.2 904.9,694.5 905.2,675.8 905.7,685.2 906.2,685.2 906.8,694.5 907.1,685.2 907.5,703.9 908.0,638.3 908.5,694.5 908.8,703.9 909.4,713.3 909.8,694.5 910.4,666.4 910.7,694.5 911.3,732.0 911.7,722.7 912.2,685.2 912.5,703.9 912.9,694.5 913.4,703.9 913.9,732.0 914.2,703.9 914.6,713.3 915.0,703.9 915.6,694.5 916.1,713.3 916.6,741.4 917.0,694.5 917.5,694.5 917.8,703.9 918.4,703.9 918.8,694.5 919.4,713.3 919.8,703.9 920.3,675.8 920.7,703.9 921.1,713.3 921.4,713.3 922.0,741.4 922.5,694.5 923.1,694.5 923.5,722.7 924.0,703.9 924.5,713.3 925.0,722.7 925.4,703.9 925.8,713.3 926.3,713.3 926.9,722.7 927.4,694.5 927.9,713.3 928.3,713.3 928.8,675.8"/>
<polyline stroke="#008000" points="51.5,561.9 54.5,561.9 55.0,561.9 55.3,571.3 56.0,561.9 56.1,561.9 59.0,561.9 60.0,552.5 77.5,552.5 77.5,543.1 79.4,543.1 80.4,552.5 80.8,552.5 81.8,543.1 82.4,543.1 83.4,552.5 84.4,543.1 86.2,543.1 87.2,552.5 87.8,552.5 88.8,543.1 89.0,543.1 89.0,543.1 95.4,543.1 96.2,533.7 97.0,543.1 101.2,543.1 102.0,552.5 102.8,543.1 107.2,543.1 108.0,533.7 108.8,543.1 128.2,543.1 129.0,533.7 129.4,543.1 129.8,543.1 130.2,552.5 130.6,543.1 131.0,543.1 131.4,533.7 132.2,543.1 146.6,543.1 146.6,552.5 148.1,552.5 149.1,543.1 149.9,543.1 150.9,552.5 151.4,552.5 152.4,543.1 153.0,543.1 154.0,552.5 154.8,552.5 154.8,543.1 161.9,543.1 161.9,552.5 162.5,552.5 163.5,543.1 163.8,543.1 164.8,552.5 166.2,552.5 167.2,543.1 168.2,552.5 169.4,552.5 170.4,543.1 171.1,543.1 171.9,543.1 182.5,543.1 182.5,533.7 182.9,533.7 183.9,543.1 184.9,533.7 185.1,533.7 186.1,543.1 187.1,533.7 187.4,533.7 188.4,543.1 189.4,533.7 189.9,533.7 190.9,543.1 191.9,533.7 192.7,533.7 193.7,543.1 194.7,533.7 195.4,533.7 196.4,543.1 197.4,533.7 197.7,533.7 198.7,543.1 198.8,533.7 202.9,533.7 203.8,543.1 204.6,533.7 217.5,533.7 217.5,543.1 217.9,543.1 218.9,533.7 219.9,543.1 220.4,543.1 221.4,533.7 221.7,533.7 222.7,543.1 224.0,543.1 225.0,533.7 226.0,543.1 227.3,543.1 227.5,543.1 228.3,533.7 235.0,543.1 235.0,533.7 237.0,533.7 238.0,543.1 238.6,543.1 239.6,533.7 241.6,533.7 242.6,543.1 242.9,543.1 243.9,533.7 246.2,533.7 247.2,543.1 247.8,543.1 248.8,533.7 250.4,533.7 251.4,543.1 251.9,543.1 252.9,533.7 254.7,533.7 255.7,543.1 256.1,543.1 257.1,533.7 258.4,533.7 259.4,543.1 260.0,543.1 260.0,543.1 265.0,543.1 265.0,533.7 266.8,533.7 267.8,543.1 268.8,533.7 269.9,533.7 270.9,543.1 271.4,543.1 272.4,533.7 274.2,533.7 275.2,543.1 275.6,543.1 276.6,533.7 277.8,533.7 278.8,543.1 279.8,533.7 280.4,533.7 281.4,543.1 282.0,543.1 283.0,533.7 283.8,533.7 284.8,543.1 285.0,533.7 285.2,543.1 290.0,533.7 290.0,543.1 290.7,543.1 291.7,533.7 292.7,543.1 294.0,543.1 295.0,533.7 295.5,533.7 296.5,543.1 297.9,543.1 298.9,533.7 299.9,543.1 300.0,543.1 300.0,543.1 306.0,543.1 307.5,533.7 316.1,533.7 316.9,543.1 317.7,533.7 322.3,533.7 323.1,543.1 323.9,533.7 331.7,533.7 332.5,543.1 333.3,533.7 333.7,533.7 334.5,543.1 335.3,533.7 336.1,533.7 336.9,543.1 337.7,533.7 347.9,533.7 348.8,543.1 349.6,533.7 353.6,533.7 354.4,543.1 355.2,533.7 375.4,533.7 376.2,543.1 377.1,533.7 392.9,533.7 393.8,524.3 394.6,533.7 400.2,533.7 401.0,543.1 401.8,533.7 402.2,533.7 403.0,543.1 403.8,533.7 404.7,533.7 405.5,543.1 406.3,533.7 406.7,533.7 407.5,543.1 408.3,533.7 416.5,533.7 417.3,524.3 418.1,533.7 430.2,533.7 431.0,543.1 431.8,533.7 448.9,533.7 449.7,524.3 450.5,533.7 485.7,533.7 486.5,543.1 487.3,533.7 492.4,533.7 493.2,524.3 494.0,533.7 541.2,533.7 542.0,524.3 542.8,533.7 572.1,533.7 572.9,524.3 573.7,533.7 601.4,533.7 602.2,543.1 603.0,533.7 614.2,533.7 615.0,524.3 615.8,533.7 624.8,533.7 625.6,524.3 626.4,533.7 655.2,533.7 656.0,524.3 656.8,533.7 658.7,533.7 659.5,524.3 660.3,533.7 662.2,533.7 663.0,524.3 663.8,533.7 665.7,533.7 666.5,524.3 667.3,533.7 669.2,533.7 670.0,524.3 670.8,533.7 674.2,533.7 675.0,524.3 675.8,533.7 686.9,533.7 687.7,524.3 688.5,533.7 691.2,533.7 692.0,524.3 692.8,533.7 695.2,533.7 696.0,524.3 696.8,533.7 699.2,533.7 700.0,524.3 700.8,533.7 703.2,533.7 704.0,524.3 704.8,533.7 710.2,533.7 711.0,524.3 711.8,533.7 717.4,533.7 718.2,524.3 719.0,533.7 726.8,533.7 727.6,543.1 728.4,533.7 733.8,533.7 734.6,524.3 735.4,533.7 745.5,533.7 746.3,524.3 747.1,533.7 774.8,533.7 775.6,524.3 776.4,533.7 810.0,533.7 810.8,524.3 811.6,533.7 814.2,533.7 815.0,524.3 815.8,533.7 819.2,533.7 820.0,524.3 820.8,533.7 824.2,533.7 825.0,524.3 825.8,533.7 831.1,533.7 831.9,524.3 832.7,533.7 847.5,533.7 848.3,524.3 849.1,533.7 855.2,533.7 856.0,543.1 856.8,533.7 857.7,533.7 858.5,543.1 859.3,533.7 860.2,533.7 861.0,543.1 861.8,533.7 865.2,533.7 866.0,543.1 866.8,533.7 884.2,533.7 885.0,543.1 885.8,533.7 905.0,533.7 905.0,543.1 907.0,543.1 908.0,533.7 908.5,533.7 909.5,543.1 910.4,543.1 911.4,533.7 912.4,543.1 913.6,543.1 914.6,533.7 915.1,533.7 916.1,543.1 918.2,543.1 919.2,533.7 919.8,533.7 920.8,543.1 922.7,543.1 923.7,533.7 924.3,533.7 925.3,543.1 926.7,543.1 927.7,533.7 928.7,543.1 929.5,543.1"/>
</g>
<rect x="47.5" y="520.5" width="886" height="236" fill="none" stroke="#a3a3a3" stroke-width="1"/>
<g stroke="#000" stroke-width="0.45">
<text x="664.08" y="495.80" font-size="20.5" textLength="265.16" lengthAdjust="spacingAndGlyphs" fill="#000">Core Temperatures (avg) [°C]</text>
</g>
<text x="25.91" y="494.90" font-size="20" textLength="12.37" lengthAdjust="spacingAndGlyphs" fill="#000">↓</text>
<text x="41.61" y="495.80" font-size="18.5" textLength="19.42" lengthAdjust="spacingAndGlyphs" fill="#ff0000">65</text>
<text x="66.72" y="495.80" font-size="18.5" textLength="19.98" lengthAdjust="spacingAndGlyphs" fill="#008000">82</text>
<text x="108.55" y="495.80" font-size="18.5" textLength="14.58" lengthAdjust="spacingAndGlyphs" fill="#000">Ø</text>
<text x="128.33" y="495.80" font-size="18.5" textLength="42.38" lengthAdjust="spacingAndGlyphs" fill="#ff0000">70,05</text>
<text x="175.95" y="495.80" font-size="18.5" textLength="43.22" lengthAdjust="spacingAndGlyphs" fill="#008000">87,72</text>
<text x="240.01" y="494.90" font-size="20" textLength="12.37" lengthAdjust="spacingAndGlyphs" fill="#000">↑</text>
<text x="254.99" y="495.80" font-size="18.5" textLength="20.74" lengthAdjust="spacingAndGlyphs" fill="#ff0000">80</text>
<text x="280.92" y="495.80" font-size="18.5" textLength="19.93" lengthAdjust="spacingAndGlyphs" fill="#008000">89</text>
</g>
<g id="p4">
<rect x="1010" y="520" width="887" height="237" fill="url(#bg)"/>
<rect x="1011.5" y="521.5" width="884" height="234" fill="none" stroke="#ffffff" stroke-opacity="0.55" stroke-width="1"/>
<line x1="1011" y1="713.20" x2="1896" y2="713.20" stroke="#ffffff" stroke-opacity="0.45" stroke-width="1"/>
<line x1="1011" y1="714.20" x2="1896" y2="714.20" stroke="#2e2e2e" stroke-width="1"/>
<line x1="1006" y1="714.20" x2="1010" y2="714.20" stroke="#111" stroke-width="1"/>
<text x="985.54" y="722.10" font-size="18.5" textLength="19.55" lengthAdjust="spacingAndGlyphs" fill="#000">20</text>
<line x1="1011" y1="653.00" x2="1896" y2="653.00" stroke="#ffffff" stroke-opacity="0.45" stroke-width="1"/>
<line x1="1011" y1="654.00" x2="1896" y2="654.00" stroke="#2e2e2e" stroke-width="1"/>
<line x1="1006" y1="654.00" x2="1010" y2="654.00" stroke="#111" stroke-width="1"/>
<text x="985.59" y="661.90" font-size="18.5" textLength="19.55" lengthAdjust="spacingAndGlyphs" fill="#000">25</text>
<line x1="1011" y1="592.60" x2="1896" y2="592.60" stroke="#ffffff" stroke-opacity="0.45" stroke-width="1"/>
<line x1="1011" y1="593.60" x2="1896" y2="593.60" stroke="#2e2e2e" stroke-width="1"/>
<line x1="1006" y1="593.60" x2="1010" y2="593.60" stroke="#111" stroke-width="1"/>
<text x="985.54" y="601.50" font-size="18.5" textLength="19.55" lengthAdjust="spacingAndGlyphs" fill="#000">30</text>
<line x1="1011" y1="532.80" x2="1896" y2="532.80" stroke="#ffffff" stroke-opacity="0.45" stroke-width="1"/>
<line x1="1011" y1="533.80" x2="1896" y2="533.80" stroke="#2e2e2e" stroke-width="1"/>
<line x1="1006" y1="533.80" x2="1010" y2="533.80" stroke="#111" stroke-width="1"/>
<text x="985.59" y="541.70" font-size="18.5" textLength="19.55" lengthAdjust="spacingAndGlyphs" fill="#000">35</text>
<line x1="1014.50" y1="757" x2="1014.50" y2="761.8" stroke="#111" stroke-width="1"/>
<text x="992.51" y="781.50" font-size="18.5" textLength="43.98" lengthAdjust="spacingAndGlyphs" fill="#000">00:00</text>
<line x1="1085.65" y1="757" x2="1085.65" y2="761.8" stroke="#111" stroke-width="1"/>
<text x="1063.69" y="781.50" font-size="18.5" textLength="43.98" lengthAdjust="spacingAndGlyphs" fill="#000">00:05</text>
<line x1="1156.80" y1="757" x2="1156.80" y2="761.8" stroke="#111" stroke-width="1"/>
<text x="1134.81" y="781.50" font-size="18.5" textLength="43.98" lengthAdjust="spacingAndGlyphs" fill="#000">00:10</text>
<line x1="1227.95" y1="757" x2="1227.95" y2="761.8" stroke="#111" stroke-width="1"/>
<text x="1205.99" y="781.50" font-size="18.5" textLength="43.98" lengthAdjust="spacingAndGlyphs" fill="#000">00:15</text>
<line x1="1299.10" y1="757" x2="1299.10" y2="761.8" stroke="#111" stroke-width="1"/>
<text x="1277.11" y="781.50" font-size="18.5" textLength="43.98" lengthAdjust="spacingAndGlyphs" fill="#000">00:20</text>
<line x1="1370.25" y1="757" x2="1370.25" y2="761.8" stroke="#111" stroke-width="1"/>
<text x="1348.29" y="781.50" font-size="18.5" textLength="43.98" lengthAdjust="spacingAndGlyphs" fill="#000">00:25</text>
<line x1="1441.40" y1="757" x2="1441.40" y2="761.8" stroke="#111" stroke-width="1"/>
<text x="1419.41" y="781.50" font-size="18.5" textLength="43.98" lengthAdjust="spacingAndGlyphs" fill="#000">00:30</text>
<line x1="1512.55" y1="757" x2="1512.55" y2="761.8" stroke="#111" stroke-width="1"/>
<text x="1490.59" y="781.50" font-size="18.5" textLength="43.98" lengthAdjust="spacingAndGlyphs" fill="#000">00:35</text>
<line x1="1583.70" y1="757" x2="1583.70" y2="761.8" stroke="#111" stroke-width="1"/>
<text x="1561.71" y="781.50" font-size="18.5" textLength="43.98" lengthAdjust="spacingAndGlyphs" fill="#000">00:40</text>
<line x1="1654.85" y1="757" x2="1654.85" y2="761.8" stroke="#111" stroke-width="1"/>
<text x="1632.89" y="781.50" font-size="18.5" textLength="43.98" lengthAdjust="spacingAndGlyphs" fill="#000">00:45</text>
<line x1="1726.00" y1="757" x2="1726.00" y2="761.8" stroke="#111" stroke-width="1"/>
<text x="1704.01" y="781.50" font-size="18.5" textLength="43.98" lengthAdjust="spacingAndGlyphs" fill="#000">00:50</text>
<line x1="1797.15" y1="757" x2="1797.15" y2="761.8" stroke="#111" stroke-width="1"/>
<text x="1775.19" y="781.50" font-size="18.5" textLength="43.98" lengthAdjust="spacingAndGlyphs" fill="#000">00:55</text>
<line x1="1868.30" y1="757" x2="1868.30" y2="761.8" stroke="#111" stroke-width="1"/>
<text x="1846.31" y="781.50" font-size="18.5" textLength="43.98" lengthAdjust="spacingAndGlyphs" fill="#000">01:00</text>
<text x="1434.43" y="804.80" font-size="18.5" font-style="italic" textLength="38.23" lengthAdjust="spacingAndGlyphs" fill="#000">Time</text>
<clipPath id="c3"><rect x="1011" y="521" width="885" height="235"/></clipPath>
<g clip-path="url(#c3)" fill="none" stroke-width="2" stroke-linejoin="round" stroke-linecap="round">
<polyline stroke="#ff0000" points="1013.9,691.4 1014.3,696.9 1014.7,701.4 1015.1,705.6 1015.5,714.3 1015.9,706.7 1016.3,619.2 1016.7,619.2 1017.1,619.2 1017.5,719.8 1017.9,712.5 1018.3,719.3 1018.7,718.0 1019.1,718.0 1019.5,719.7 1019.9,713.8 1020.3,717.9 1020.7,718.9 1021.1,721.2 1021.5,718.6 1021.9,724.5 1022.3,722.8 1022.7,724.4 1023.1,718.8 1023.5,730.5 1023.9,720.3 1024.3,725.9 1024.7,716.8 1025.1,722.9 1025.5,719.2 1025.9,722.5 1026.3,713.1 1026.7,713.2 1027.1,718.0 1027.5,721.9 1027.9,708.9 1028.3,704.2 1028.7,711.6 1029.1,721.4 1029.5,717.4 1029.9,707.3 1030.3,718.3 1030.7,713.1 1031.1,717.6 1031.5,718.5 1031.9,721.9 1032.3,718.9 1032.7,716.2 1033.1,731.2 1033.5,723.3 1033.9,724.4 1034.3,717.5 1034.7,720.6 1035.1,723.6 1035.5,723.3 1035.9,724.4 1036.3,726.4 1036.7,727.3 1037.1,730.2 1037.5,732.9 1037.9,730.4 1038.3,726.4 1038.7,719.5 1039.1,732.2 1039.5,725.5 1039.9,730.4 1040.3,723.2 1040.7,722.4 1041.1,724.0 1041.5,728.9 1041.9,720.6 1042.3,719.8 1042.7,714.2 1043.1,720.1 1043.5,684.1 1043.9,684.1 1044.3,716.3 1044.7,720.9 1045.1,719.5 1045.5,719.3 1045.9,720.5 1046.3,723.3 1046.7,715.8 1047.1,728.8 1047.5,720.8 1047.9,718.1 1048.3,709.6 1048.7,714.3 1049.1,713.6 1049.5,715.9 1049.9,717.2 1050.3,716.2 1050.7,711.1 1051.1,712.1 1051.5,716.8 1051.9,722.8 1052.3,719.9 1052.7,721.9 1053.1,713.0 1053.5,715.1 1053.9,691.8 1054.3,718.7 1054.7,712.5 1055.1,722.4 1055.5,719.3 1055.9,716.9 1056.3,718.5 1056.7,699.6 1057.1,717.4 1057.5,728.8 1057.9,716.9 1058.3,723.1 1058.7,724.4 1059.1,725.8 1059.5,714.0 1059.9,719.6 1060.3,726.3 1060.7,715.7 1061.1,734.7 1061.5,725.8 1061.9,724.4 1062.3,731.2 1062.7,725.3 1063.1,712.8 1063.5,720.6 1063.9,721.1 1064.3,718.5 1064.7,722.3 1065.1,720.4 1065.5,716.1 1065.9,722.5 1066.3,716.0 1066.7,719.2 1067.1,720.4 1067.5,729.4 1067.9,712.8 1068.3,716.1 1068.7,726.0 1069.1,720.3 1069.5,729.0 1069.9,720.2 1070.3,722.2 1070.7,720.6 1071.1,717.7 1071.5,713.7 1071.9,716.1 1072.3,722.8 1072.7,723.1 1073.1,716.5 1073.5,714.0 1073.9,713.8 1074.3,717.6 1074.7,720.1 1075.1,729.8 1075.5,724.5 1075.9,723.0 1076.3,714.3 1076.7,724.8 1077.1,728.2 1077.5,716.4 1077.9,675.7 1078.3,675.7 1078.7,724.6 1079.1,719.8 1079.5,720.6 1079.9,717.6 1080.3,718.1 1080.7,711.6 1081.1,706.0 1081.5,721.6 1081.9,710.4 1082.3,711.3 1082.7,717.5 1083.1,712.9 1083.5,719.8 1083.9,721.5 1084.3,729.0 1084.7,722.0 1085.1,716.1 1085.5,727.0 1085.9,722.9 1086.3,714.4 1086.7,695.5 1087.1,722.0 1087.5,726.1 1087.9,708.2 1088.3,715.4 1088.7,714.6 1089.1,721.2 1089.5,727.6 1089.9,720.4 1090.3,722.9 1090.7,730.6 1091.1,716.1 1091.5,715.1 1091.9,716.1 1092.3,711.1 1092.7,725.6 1093.1,715.2 1093.5,717.2 1093.9,718.6 1094.3,714.3 1094.7,703.8 1095.1,717.4 1095.5,713.3 1095.9,721.8 1096.3,719.8 1096.7,721.5 1097.1,716.1 1097.5,717.5 1097.9,717.8 1098.3,724.4 1098.7,720.0 1099.1,718.7 1099.5,718.4 1099.9,724.1 1100.3,712.7 1100.7,725.1 1101.1,718.8 1101.5,722.2 1101.9,715.6 1102.3,724.7 1102.7,719.6 1103.1,725.7 1103.5,720.4 1103.9,718.5 1104.3,719.0 1104.7,717.9 1105.1,720.0 1105.5,709.7 1105.9,720.7 1106.3,708.9 1106.7,716.5 1107.1,720.9 1107.5,714.1 1107.9,720.8 1108.3,718.5 1108.7,725.1 1109.1,720.9 1109.5,710.2 1109.9,720.9 1110.3,714.4 1110.7,723.7 1111.1,724.1 1111.5,702.7 1111.9,719.0 1112.3,720.5 1112.7,717.0 1113.1,715.0 1113.5,713.2 1113.9,718.1 1114.3,723.3 1114.7,727.5 1115.1,721.2 1115.5,719.1 1115.9,714.9 1116.3,719.0 1116.7,729.9 1117.1,729.0 1117.5,722.4 1117.9,713.9 1118.3,722.7 1118.7,723.7 1119.1,728.6 1119.5,728.7 1119.9,734.6 1120.3,734.1 1120.7,731.9 1121.1,729.6 1121.5,725.3 1121.9,725.6 1122.3,731.0 1122.7,731.7 1123.1,728.7 1123.5,724.9 1123.9,723.2 1124.3,725.7 1124.7,733.9 1125.1,725.8 1125.5,726.5 1125.9,734.8 1126.3,736.7 1126.7,734.6 1127.1,726.6 1127.5,736.5 1127.9,733.8 1128.3,721.8 1128.7,728.1 1129.1,737.9 1129.5,724.0 1129.9,728.8 1130.3,721.2 1130.7,726.3 1131.1,725.3 1131.5,731.7 1131.9,720.3 1132.3,728.5 1132.7,731.9 1133.1,732.5 1133.5,725.0 1133.9,728.9 1134.3,722.2 1134.7,731.3 1135.1,736.6 1135.5,729.7 1135.9,724.1 1136.3,728.0 1136.7,727.1 1137.1,728.6 1137.5,722.6 1137.9,739.7 1138.3,738.2 1138.7,724.9 1139.1,723.4 1139.5,720.2 1139.9,725.1 1140.3,726.0 1140.7,722.3 1141.1,733.8 1141.5,724.6 1141.9,716.1 1142.3,724.4 1142.7,728.1 1143.1,726.0 1143.5,720.4 1143.9,724.3 1144.3,717.1 1144.7,732.2 1145.1,738.7 1145.5,729.3 1145.9,729.3 1146.3,733.0 1146.7,729.8 1147.1,726.7 1147.5,730.3 1147.9,729.0 1148.3,736.6 1148.7,725.4 1149.1,731.2 1149.5,737.9 1149.9,694.1 1150.3,726.8 1150.7,722.9 1151.1,727.6 1151.5,733.8 1151.9,723.9 1152.3,732.9 1152.7,729.8 1153.1,721.5 1153.5,726.7 1153.9,724.9 1154.3,731.0 1154.7,730.1 1155.1,728.8 1155.5,719.2 1155.9,734.0 1156.3,736.0 1156.7,728.2 1157.1,738.6 1157.5,730.1 1157.9,728.1 1158.3,727.7 1158.7,729.2 1159.1,740.5 1159.5,732.4 1159.9,740.3 1160.3,730.4 1160.7,728.2 1161.1,731.7 1161.5,724.5 1161.9,736.8 1162.3,741.6 1162.7,736.0 1163.1,727.5 1163.5,723.1 1163.9,729.8 1164.3,727.8 1164.7,722.0 1165.1,730.3 1165.5,716.2 1165.9,733.3 1166.3,738.9 1166.7,733.5 1167.1,727.3 1167.5,722.7 1167.9,723.0 1168.3,732.3 1168.7,740.6 1169.1,736.9 1169.5,733.1 1169.9,727.8 1170.3,725.8 1170.7,737.8 1171.1,732.1 1171.5,729.7 1171.9,735.4 1172.3,738.9 1172.7,737.2 1173.1,734.2 1173.5,734.1 1173.9,729.5 1174.3,726.0 1174.7,731.5 1175.1,726.4 1175.5,729.7 1175.9,732.8 1176.3,726.4 1176.7,731.4 1177.1,723.7 1177.5,736.2 1177.9,722.0 1178.3,732.1 1178.7,729.4 1179.1,732.2 1179.5,723.9 1179.9,737.3 1180.3,722.8 1180.7,728.8 1181.1,726.4 1181.5,725.2 1181.9,726.7 1182.3,725.0 1182.7,732.1 1183.1,735.0 1183.5,728.7 1183.9,730.0 1184.3,737.3 1184.7,735.9 1185.1,731.8 1185.5,744.0 1185.9,737.2 1186.3,732.9 1186.7,733.3 1187.1,743.0 1187.5,731.0 1187.9,730.4 1188.3,730.8 1188.7,739.6 1189.1,730.1 1189.5,731.9 1189.9,728.1 1190.3,725.8 1190.7,731.7 1191.1,733.7 1191.5,725.7 1191.9,734.2 1192.3,733.2 1192.7,721.2 1193.1,729.8 1193.5,725.5 1193.9,739.6 1194.3,737.6 1194.7,733.6 1195.1,734.9 1195.5,729.3 1195.9,736.6 1196.3,733.7 1196.7,737.5 1197.1,741.1 1197.5,740.2 1197.9,739.0 1198.3,737.7 1198.7,736.2 1199.1,738.0 1199.5,734.3 1199.9,724.7 1200.3,731.6 1200.7,731.8 1201.1,722.5 1201.5,726.8 1201.9,735.9 1202.3,737.2 1202.7,727.7 1203.1,731.9 1203.5,730.5 1203.9,737.1 1204.3,728.3 1204.7,736.8 1205.1,742.8 1205.5,728.4 1205.9,730.4 1206.3,724.6 1206.7,721.5 1207.1,730.5 1207.5,730.5 1207.9,735.3 1208.3,727.2 1208.7,733.9 1209.1,728.6 1209.5,723.0 1209.9,730.9 1210.3,728.1 1210.7,735.1 1211.1,732.5 1211.5,739.9 1211.9,734.6 1212.3,725.7 1212.7,718.1 1213.1,733.8 1213.5,726.4 1213.9,738.4 1214.3,732.5 1214.7,734.3 1215.1,731.4 1215.5,734.9 1215.9,726.0 1216.3,738.7 1216.7,730.5 1217.1,720.8 1217.5,732.4 1217.9,736.8 1218.3,730.4 1218.7,732.7 1219.1,736.2 1219.5,728.2 1219.9,732.8 1220.3,728.0 1220.7,736.3 1221.1,742.5 1221.5,739.3 1221.9,731.7 1222.3,740.6 1222.7,739.4 1223.1,734.2 1223.5,716.8 1223.9,743.6 1224.3,726.8 1224.7,734.1 1225.1,674.5 1225.5,674.5 1225.9,738.2 1226.3,737.7 1226.7,682.9 1227.1,682.9 1227.5,682.9 1227.9,735.9 1228.3,738.4 1228.7,733.1 1229.1,676.9 1229.5,676.9 1229.9,676.9 1230.3,737.1 1230.7,735.3 1231.1,741.1 1231.5,741.7 1231.9,749.5 1232.3,743.2 1232.7,743.9 1233.1,748.3 1233.5,749.0 1233.9,749.8 1234.3,751.4 1234.7,746.6 1235.1,744.1 1235.5,746.8 1235.9,743.5 1236.3,752.0 1236.7,749.1 1237.1,749.1 1237.5,748.6 1237.9,753.4 1238.3,742.7 1238.7,741.3 1239.1,745.7 1239.5,750.3 1239.9,750.3 1240.3,750.3 1240.7,744.0 1241.1,741.5 1241.5,742.7 1241.9,741.9 1242.3,739.9 1242.7,744.2 1243.1,740.8 1243.5,745.2 1243.9,730.7 1244.3,735.9 1244.7,742.0 1245.1,733.4 1245.5,737.6 1245.9,732.7 1246.3,736.2 1246.7,738.2 1247.1,734.0 1247.5,728.4 1247.9,732.4 1248.3,722.3 1248.7,727.9 1249.1,734.1 1249.5,724.2 1249.9,725.4 1250.3,730.1 1250.7,721.3 1251.1,721.8 1251.5,727.4 1251.9,729.7 1252.3,736.6 1252.7,732.2 1253.1,732.9 1253.5,723.3 1253.9,725.3 1254.3,726.7 1254.7,725.9 1255.1,736.7 1255.5,655.3 1255.9,655.3 1256.3,731.3 1256.7,729.6 1257.1,723.6 1257.5,711.8 1257.9,723.0 1258.3,720.1 1258.7,723.7 1259.1,721.8 1259.5,726.5 1259.9,714.2 1260.3,725.2 1260.7,724.9 1261.1,730.3 1261.5,734.1 1261.9,730.7 1262.3,733.2 1262.7,734.7 1263.1,727.2 1263.5,726.7 1263.9,731.3 1264.3,731.3 1264.7,732.4 1265.1,725.8 1265.5,729.1 1265.9,729.1 1266.3,723.1 1266.7,733.2 1267.1,728.4 1267.5,724.6 1267.9,730.3 1268.3,726.1 1268.7,718.8 1269.1,728.3 1269.5,727.0 1269.9,728.4 1270.3,725.3 1270.7,730.9 1271.1,733.3 1271.5,717.7 1271.9,720.6 1272.3,729.8 1272.7,732.0 1273.1,727.2 1273.5,722.2 1273.9,731.8 1274.3,733.1 1274.7,730.6 1275.1,733.6 1275.5,728.5 1275.9,735.9 1276.3,724.4 1276.7,724.8 1277.1,727.2 1277.5,727.8 1277.9,726.9 1278.3,725.4 1278.7,726.3 1279.1,717.0 1279.5,726.1 1279.9,725.7 1280.3,722.2 1280.7,716.9 1281.1,727.9 1281.5,724.7 1281.9,704.9 1282.3,715.6 1282.7,723.3 1283.1,732.2 1283.5,725.4 1283.9,717.4 1284.3,723.8 1284.7,726.3 1285.1,721.3 1285.5,727.4 1285.9,724.0 1286.3,723.7 1286.7,717.3 1287.1,716.3 1287.5,717.6 1287.9,715.6 1288.3,719.1 1288.7,718.4 1289.1,726.7 1289.5,721.4 1289.9,723.3 1290.3,719.1 1290.7,702.2 1291.1,702.2 1291.5,721.7 1291.9,722.5 1292.3,724.6 1292.7,733.3 1293.1,732.9 1293.5,724.2 1293.9,723.8 1294.3,722.8 1294.7,727.7 1295.1,734.3 1295.5,723.8 1295.9,723.0 1296.3,739.0 1296.7,727.2 1297.1,723.8 1297.5,731.6 1297.9,725.7 1298.3,729.4 1298.7,728.9 1299.1,730.8 1299.5,726.3 1299.9,720.4 1300.3,731.4 1300.7,733.9 1301.1,724.4 1301.5,726.6 1301.9,729.4 1302.3,729.2 1302.7,727.1 1303.1,719.6 1303.5,718.8 1303.9,730.1 1304.3,730.0 1304.7,720.6 1305.1,723.2 1305.5,728.2 1305.9,721.4 1306.3,723.8 1306.7,722.3 1307.1,729.2 1307.5,735.3 1307.9,728.7 1308.3,730.9 1308.7,730.4 1309.1,728.7 1309.5,732.6 1309.9,732.9 1310.3,728.2 1310.7,727.7 1311.1,731.6 1311.5,729.5 1311.9,732.8 1312.3,727.2 1312.7,728.7 1313.1,722.3 1313.5,726.0 1313.9,722.3 1314.3,725.9 1314.7,730.6 1315.1,724.2 1315.5,723.5 1315.9,724.5 1316.3,718.8 1316.7,720.4 1317.1,730.6 1317.5,719.8 1317.9,726.1 1318.3,726.8 1318.7,725.7 1319.1,730.9 1319.5,715.5 1319.9,720.6 1320.3,714.1 1320.7,719.8 1321.1,719.9 1321.5,714.3 1321.9,723.1 1322.3,719.3 1322.7,724.6 1323.1,728.4 1323.5,714.5 1323.9,723.3 1324.3,714.3 1324.7,726.7 1325.1,726.8 1325.5,725.1 1325.9,722.1 1326.3,716.9 1326.7,730.0 1327.1,718.7 1327.5,722.3 1327.9,727.7 1328.3,724.8 1328.7,720.0 1329.1,725.6 1329.5,722.8 1329.9,716.6 1330.3,720.7 1330.7,722.4 1331.1,717.1 1331.5,727.4 1331.9,721.7 1332.3,721.4 1332.7,719.9 1333.1,725.9 1333.5,698.5 1333.9,721.8 1334.3,733.2 1334.7,722.8 1335.1,726.8 1335.5,718.9 1335.9,720.0 1336.3,725.8 1336.7,725.8 1337.1,731.4 1337.5,730.4 1337.9,731.7 1338.3,721.1 1338.7,729.4 1339.1,722.1 1339.5,729.1 1339.9,729.6 1340.3,726.2 1340.7,726.7 1341.1,729.1 1341.5,728.7 1341.9,733.3 1342.3,717.5 1342.7,728.1 1343.1,727.3 1343.5,721.2 1343.9,716.5 1344.3,724.0 1344.7,720.8 1345.1,707.6 1345.5,728.6 1345.9,740.4 1346.3,730.4 1346.7,729.4 1347.1,728.8 1347.5,724.2 1347.9,726.5 1348.3,725.3 1348.7,728.8 1349.1,726.8 1349.5,668.5 1349.9,668.5 1350.3,668.5 1350.7,684.1 1351.1,684.1 1351.5,723.0 1351.9,727.0 1352.3,726.0 1352.7,716.4 1353.1,726.1 1353.5,729.4 1353.9,730.0 1354.3,717.5 1354.7,730.3 1355.1,718.8 1355.5,704.6 1355.9,728.9 1356.3,726.0 1356.7,721.8 1357.1,726.2 1357.5,721.7 1357.9,730.0 1358.3,723.6 1358.7,731.7 1359.1,725.7 1359.5,734.6 1359.9,727.1 1360.3,719.6 1360.7,719.0 1361.1,729.0 1361.5,729.4 1361.9,720.3 1362.3,730.6 1362.7,717.7 1363.1,732.9 1363.5,726.1 1363.9,721.2 1364.3,724.7 1364.7,726.7 1365.1,717.1 1365.5,729.3 1365.9,731.5 1366.3,720.9 1366.7,730.1 1367.1,721.0 1367.5,733.6 1367.9,728.7 1368.3,737.8 1368.7,728.1 1369.1,724.0 1369.5,730.7 1369.9,727.9 1370.3,724.3 1370.7,731.8 1371.1,727.7 1371.5,725.2 1371.9,723.8 1372.3,719.1 1372.7,727.2 1373.1,719.8 1373.5,733.6 1373.9,729.0 1374.3,726.0 1374.7,727.7 1375.1,723.7 1375.5,719.4 1375.9,731.3 1376.3,716.0 1376.7,730.9 1377.1,724.7 1377.5,719.5 1377.9,716.6 1378.3,714.8 1378.7,721.9 1379.1,724.0 1379.5,721.6 1379.9,715.2 1380.3,724.8 1380.7,722.9 1381.1,728.6 1381.5,722.7 1381.9,730.0 1382.3,734.9 1382.7,738.5 1383.1,725.1 1383.5,732.4 1383.9,722.1 1384.3,729.6 1384.7,727.5 1385.1,722.9 1385.5,725.7 1385.9,730.7 1386.3,725.0 1386.7,719.3 1387.1,719.9 1387.5,721.6 1387.9,723.2 1388.3,735.9 1388.7,731.4 1389.1,731.2 1389.5,740.9 1389.9,723.8 1390.3,731.3 1390.7,723.9 1391.1,729.0 1391.5,725.6 1391.9,730.8 1392.3,730.3 1392.7,733.1 1393.1,717.7 1393.5,726.1 1393.9,733.9 1394.3,723.8 1394.7,728.0 1395.1,727.3 1395.5,723.6 1395.9,729.6 1396.3,731.5 1396.7,731.2 1397.1,738.2 1397.5,732.3 1397.9,732.0 1398.3,735.7 1398.7,724.4 1399.1,723.8 1399.5,729.5 1399.9,733.4 1400.3,731.5 1400.7,729.7 1401.1,725.0 1401.5,721.1 1401.9,719.8 1402.3,723.2 1402.7,724.1 1403.1,719.2 1403.5,711.7 1403.9,718.9 1404.3,722.8 1404.7,722.9 1405.1,725.4 1405.5,725.8 1405.9,727.7 1406.3,723.0 1406.7,722.5 1407.1,722.2 1407.5,722.0 1407.9,723.2 1408.3,721.8 1408.7,722.7 1409.1,728.4 1409.5,721.1 1409.9,731.5 1410.3,727.5 1410.7,734.5 1411.1,729.7 1411.5,732.7 1411.9,728.4 1412.3,728.6 1412.7,730.6 1413.1,722.6 1413.5,722.6 1413.9,723.7 1414.3,736.0 1414.7,735.8 1415.1,722.9 1415.5,729.6 1415.9,721.7 1416.3,729.7 1416.7,736.9 1417.1,727.2 1417.5,725.3 1417.9,722.0 1418.3,736.7 1418.7,732.8 1419.1,727.1 1419.5,725.0 1419.9,719.4 1420.3,738.3 1420.7,726.7 1421.1,722.0 1421.5,713.0 1421.9,721.2 1422.3,722.3 1422.7,729.2 1423.1,728.2 1423.5,736.7 1423.9,739.5 1424.3,730.0 1424.7,728.4 1425.1,731.6 1425.5,728.9 1425.9,725.2 1426.3,721.6 1426.7,723.1 1427.1,729.4 1427.5,723.4 1427.9,727.8 1428.3,722.7 1428.7,702.9 1429.1,726.2 1429.5,725.6 1429.9,731.2 1430.3,725.2 1430.7,730.2 1431.1,725.1 1431.5,731.3 1431.9,723.1 1432.3,722.3 1432.7,721.6 1433.1,722.6 1433.5,723.5 1433.9,713.2 1434.3,729.1 1434.7,729.7 1435.1,723.9 1435.5,725.4 1435.9,721.7 1436.3,733.8 1436.7,728.1 1437.1,720.4 1437.5,729.2 1437.9,692.5 1438.3,692.5 1438.7,724.2 1439.1,722.8 1439.5,725.2 1439.9,731.0 1440.3,724.9 1440.7,727.1 1441.1,707.8 1441.5,723.2 1441.9,722.9 1442.3,731.1 1442.7,729.1 1443.1,732.3 1443.5,729.2 1443.9,730.6 1444.3,734.8 1444.7,728.3 1445.1,733.5 1445.5,729.2 1445.9,720.6 1446.3,729.7 1446.7,732.5 1447.1,724.4 1447.5,738.3 1447.9,738.0 1448.3,740.6 1448.7,725.0 1449.1,735.3 1449.5,726.7 1449.9,718.9 1450.3,733.8 1450.7,733.0 1451.1,731.8 1451.5,721.6 1451.9,727.9 1452.3,740.4 1452.7,727.5 1453.1,722.9 1453.5,733.3 1453.9,717.1 1454.3,728.2 1454.7,726.0 1455.1,695.2 1455.5,724.6 1455.9,715.9 1456.3,727.6 1456.7,725.6 1457.1,726.8 1457.5,731.2 1457.9,722.3 1458.3,726.0 1458.7,725.9 1459.1,722.8 1459.5,723.8 1459.9,737.0 1460.3,736.1 1460.7,724.9 1461.1,727.3 1461.5,725.3 1461.9,732.1 1462.3,736.5 1462.7,739.4 1463.1,737.3 1463.5,732.8 1463.9,725.4 1464.3,732.6 1464.7,727.5 1465.1,736.3 1465.5,733.3 1465.9,724.4 1466.3,722.7 1466.7,729.9 1467.1,727.0 1467.5,729.0 1467.9,727.0 1468.3,726.3 1468.7,726.3 1469.1,723.0 1469.5,725.3 1469.9,723.9 1470.3,736.1 1470.7,726.7 1471.1,701.9 1471.5,727.7 1471.9,726.8 1472.3,709.8 1472.7,730.6 1473.1,737.9 1473.5,734.1 1473.9,733.0 1474.3,735.8 1474.7,735.0 1475.1,729.2 1475.5,727.2 1475.9,731.4 1476.3,734.3 1476.7,732.8 1477.1,725.2 1477.5,730.7 1477.9,732.0 1478.3,729.5 1478.7,726.8 1479.1,729.0 1479.5,737.6 1479.9,739.1 1480.3,732.6 1480.7,729.2 1481.1,730.9 1481.5,735.5 1481.9,739.1 1482.3,734.0 1482.7,727.0 1483.1,727.9 1483.5,732.4 1483.9,724.0 1484.3,731.2 1484.7,724.7 1485.1,727.1 1485.5,722.8 1485.9,723.1 1486.3,722.4 1486.7,727.4 1487.1,721.8 1487.5,727.3 1487.9,722.1 1488.3,714.6 1488.7,717.2 1489.1,723.5 1489.5,706.0 1489.9,717.8 1490.3,710.7 1490.7,712.1 1491.1,710.7 1491.5,715.3 1491.9,711.6 1492.3,714.0 1492.7,721.7 1493.1,718.9 1493.5,715.5 1493.9,712.8 1494.3,714.5 1494.7,721.6 1495.1,709.0 1495.5,715.1 1495.9,707.6 1496.3,717.9 1496.7,723.8 1497.1,709.8 1497.5,716.8 1497.9,716.3 1498.3,723.7 1498.7,716.4 1499.1,711.4 1499.5,712.0 1499.9,717.9 1500.3,716.6 1500.7,714.9 1501.1,721.6 1501.5,722.1 1501.9,722.9 1502.3,725.5 1502.7,727.9 1503.1,728.2 1503.5,730.1 1503.9,723.5 1504.3,724.8 1504.7,723.8 1505.1,730.4 1505.5,726.2 1505.9,717.0 1506.3,716.4 1506.7,716.8 1507.1,721.9 1507.5,712.5 1507.9,726.6 1508.3,720.5 1508.7,725.9 1509.1,712.9 1509.5,718.5 1509.9,714.2 1510.3,718.4 1510.7,723.1 1511.1,722.0 1511.5,729.9 1511.9,720.1 1512.3,724.8 1512.7,732.2 1513.1,721.4 1513.5,723.0 1513.9,717.6 1514.3,723.4 1514.7,726.0 1515.1,720.5 1515.5,725.6 1515.9,722.9 1516.3,711.9 1516.7,719.3 1517.1,721.2 1517.5,703.9 1517.9,720.3 1518.3,711.0 1518.7,706.9 1519.1,703.1 1519.5,715.8 1519.9,718.5 1520.3,716.8 1520.7,713.7 1521.1,720.5 1521.5,719.2 1521.9,700.5 1522.3,712.6 1522.7,713.1 1523.1,718.1 1523.5,713.0 1523.9,721.3 1524.3,714.8 1524.7,721.0 1525.1,717.5 1525.5,716.6 1525.9,718.9 1526.3,713.1 1526.7,717.5 1527.1,714.9 1527.5,717.1 1527.9,713.5 1528.3,713.4 1528.7,714.4 1529.1,720.7 1529.5,724.2 1529.9,722.2 1530.3,723.8 1530.7,717.0 1531.1,723.0 1531.5,713.4 1531.9,713.2 1532.3,720.8 1532.7,715.5 1533.1,718.0 1533.5,722.9 1533.9,709.9 1534.3,717.4 1534.7,727.8 1535.1,729.2 1535.5,714.5 1535.9,716.3 1536.3,726.0 1536.7,718.9 1537.1,723.3 1537.5,722.8 1537.9,719.3 1538.3,722.8 1538.7,719.5 1539.1,707.3 1539.5,722.5 1539.9,722.4 1540.3,722.5 1540.7,715.5 1541.1,718.8 1541.5,725.5 1541.9,723.7 1542.3,719.5 1542.7,720.0 1543.1,732.2 1543.5,716.3 1543.9,726.9 1544.3,716.8 1544.7,721.8 1545.1,723.3 1545.5,727.5 1545.9,717.7 1546.3,721.5 1546.7,725.4 1547.1,713.7 1547.5,715.5 1547.9,718.7 1548.3,715.6 1548.7,715.6 1549.1,724.6 1549.5,716.8 1549.9,723.5 1550.3,719.5 1550.7,716.0 1551.1,722.5 1551.5,719.5 1551.9,719.0 1552.3,713.2 1552.7,721.9 1553.1,718.0 1553.5,712.1 1553.9,711.6 1554.3,717.5 1554.7,713.1 1555.1,717.5 1555.5,710.0 1555.9,718.1 1556.3,715.2 1556.7,721.9 1557.1,719.9 1557.5,717.4 1557.9,718.4 1558.3,723.4 1558.7,728.0 1559.1,733.5 1559.5,726.1 1559.9,731.6 1560.3,730.8 1560.7,717.8 1561.1,724.3 1561.5,722.5 1561.9,728.4 1562.3,740.0 1562.7,731.4 1563.1,730.3 1563.5,735.6 1563.9,721.5 1564.3,729.4 1564.7,731.9 1565.1,734.0 1565.5,731.6 1565.9,738.6 1566.3,735.2 1566.7,734.4 1567.1,724.2 1567.5,731.9 1567.9,730.5 1568.3,734.0 1568.7,723.6 1569.1,730.3 1569.5,732.7 1569.9,730.0 1570.3,723.1 1570.7,738.4 1571.1,728.1 1571.5,734.3 1571.9,727.9 1572.3,737.1 1572.7,735.6 1573.1,733.6 1573.5,727.1 1573.9,735.9 1574.3,725.0 1574.7,724.6 1575.1,729.2 1575.5,734.3 1575.9,728.6 1576.3,731.5 1576.7,737.0 1577.1,730.0 1577.5,734.0 1577.9,735.4 1578.3,732.4 1578.7,736.7 1579.1,733.3 1579.5,734.4 1579.9,723.6 1580.3,738.1 1580.7,734.2 1581.1,730.1 1581.5,730.4 1581.9,734.6 1582.3,722.0 1582.7,729.3 1583.1,723.2 1583.5,732.6 1583.9,734.4 1584.3,733.8 1584.7,738.1 1585.1,734.8 1585.5,740.5 1585.9,735.6 1586.3,732.6 1586.7,730.9 1587.1,734.5 1587.5,733.5 1587.9,733.7 1588.3,738.4 1588.7,734.9 1589.1,734.9 1589.5,725.6 1589.9,728.0 1590.3,734.2 1590.7,740.9 1591.1,743.1 1591.5,731.0 1591.9,737.1 1592.3,740.6 1592.7,738.0 1593.1,732.9 1593.5,737.2 1593.9,720.7 1594.3,737.7 1594.7,742.6 1595.1,732.2 1595.5,736.2 1595.9,729.6 1596.3,729.7 1596.7,731.9 1597.1,729.7 1597.5,729.1 1597.9,743.8 1598.3,736.4 1598.7,736.8 1599.1,736.5 1599.5,720.6 1599.9,735.4 1600.3,735.3 1600.7,732.3 1601.1,731.1 1601.5,729.2 1601.9,734.4 1602.3,730.3 1602.7,738.8 1603.1,736.4 1603.5,731.2 1603.9,731.2 1604.3,725.5 1604.7,728.6 1605.1,734.5 1605.5,737.9 1605.9,735.8 1606.3,731.8 1606.7,728.4 1607.1,737.4 1607.5,737.6 1607.9,729.9 1608.3,734.1 1608.7,740.7 1609.1,741.5 1609.5,734.0 1609.9,732.4 1610.3,738.4 1610.7,733.0 1611.1,735.2 1611.5,737.1 1611.9,731.5 1612.3,726.1 1612.7,722.1 1613.1,729.3 1613.5,736.7 1613.9,722.5 1614.3,724.2 1614.7,732.0 1615.1,732.1 1615.5,728.7 1615.9,726.7 1616.3,732.3 1616.7,728.2 1617.1,728.6 1617.5,734.1 1617.9,721.6 1618.3,722.1 1618.7,728.3 1619.1,728.3 1619.5,729.5 1619.9,736.6 1620.3,731.9 1620.7,729.2 1621.1,729.4 1621.5,730.9 1621.9,734.2 1622.3,728.8 1622.7,734.6 1623.1,728.0 1623.5,725.7 1623.9,732.7 1624.3,730.5 1624.7,736.4 1625.1,744.2 1625.5,733.8 1625.9,736.5 1626.3,744.7 1626.7,733.5 1627.1,732.9 1627.5,743.4 1627.9,733.4 1628.3,738.0 1628.7,738.0 1629.1,740.7 1629.5,730.7 1629.9,748.5 1630.3,748.3 1630.7,737.9 1631.1,739.0 1631.5,732.6 1631.9,744.1 1632.3,745.1 1632.7,739.9 1633.1,740.5 1633.5,728.2 1633.9,737.2 1634.3,737.2 1634.7,735.4 1635.1,741.5 1635.5,733.5 1635.9,733.2 1636.3,734.8 1636.7,731.4 1637.1,723.7 1637.5,738.4 1637.9,741.7 1638.3,736.6 1638.7,737.5 1639.1,733.6 1639.5,739.4 1639.9,739.2 1640.3,736.1 1640.7,745.3 1641.1,740.6 1641.5,737.0 1641.9,740.3 1642.3,726.0 1642.7,730.8 1643.1,736.0 1643.5,733.2 1643.9,732.1 1644.3,704.9 1644.7,732.1 1645.1,732.3 1645.5,739.3 1645.9,727.7 1646.3,730.3 1646.7,735.1 1647.1,732.3 1647.5,733.3 1647.9,732.3 1648.3,722.7 1648.7,739.9 1649.1,731.3 1649.5,739.5 1649.9,733.3 1650.3,734.6 1650.7,736.5 1651.1,732.3 1651.5,655.3 1651.9,655.3 1652.3,655.3 1652.7,731.1 1653.1,729.0 1653.5,728.8 1653.9,735.1 1654.3,737.8 1654.7,732.3 1655.1,733.4 1655.5,735.5 1655.9,737.0 1656.3,727.8 1656.7,736.5 1657.1,734.6 1657.5,736.7 1657.9,735.9 1658.3,729.3 1658.7,735.2 1659.1,727.4 1659.5,724.5 1659.9,729.4 1660.3,737.6 1660.7,723.5 1661.1,737.8 1661.5,729.4 1661.9,745.1 1662.3,729.4 1662.7,740.0 1663.1,729.9 1663.5,734.1 1663.9,735.9 1664.3,738.8 1664.7,730.0 1665.1,732.3 1665.5,742.0 1665.9,736.8 1666.3,729.8 1666.7,721.2 1667.1,740.8 1667.5,738.3 1667.9,730.7 1668.3,729.9 1668.7,731.6 1669.1,742.7 1669.5,746.3 1669.9,735.0 1670.3,740.3 1670.7,741.1 1671.1,733.5 1671.5,740.1 1671.9,734.2 1672.3,738.4 1672.7,738.0 1673.1,721.6 1673.5,742.1 1673.9,704.0 1674.3,737.7 1674.7,742.8 1675.1,741.3 1675.5,731.4 1675.9,730.6 1676.3,734.4 1676.7,729.8 1677.1,738.1 1677.5,732.1 1677.9,719.6 1678.3,735.6 1678.7,739.0 1679.1,731.1 1679.5,737.3 1679.9,734.6 1680.3,740.5 1680.7,734.0 1681.1,741.1 1681.5,738.3 1681.9,730.2 1682.3,737.7 1682.7,732.6 1683.1,736.7 1683.5,737.9 1683.9,724.6 1684.3,728.6 1684.7,738.6 1685.1,742.0 1685.5,733.3 1685.9,730.8 1686.3,731.2 1686.7,739.6 1687.1,744.2 1687.5,734.1 1687.9,742.2 1688.3,734.0 1688.7,738.1 1689.1,725.8 1689.5,734.9 1689.9,732.4 1690.3,743.8 1690.7,730.2 1691.1,742.4 1691.5,729.9 1691.9,726.0 1692.3,733.6 1692.7,737.6 1693.1,736.6 1693.5,733.1 1693.9,736.6 1694.3,731.6 1694.7,740.4 1695.1,741.4 1695.5,731.7 1695.9,734.1 1696.3,736.4 1696.7,727.9 1697.1,733.7 1697.5,733.6 1697.9,737.3 1698.3,742.3 1698.7,736.1 1699.1,725.6 1699.5,745.8 1699.9,737.1 1700.3,731.0 1700.7,738.0 1701.1,745.5 1701.5,733.6 1701.9,738.9 1702.3,735.1 1702.7,740.6 1703.1,725.4 1703.5,735.6 1703.9,746.8 1704.3,737.5 1704.7,743.1 1705.1,728.5 1705.5,734.5 1705.9,726.5 1706.3,736.9 1706.7,737.0 1707.1,741.3 1707.5,739.2 1707.9,732.8 1708.3,738.9 1708.7,726.8 1709.1,732.6 1709.5,733.8 1709.9,731.8 1710.3,726.5 1710.7,730.2 1711.1,727.2 1711.5,727.8 1711.9,723.3 1712.3,726.4 1712.7,729.2 1713.1,733.5 1713.5,730.1 1713.9,739.4 1714.3,733.0 1714.7,742.0 1715.1,734.5 1715.5,716.3 1715.9,739.5 1716.3,735.3 1716.7,731.3 1717.1,735.5 1717.5,725.0 1717.9,730.5 1718.3,736.6 1718.7,738.2 1719.1,739.2 1719.5,736.2 1719.9,738.1 1720.3,729.1 1720.7,730.4 1721.1,731.3 1721.5,727.5 1721.9,731.4 1722.3,731.0 1722.7,739.0 1723.1,744.0 1723.5,732.9 1723.9,737.6 1724.3,737.1 1724.7,738.6 1725.1,729.2 1725.5,726.3 1725.9,729.0 1726.3,731.5 1726.7,729.7 1727.1,733.0 1727.5,740.0 1727.9,730.3 1728.3,728.7 1728.7,736.3 1729.1,729.2 1729.5,735.3 1729.9,733.3 1730.3,728.0 1730.7,727.1 1731.1,724.7 1731.5,722.0 1731.9,729.6 1732.3,715.3 1732.7,726.6 1733.1,720.9 1733.5,722.5 1733.9,733.6 1734.3,731.9 1734.7,724.5 1735.1,726.4 1735.5,731.1 1735.9,733.8 1736.3,743.0 1736.7,738.5 1737.1,732.6 1737.5,728.6 1737.9,727.9 1738.3,732.8 1738.7,729.7 1739.1,728.9 1739.5,731.1 1739.9,730.7 1740.3,728.6 1740.7,735.0 1741.1,732.6 1741.5,725.9 1741.9,737.1 1742.3,727.6 1742.7,728.7 1743.1,734.2 1743.5,738.2 1743.9,741.5 1744.3,732.1 1744.7,737.0 1745.1,735.1 1745.5,730.7 1745.9,731.2 1746.3,733.7 1746.7,736.9 1747.1,740.4 1747.5,733.7 1747.9,733.2 1748.3,739.4 1748.7,729.4 1749.1,724.9 1749.5,734.1 1749.9,733.0 1750.3,740.5 1750.7,730.3 1751.1,738.7 1751.5,726.0 1751.9,747.8 1752.3,730.0 1752.7,734.2 1753.1,729.4 1753.5,731.0 1753.9,732.4 1754.3,729.9 1754.7,729.7 1755.1,726.7 1755.5,727.1 1755.9,726.2 1756.3,731.0 1756.7,720.8 1757.1,737.3 1757.5,727.5 1757.9,737.4 1758.3,731.5 1758.7,737.5 1759.1,728.1 1759.5,731.7 1759.9,736.1 1760.3,732.2 1760.7,721.1 1761.1,729.5 1761.5,733.5 1761.9,733.9 1762.3,733.9 1762.7,735.7 1763.1,730.1 1763.5,730.8 1763.9,720.1 1764.3,728.3 1764.7,729.8 1765.1,737.9 1765.5,729.7 1765.9,734.8 1766.3,732.2 1766.7,729.3 1767.1,727.5 1767.5,734.0 1767.9,730.0 1768.3,734.9 1768.7,738.8 1769.1,732.1 1769.5,738.7 1769.9,742.9 1770.3,740.1 1770.7,739.6 1771.1,743.3 1771.5,742.6 1771.9,735.6 1772.3,732.1 1772.7,737.6 1773.1,733.0 1773.5,735.5 1773.9,737.1 1774.3,738.0 1774.7,746.1 1775.1,738.9 1775.5,731.5 1775.9,735.8 1776.3,729.2 1776.7,733.2 1777.1,732.2 1777.5,734.7 1777.9,727.3 1778.3,727.6 1778.7,733.4 1779.1,729.8 1779.5,734.1 1779.9,729.0 1780.3,733.7 1780.7,728.0 1781.1,724.1 1781.5,730.2 1781.9,731.8 1782.3,724.2 1782.7,724.4 1783.1,721.8 1783.5,723.9 1783.9,726.9 1784.3,717.4 1784.7,728.5 1785.1,719.7 1785.5,718.7 1785.9,720.4 1786.3,715.0 1786.7,719.7 1787.1,717.3 1787.5,720.4 1787.9,716.9 1788.3,722.4 1788.7,719.7 1789.1,722.1 1789.5,723.5 1789.9,721.0 1790.3,719.4 1790.7,719.2 1791.1,714.7 1791.5,721.5 1791.9,704.1 1792.3,719.9 1792.7,726.5 1793.1,720.1 1793.5,710.6 1793.9,726.4 1794.3,716.5 1794.7,716.2 1795.1,715.1 1795.5,720.2 1795.9,717.2 1796.3,718.5 1796.7,719.0 1797.1,717.4 1797.5,729.4 1797.9,721.9 1798.3,722.8 1798.7,727.4 1799.1,729.4 1799.5,725.4 1799.9,734.8 1800.3,728.3 1800.7,721.3 1801.1,727.8 1801.5,729.8 1801.9,719.0 1802.3,722.5 1802.7,716.0 1803.1,722.5 1803.5,707.9 1803.9,717.0 1804.3,718.6 1804.7,717.5 1805.1,726.3 1805.5,730.4 1805.9,712.0 1806.3,721.3 1806.7,720.2 1807.1,723.3 1807.5,718.6 1807.9,716.4 1808.3,723.9 1808.7,717.1 1809.1,720.1 1809.5,733.7 1809.9,725.6 1810.3,730.4 1810.7,733.6 1811.1,721.2 1811.5,722.2 1811.9,729.8 1812.3,724.4 1812.7,717.6 1813.1,719.0 1813.5,723.0 1813.9,721.2 1814.3,730.8 1814.7,723.5 1815.1,727.2 1815.5,724.8 1815.9,733.4 1816.3,730.0 1816.7,728.7 1817.1,730.3 1817.5,713.9 1817.9,722.3 1818.3,734.1 1818.7,717.0 1819.1,723.1 1819.5,724.4 1819.9,721.8 1820.3,725.8 1820.7,735.8 1821.1,719.0 1821.5,717.2 1821.9,727.2 1822.3,720.8 1822.7,724.0 1823.1,727.0 1823.5,724.4 1823.9,723.2 1824.3,729.6 1824.7,727.9 1825.1,719.5 1825.5,736.3 1825.9,733.1 1826.3,728.0 1826.7,725.9 1827.1,723.8 1827.5,724.1 1827.9,720.2 1828.3,713.4 1828.7,722.5 1829.1,720.4 1829.5,723.8 1829.9,718.7 1830.3,718.7 1830.7,724.2 1831.1,719.1 1831.5,721.2 1831.9,721.7 1832.3,730.5 1832.7,729.9 1833.1,723.1 1833.5,721.1 1833.9,721.8 1834.3,729.9 1834.7,722.9 1835.1,731.8 1835.5,734.5 1835.9,723.5 1836.3,722.0 1836.7,720.3 1837.1,736.8 1837.5,732.0 1837.9,728.8 1838.3,712.8 1838.7,728.3 1839.1,731.0 1839.5,731.3 1839.9,729.3 1840.3,729.2 1840.7,725.8 1841.1,725.8 1841.5,728.1 1841.9,719.8 1842.3,730.9 1842.7,726.2 1843.1,721.9 1843.5,722.4 1843.9,725.0 1844.3,716.9 1844.7,723.9 1845.1,718.0 1845.5,720.5 1845.9,726.7 1846.3,726.9 1846.7,723.3 1847.1,715.5 1847.5,719.0 1847.9,722.2 1848.3,722.2 1848.7,723.9 1849.1,735.8 1849.5,721.0 1849.9,722.1 1850.3,737.7 1850.7,726.8 1851.1,724.5 1851.5,734.3 1851.9,734.3 1852.3,737.3 1852.7,728.8 1853.1,728.9 1853.5,728.4 1853.9,723.4 1854.3,730.2 1854.7,730.1 1855.1,734.4 1855.5,730.6 1855.9,732.3 1856.3,722.8 1856.7,722.8 1857.1,725.4 1857.5,726.4 1857.9,727.3 1858.3,724.9 1858.7,729.4 1859.1,725.8 1859.5,735.0 1859.9,724.7 1860.3,735.0 1860.7,735.6 1861.1,730.0 1861.5,722.7 1861.9,733.7 1862.3,733.5 1862.7,731.7 1863.1,741.4 1863.5,730.1 1863.9,732.1 1864.3,740.0 1864.7,730.3 1865.1,741.2 1865.5,661.3 1865.9,661.3 1866.3,661.3 1866.7,727.9 1867.1,728.2 1867.5,741.6 1867.9,729.8 1868.3,731.6 1868.7,725.5 1869.1,729.3 1869.5,728.3 1869.9,725.6 1870.3,729.0 1870.7,726.3 1871.1,731.2 1871.5,737.0 1871.9,732.3 1872.3,736.4 1872.7,732.5 1873.1,727.8 1873.5,721.9 1873.9,730.5 1874.3,735.2 1874.7,728.8 1875.1,725.4 1875.5,731.0 1875.9,736.6 1876.3,733.1 1876.7,737.6 1877.1,731.9 1877.5,729.3 1877.9,727.6 1878.3,738.7 1878.7,727.6 1879.1,729.2 1879.5,736.5 1879.9,738.7 1880.3,728.6 1880.7,734.9 1881.1,731.8 1881.5,726.9 1881.9,734.4 1882.3,738.0 1882.7,728.7 1883.1,727.0 1883.5,726.5 1883.9,734.8 1884.3,737.7 1884.7,730.6 1885.1,731.0 1885.5,735.9 1885.9,726.1 1886.3,737.5 1886.7,742.3 1887.1,730.7 1887.5,721.4 1887.9,733.4 1888.3,728.7 1888.7,731.2 1889.1,738.0 1889.5,726.2 1889.9,735.3 1890.3,734.1 1890.7,713.5 1891.1,733.2 1891.5,733.8 1891.9,741.1 1892.3,571.3"/>
<polyline stroke="#008000" points="1014.8,524.4 1015.5,540.3 1016.2,556.3 1016.9,566.4 1017.6,562.0 1018.3,557.6 1019.0,553.1 1019.7,548.7 1020.4,546.2 1021.1,548.7 1021.8,547.4 1022.5,552.3 1023.2,555.6 1023.9,557.8 1024.6,559.9 1025.3,560.8 1026.0,563.7 1026.7,565.4 1027.4,570.0 1028.1,570.1 1028.8,573.4 1029.5,574.7 1030.2,574.0 1030.9,578.1 1031.6,579.0 1032.3,582.1 1033.0,581.4 1033.7,583.5 1034.4,585.8 1035.1,586.7 1035.8,590.3 1036.5,592.0 1037.2,590.3 1037.9,591.4 1038.6,594.9 1039.3,595.1 1040.0,594.2 1040.7,597.6 1041.4,596.9 1042.1,597.1 1042.8,598.5 1043.5,601.2 1044.2,601.3 1044.9,603.4 1045.6,603.1 1046.3,604.7 1047.0,604.5 1047.7,607.0 1048.4,605.4 1049.1,607.1 1049.8,609.0 1050.5,607.1 1051.2,605.4 1051.9,611.8 1052.6,609.5 1053.3,613.3 1054.0,613.6 1054.7,615.1 1055.4,614.5 1056.1,612.1 1056.8,615.0 1057.5,615.9 1058.2,615.9 1058.9,614.6 1059.6,617.7 1060.3,617.1 1061.0,617.5 1061.7,619.2 1062.4,620.3 1063.1,619.5 1063.8,620.6 1064.5,620.7 1065.2,622.1 1065.9,623.7 1066.6,621.4 1067.3,625.3 1068.0,628.1 1068.7,627.9 1069.4,628.9 1070.1,630.3 1070.8,629.0 1071.5,629.2 1072.2,628.8 1072.9,629.4 1073.6,634.3 1074.3,633.0 1075.0,634.0 1075.7,634.7 1076.4,635.4 1077.1,638.8 1077.8,636.7 1078.5,635.3 1079.2,637.4 1079.9,634.8 1080.6,637.1 1081.3,637.0 1082.0,638.0 1082.7,637.4 1083.4,639.1 1084.1,639.6 1084.8,643.1 1085.5,642.1 1086.2,641.8 1086.9,642.5 1087.6,641.7 1088.3,642.5 1089.0,643.5 1089.7,645.2 1090.4,644.3 1091.1,642.8 1091.8,643.3 1092.5,641.4 1093.2,644.4 1093.9,643.1 1094.6,644.1 1095.3,645.8 1096.0,643.2 1096.7,643.8 1097.4,646.3 1098.1,645.1 1098.8,645.0 1099.5,644.6 1100.2,644.3 1100.9,645.5 1101.6,645.0 1102.3,646.2 1103.0,645.1 1103.7,643.2 1104.4,647.0 1105.1,645.9 1105.8,647.4 1106.5,648.3 1107.2,649.3 1107.9,648.1 1108.6,650.9 1109.3,649.2 1110.0,650.8 1110.7,650.7 1111.4,650.6 1112.1,650.6 1112.8,651.4 1113.5,652.3 1114.2,652.0 1114.9,652.8 1115.6,654.3 1116.3,652.1 1117.0,650.5 1117.7,652.4 1118.4,652.1 1119.1,652.8 1119.8,651.2 1120.5,651.8 1121.2,654.0 1121.9,651.7 1122.6,651.1 1123.3,654.0 1124.0,651.6 1124.7,649.9 1125.4,651.7 1126.1,653.6 1126.8,652.4 1127.5,652.8 1128.2,650.8 1128.9,653.4 1129.6,652.7 1130.3,653.7 1131.0,652.9 1131.7,654.5 1132.4,652.8 1133.1,654.9 1133.8,652.2 1134.5,654.4 1135.2,652.6 1135.9,653.5 1136.6,653.6 1137.3,655.5 1138.0,654.5 1138.7,654.6 1139.4,655.2 1140.1,655.0 1140.8,654.0 1141.5,656.9 1142.2,655.4 1142.9,655.1 1143.6,652.5 1144.3,654.6 1145.0,654.2 1145.7,653.7 1146.4,653.6 1147.1,652.6 1147.8,653.3 1148.5,651.6 1149.2,653.6 1149.9,652.8 1150.6,652.1 1151.3,651.4 1152.0,652.1 1152.7,652.4 1153.4,653.0 1154.1,652.6 1154.8,653.5 1155.5,655.2 1156.2,654.9 1156.9,654.7 1157.6,654.4 1158.3,655.2 1159.0,656.8 1159.7,656.6 1160.4,656.6 1161.1,658.9 1161.8,658.7 1162.5,657.8 1163.2,657.2 1163.9,659.6 1164.6,658.7 1165.3,659.9 1166.0,659.4 1166.7,658.7 1167.4,658.0 1168.1,659.9 1168.8,661.9 1169.5,658.8 1170.2,660.0 1170.9,661.0 1171.6,658.6 1172.3,659.7 1173.0,661.6 1173.7,661.3 1174.4,662.7 1175.1,662.4 1175.8,663.4 1176.5,664.6 1177.2,663.9 1177.9,665.3 1178.6,665.9 1179.3,667.3 1180.0,662.4 1180.7,665.6 1181.4,664.3 1182.1,662.7 1182.8,665.3 1183.5,663.6 1184.2,664.2 1184.9,663.1 1185.6,661.4 1186.3,662.6 1187.0,662.5 1187.7,662.8 1188.4,663.4 1189.1,662.9 1189.8,661.8 1190.5,661.5 1191.2,663.8 1191.9,662.9 1192.6,663.1 1193.3,662.5 1194.0,663.9 1194.7,663.9 1195.4,663.8 1196.1,664.6 1196.8,665.6 1197.5,665.2 1198.2,663.1 1198.9,663.8 1199.6,662.7 1200.3,662.9 1201.0,661.2 1201.7,662.2 1202.4,662.1 1203.1,661.9 1203.8,662.7 1204.5,662.8 1205.2,660.9 1205.9,662.5 1206.6,661.5 1207.3,661.3 1208.0,660.7 1208.7,662.1 1209.4,662.7 1210.1,662.5 1210.8,659.9 1211.5,660.9 1212.2,661.2 1212.9,660.5 1213.6,659.9 1214.3,662.3 1215.0,664.4 1215.7,663.9 1216.4,663.8 1217.1,661.4 1217.8,659.7 1218.5,662.3 1219.2,663.1 1219.9,662.3 1220.6,662.5 1221.3,663.7 1222.0,662.9 1222.7,659.8 1223.4,659.7 1224.1,659.5 1224.8,661.4 1225.5,660.6 1226.2,661.3 1226.9,659.9 1227.6,659.0 1228.3,660.1 1229.0,661.7 1229.7,661.6 1230.4,662.1 1231.1,662.9 1231.8,660.8 1232.5,661.3 1233.2,661.4 1233.9,659.4 1234.6,663.0 1235.3,662.1 1236.0,661.1 1236.7,661.5 1237.4,662.7 1238.1,663.6 1238.8,663.0 1239.5,662.6 1240.2,662.6 1240.9,664.9 1241.6,662.2 1242.3,662.3 1243.0,661.5 1243.7,664.0 1244.4,664.8 1245.1,660.7 1245.8,662.3 1246.5,664.5 1247.2,665.0 1247.9,663.2 1248.6,665.1 1249.3,665.2 1250.0,666.0 1250.7,664.7 1251.4,666.4 1252.1,663.5 1252.8,664.7 1253.5,664.3 1254.2,664.2 1254.9,666.9 1255.6,665.1 1256.3,666.2 1257.0,665.6 1257.7,666.6 1258.4,664.1 1259.1,663.3 1259.8,662.9 1260.5,664.6 1261.2,665.4 1261.9,664.0 1262.6,665.8 1263.3,663.2 1264.0,662.9 1264.7,664.0 1265.4,665.0 1266.1,664.4 1266.8,665.1 1267.5,664.5 1268.2,666.3 1268.9,664.5 1269.6,662.2 1270.3,663.7 1271.0,663.4 1271.7,663.1 1272.4,663.2 1273.1,662.2 1273.8,663.1 1274.5,662.9 1275.2,662.1 1275.9,662.2 1276.6,662.2 1277.3,663.3 1278.0,662.6 1278.7,662.9 1279.4,661.1 1280.1,663.5 1280.8,661.4 1281.5,663.9 1282.2,661.3 1282.9,663.0 1283.6,661.8 1284.3,663.9 1285.0,665.3 1285.7,665.0 1286.4,664.3 1287.1,663.6 1287.8,666.4 1288.5,664.1 1289.2,663.6 1289.9,666.2 1290.6,663.2 1291.3,664.2 1292.0,665.2 1292.7,665.0 1293.4,666.8 1294.1,668.5 1294.8,667.2 1295.5,664.9 1296.2,665.8 1296.9,667.0 1297.6,667.8 1298.3,666.4 1299.0,667.6 1299.7,665.9 1300.4,665.1 1301.1,666.3 1301.8,665.0 1302.5,666.5 1303.2,663.8 1303.9,664.9 1304.6,665.2 1305.3,666.2 1306.0,665.6 1306.7,663.9 1307.4,666.1 1308.1,664.3 1308.8,666.9 1309.5,664.6 1310.2,665.6 1310.9,666.0 1311.6,665.6 1312.3,666.6 1313.0,665.1 1313.7,665.4 1314.4,661.4 1315.1,666.3 1315.8,665.3 1316.5,665.0 1317.2,666.2 1317.9,666.4 1318.6,668.5 1319.3,665.1 1320.0,665.7 1320.7,666.4 1321.4,663.3 1322.1,662.8 1322.8,664.2 1323.5,662.6 1324.2,663.4 1324.9,663.6 1325.6,662.9 1326.3,665.8 1327.0,664.5 1327.7,662.7 1328.4,666.4 1329.1,665.1 1329.8,663.9 1330.5,663.8 1331.2,664.5 1331.9,664.3 1332.6,665.7 1333.3,664.0 1334.0,663.4 1334.7,666.1 1335.4,665.4 1336.1,663.8 1336.8,662.9 1337.5,664.4 1338.2,663.5 1338.9,663.7 1339.6,665.5 1340.3,661.9 1341.0,664.3 1341.7,665.2 1342.4,665.7 1343.1,667.4 1343.8,667.1 1344.5,663.1 1345.2,666.6 1345.9,666.4 1346.6,668.0 1347.3,666.7 1348.0,665.3 1348.7,666.4 1349.4,664.6 1350.1,668.1 1350.8,665.4 1351.5,665.9 1352.2,665.7 1352.9,665.4 1353.6,666.5 1354.3,664.7 1355.0,669.2 1355.7,666.8 1356.4,666.2 1357.1,666.7 1357.8,664.4 1358.5,664.5 1359.2,663.8 1359.9,664.2 1360.6,665.2 1361.3,665.3 1362.0,664.4 1362.7,668.0 1363.4,666.0 1364.1,664.4 1364.8,664.0 1365.5,664.9 1366.2,663.7 1366.9,663.6 1367.6,665.6 1368.3,666.5 1369.0,665.4 1369.7,666.0 1370.4,666.7 1371.1,663.3 1371.8,664.9 1372.5,663.0 1373.2,664.1 1373.9,666.0 1374.6,663.0 1375.3,665.9 1376.0,665.1 1376.7,666.4 1377.4,664.5 1378.1,662.9 1378.8,664.4 1379.5,664.8 1380.2,663.4 1380.9,662.8 1381.6,663.3 1382.3,664.9 1383.0,664.1 1383.7,661.0 1384.4,662.2 1385.1,661.5 1385.8,661.6 1386.5,662.9 1387.2,662.8 1387.9,665.0 1388.6,664.5 1389.3,663.7 1390.0,661.9 1390.7,662.7 1391.4,664.7 1392.1,665.9 1392.8,663.9 1393.5,664.6 1394.2,665.7 1394.9,663.3 1395.6,663.9 1396.3,665.5 1397.0,667.9 1397.7,666.3 1398.4,666.3 1399.1,664.9 1399.8,667.3 1400.5,666.2 1401.2,666.7 1401.9,663.7 1402.6,664.1 1403.3,663.5 1404.0,666.0 1404.7,663.6 1405.4,666.3 1406.1,665.8 1406.8,664.5 1407.5,665.4 1408.2,665.6 1408.9,665.4 1409.6,666.7 1410.3,666.3 1411.0,668.5 1411.7,671.4 1412.4,670.0 1413.1,669.9 1413.8,666.3 1414.5,670.4 1415.2,670.4 1415.9,668.1 1416.6,668.6 1417.3,666.3 1418.0,667.3 1418.7,667.2 1419.4,667.1 1420.1,667.2 1420.8,665.8 1421.5,667.4 1422.2,666.2 1422.9,666.3 1423.6,665.1 1424.3,665.6 1425.0,666.1 1425.7,670.2 1426.4,667.3 1427.1,666.7 1427.8,666.0 1428.5,667.1 1429.2,666.4 1429.9,666.4 1430.6,667.5 1431.3,668.7 1432.0,668.3 1432.7,666.5 1433.4,663.8 1434.1,665.9 1434.8,667.0 1435.5,666.7 1436.2,666.5 1436.9,666.0 1437.6,664.9 1438.3,666.7 1439.0,665.0 1439.7,667.4 1440.4,665.8 1441.1,665.4 1441.8,666.1 1442.5,664.6 1443.2,666.5 1443.9,665.1 1444.6,667.8 1445.3,667.4 1446.0,667.5 1446.7,665.6 1447.4,668.5 1448.1,665.8 1448.8,665.9 1449.5,666.0 1450.2,664.0 1450.9,666.7 1451.6,667.4 1452.3,666.7 1453.0,667.8 1453.7,667.0 1454.4,666.3 1455.1,666.3 1455.8,666.6 1456.5,666.0 1457.2,666.3 1457.9,667.2 1458.6,665.4 1459.3,665.7 1460.0,667.5 1460.7,665.3 1461.4,665.6 1462.1,666.0 1462.8,665.6 1463.5,666.8 1464.2,665.2 1464.9,663.8 1465.6,665.8 1466.3,665.0 1467.0,665.8 1467.7,667.5 1468.4,667.2 1469.1,667.1 1469.8,668.2 1470.5,667.1 1471.2,665.3 1471.9,667.8 1472.6,666.5 1473.3,668.5 1474.0,668.0 1474.7,666.8 1475.4,667.5 1476.1,666.8 1476.8,664.7 1477.5,665.9 1478.2,664.1 1478.9,665.6 1479.6,663.2 1480.3,664.1 1481.0,665.2 1481.7,663.1 1482.4,665.5 1483.1,667.6 1483.8,667.3 1484.5,664.7 1485.2,665.9 1485.9,665.7 1486.6,666.4 1487.3,668.6 1488.0,665.8 1488.7,669.1 1489.4,669.1 1490.1,669.2 1490.8,667.3 1491.5,665.4 1492.2,669.6 1492.9,666.9 1493.6,669.0 1494.3,670.3 1495.0,669.1 1495.7,669.4 1496.4,668.0 1497.1,669.7 1497.8,667.3 1498.5,668.3 1499.2,668.8 1499.9,665.1 1500.6,666.0 1501.3,664.0 1502.0,666.5 1502.7,663.9 1503.4,663.5 1504.1,666.0 1504.8,664.7 1505.5,666.0 1506.2,664.9 1506.9,665.7 1507.6,667.8 1508.3,668.2 1509.0,665.2 1509.7,665.4 1510.4,667.2 1511.1,667.9 1511.8,666.6 1512.5,665.0 1513.2,665.3 1513.9,666.8 1514.6,666.0 1515.3,668.3 1516.0,665.8 1516.7,667.5 1517.4,668.3 1518.1,668.9 1518.8,668.5 1519.5,667.9 1520.2,667.2 1520.9,667.0 1521.6,667.1 1522.3,666.7 1523.0,665.2 1523.7,663.7 1524.4,667.1 1525.1,667.4 1525.8,666.4 1526.5,664.1 1527.2,666.7 1527.9,665.9 1528.6,663.1 1529.3,667.9 1530.0,665.8 1530.7,667.4 1531.4,667.1 1532.1,669.0 1532.8,667.4 1533.5,669.2 1534.2,670.1 1534.9,665.3 1535.6,667.5 1536.3,667.1 1537.0,667.3 1537.7,666.2 1538.4,665.3 1539.1,667.2 1539.8,667.6 1540.5,667.3 1541.2,667.3 1541.9,665.7 1542.6,665.7 1543.3,662.9 1544.0,665.3 1544.7,664.1 1545.4,664.8 1546.1,667.8 1546.8,667.0 1547.5,667.7 1548.2,670.4 1548.9,667.1 1549.6,666.6 1550.3,667.0 1551.0,667.0 1551.7,668.0 1552.4,667.0 1553.1,666.7 1553.8,667.6 1554.5,667.6 1555.2,669.2 1555.9,666.0 1556.6,666.0 1557.3,666.2 1558.0,666.8 1558.7,666.2 1559.4,667.1 1560.1,665.1 1560.8,668.1 1561.5,668.8 1562.2,668.1 1562.9,667.7 1563.6,666.9 1564.3,667.0 1565.0,668.1 1565.7,666.9 1566.4,668.0 1567.1,665.5 1567.8,669.3 1568.5,666.3 1569.2,666.5 1569.9,665.7 1570.6,665.6 1571.3,668.4 1572.0,666.9 1572.7,665.7 1573.4,667.7 1574.1,665.8 1574.8,668.6 1575.5,665.6 1576.2,665.5 1576.9,663.4 1577.6,665.7 1578.3,665.8 1579.0,666.6 1579.7,666.7 1580.4,665.0 1581.1,664.6 1581.8,666.3 1582.5,666.6 1583.2,668.0 1583.9,672.3 1584.6,670.8 1585.3,667.7 1586.0,666.5 1586.7,669.1 1587.4,668.5 1588.1,669.0 1588.8,667.8 1589.5,666.1 1590.2,667.2 1590.9,667.7 1591.6,667.6 1592.3,669.0 1593.0,668.0 1593.7,666.2 1594.4,666.6 1595.1,667.8 1595.8,667.3 1596.5,667.6 1597.2,668.6 1597.9,669.3 1598.6,667.9 1599.3,668.4 1600.0,666.5 1600.7,666.6 1601.4,666.9 1602.1,668.1 1602.8,665.7 1603.5,666.6 1604.2,665.7 1604.9,665.0 1605.6,661.9 1606.3,666.9 1607.0,665.2 1607.7,663.7 1608.4,665.7 1609.1,665.6 1609.8,666.3 1610.5,665.3 1611.2,665.8 1611.9,666.4 1612.6,665.2 1613.3,665.3 1614.0,667.0 1614.7,665.9 1615.4,668.2 1616.1,667.8 1616.8,667.9 1617.5,667.2 1618.2,668.4 1618.9,665.5 1619.6,665.8 1620.3,668.6 1621.0,666.0 1621.7,667.8 1622.4,667.7 1623.1,665.9 1623.8,664.5 1624.5,664.4 1625.2,666.0 1625.9,665.0 1626.6,663.5 1627.3,665.9 1628.0,664.2 1628.7,665.1 1629.4,663.2 1630.1,661.9 1630.8,666.0 1631.5,664.0 1632.2,667.0 1632.9,664.6 1633.6,666.8 1634.3,666.0 1635.0,662.7 1635.7,663.9 1636.4,662.5 1637.1,664.5 1637.8,664.8 1638.5,663.9 1639.2,663.9 1639.9,665.7 1640.6,666.3 1641.3,666.5 1642.0,665.1 1642.7,665.0 1643.4,663.4 1644.1,662.8 1644.8,663.4 1645.5,664.0 1646.2,662.7 1646.9,663.4 1647.6,664.0 1648.3,666.8 1649.0,665.1 1649.7,664.8 1650.4,668.0 1651.1,664.6 1651.8,665.2 1652.5,663.3 1653.2,664.7 1653.9,662.9 1654.6,666.1 1655.3,666.0 1656.0,663.2 1656.7,663.9 1657.4,665.0 1658.1,665.6 1658.8,668.8 1659.5,667.4 1660.2,666.4 1660.9,666.2 1661.6,667.0 1662.3,668.1 1663.0,669.4 1663.7,665.6 1664.4,667.5 1665.1,665.7 1665.8,667.3 1666.5,666.1 1667.2,664.5 1667.9,665.7 1668.6,665.7 1669.3,667.7 1670.0,665.2 1670.7,666.4 1671.4,666.8 1672.1,668.2 1672.8,667.9 1673.5,666.2 1674.2,665.2 1674.9,664.4 1675.6,664.4 1676.3,663.8 1677.0,664.2 1677.7,666.0 1678.4,666.6 1679.1,663.7 1679.8,663.6 1680.5,664.4 1681.2,666.5 1681.9,664.6 1682.6,665.1 1683.3,664.3 1684.0,666.4 1684.7,665.7 1685.4,664.4 1686.1,663.8 1686.8,663.9 1687.5,661.8 1688.2,664.8 1688.9,666.9 1689.6,666.9 1690.3,667.0 1691.0,664.6 1691.7,667.5 1692.4,664.2 1693.1,665.0 1693.8,665.3 1694.5,666.2 1695.2,664.9 1695.9,665.4 1696.6,666.1 1697.3,666.4 1698.0,664.6 1698.7,664.1 1699.4,662.6 1700.1,666.5 1700.8,664.0 1701.5,664.8 1702.2,662.1 1702.9,664.8 1703.6,665.0 1704.3,665.1 1705.0,664.0 1705.7,665.2 1706.4,664.3 1707.1,665.7 1707.8,664.7 1708.5,667.9 1709.2,664.5 1709.9,665.4 1710.6,665.1 1711.3,664.3 1712.0,664.2 1712.7,664.3 1713.4,667.5 1714.1,665.7 1714.8,663.3 1715.5,665.8 1716.2,665.4 1716.9,665.4 1717.6,666.2 1718.3,663.3 1719.0,667.2 1719.7,665.7 1720.4,669.1 1721.1,668.2 1721.8,665.9 1722.5,666.3 1723.2,665.3 1723.9,667.4 1724.6,664.8 1725.3,666.6 1726.0,667.6 1726.7,668.0 1727.4,669.9 1728.1,666.0 1728.8,666.4 1729.5,666.2 1730.2,666.3 1730.9,666.0 1731.6,665.1 1732.3,662.6 1733.0,664.2 1733.7,666.5 1734.4,664.0 1735.1,664.8 1735.8,666.0 1736.5,665.7 1737.2,665.3 1737.9,665.1 1738.6,662.5 1739.3,664.6 1740.0,663.4 1740.7,663.4 1741.4,664.2 1742.1,666.0 1742.8,663.9 1743.5,661.4 1744.2,664.9 1744.9,665.6 1745.6,666.8 1746.3,662.6 1747.0,664.6 1747.7,664.3 1748.4,667.5 1749.1,664.4 1749.8,666.2 1750.5,668.3 1751.2,667.0 1751.9,665.4 1752.6,668.9 1753.3,664.3 1754.0,666.7 1754.7,667.2 1755.4,667.8 1756.1,668.8 1756.8,665.5 1757.5,666.2 1758.2,664.9 1758.9,666.5 1759.6,663.3 1760.3,665.2 1761.0,665.8 1761.7,664.6 1762.4,664.1 1763.1,663.9 1763.8,664.3 1764.5,663.1 1765.2,664.1 1765.9,665.0 1766.6,667.5 1767.3,664.7 1768.0,666.3 1768.7,665.5 1769.4,664.6 1770.1,667.7 1770.8,663.7 1771.5,665.2 1772.2,665.8 1772.9,665.7 1773.6,666.3 1774.3,666.8 1775.0,668.0 1775.7,667.2 1776.4,665.4 1777.1,665.9 1777.8,667.9 1778.5,666.1 1779.2,667.2 1779.9,668.0 1780.6,666.6 1781.3,666.4 1782.0,666.7 1782.7,665.7 1783.4,665.7 1784.1,667.4 1784.8,667.1 1785.5,667.8 1786.2,665.5 1786.9,666.1 1787.6,666.8 1788.3,665.6 1789.0,662.4 1789.7,666.5 1790.4,665.3 1791.1,666.8 1791.8,665.1 1792.5,664.4 1793.2,661.2 1793.9,663.1 1794.6,663.6 1795.3,663.3 1796.0,666.2 1796.7,664.0 1797.4,664.2 1798.1,663.6 1798.8,665.8 1799.5,665.4 1800.2,668.1 1800.9,669.6 1801.6,667.9 1802.3,668.6 1803.0,669.6 1803.7,669.4 1804.4,669.3 1805.1,671.9 1805.8,672.8 1806.5,671.1 1807.2,673.3 1807.9,671.8 1808.6,674.8 1809.3,672.3 1810.0,675.5 1810.7,675.5 1811.4,670.4 1812.1,672.7 1812.8,672.6 1813.5,672.7 1814.2,671.9 1814.9,675.6 1815.6,673.8 1816.3,673.4 1817.0,672.4 1817.7,674.1 1818.4,674.3 1819.1,671.5 1819.8,674.4 1820.5,675.1 1821.2,674.3 1821.9,671.3 1822.6,673.3 1823.3,670.2 1824.0,671.1 1824.7,671.0 1825.4,669.6 1826.1,672.6 1826.8,671.8 1827.5,672.0 1828.2,670.4 1828.9,672.9 1829.6,671.0 1830.3,671.5 1831.0,670.5 1831.7,671.6 1832.4,671.4 1833.1,672.4 1833.8,670.2 1834.5,670.7 1835.2,674.5 1835.9,672.8 1836.6,671.3 1837.3,674.6 1838.0,673.5 1838.7,674.2 1839.4,673.2 1840.1,672.6 1840.8,669.9 1841.5,671.4 1842.2,671.6 1842.9,670.0 1843.6,669.1 1844.3,670.6 1845.0,673.0 1845.7,672.8 1846.4,673.4 1847.1,673.0 1847.8,673.0 1848.5,673.6 1849.2,671.0 1849.9,672.0 1850.6,670.7 1851.3,668.9 1852.0,669.4 1852.7,671.3 1853.4,670.3 1854.1,670.4 1854.8,669.4 1855.5,673.1 1856.2,672.5 1856.9,671.6 1857.6,671.4 1858.3,673.4 1859.0,671.5 1859.7,674.7 1860.4,671.9 1861.1,671.6 1861.8,671.9 1862.5,671.2 1863.2,672.7 1863.9,671.8 1864.6,671.3 1865.3,669.8 1866.0,669.6 1866.7,669.3 1867.4,670.4 1868.1,671.8 1868.8,672.2 1869.5,669.9 1870.2,671.1 1870.9,669.9 1871.6,671.5 1872.3,670.0 1873.0,668.3 1873.7,669.4 1874.4,666.1 1875.1,668.8 1875.8,666.1 1876.5,668.7 1877.2,667.3 1877.9,667.5 1878.6,669.4 1879.3,669.0 1880.0,667.0 1880.7,665.2 1881.4,669.1 1882.1,667.5 1882.8,667.4 1883.5,665.2 1884.2,665.2 1884.9,667.0 1885.6,666.8 1886.3,666.8 1887.0,667.0 1887.7,664.5 1888.4,665.2 1889.1,668.0 1889.8,669.8 1890.5,670.0 1891.2,669.6"/>
</g>
<rect x="1010.5" y="520.5" width="886" height="236" fill="none" stroke="#a3a3a3" stroke-width="1"/>
<g stroke="#000" stroke-width="0.45">
<text x="1671.20" y="495.80" font-size="20.5" textLength="220.21" lengthAdjust="spacingAndGlyphs" fill="#000">CPU Package Power [W]</text>
</g>
<text x="989.27" y="494.90" font-size="20" textLength="12.16" lengthAdjust="spacingAndGlyphs" fill="#000">↓</text>
<text x="1004.49" y="495.80" font-size="18.5" textLength="42.96" lengthAdjust="spacingAndGlyphs" fill="#ff0000">16,96</text>
<text x="1053.35" y="495.80" font-size="18.5" textLength="42.51" lengthAdjust="spacingAndGlyphs" fill="#008000">23,02</text>
<text x="1118.55" y="495.80" font-size="18.5" textLength="14.58" lengthAdjust="spacingAndGlyphs" fill="#000">Ø</text>
<text x="1137.92" y="495.80" font-size="18.5" textLength="42.13" lengthAdjust="spacingAndGlyphs" fill="#ff0000">18,72</text>
<text x="1185.85" y="495.80" font-size="18.5" textLength="42.36" lengthAdjust="spacingAndGlyphs" fill="#008000">24,45</text>
<text x="1249.59" y="494.90" font-size="20" textLength="12.48" lengthAdjust="spacingAndGlyphs" fill="#000">↑</text>
<text x="1265.61" y="495.80" font-size="18.5" textLength="42.23" lengthAdjust="spacingAndGlyphs" fill="#ff0000">31,88</text>
<text x="1313.96" y="495.80" font-size="18.5" textLength="42.18" lengthAdjust="spacingAndGlyphs" fill="#008000">35,93</text>
</g>
<g id="p5">
<rect x="66" y="894" width="868" height="237" fill="url(#bg)"/>
<rect x="67.5" y="895.5" width="865" height="234" fill="none" stroke="#ffffff" stroke-opacity="0.55" stroke-width="1"/>
<line x1="67" y1="1124.00" x2="933" y2="1124.00" stroke="#ffffff" stroke-opacity="0.45" stroke-width="1"/>
<line x1="67" y1="1125.00" x2="933" y2="1125.00" stroke="#2e2e2e" stroke-width="1"/>
<line x1="62" y1="1125.00" x2="66" y2="1125.00" stroke="#111" stroke-width="1"/>
<text x="21.99" y="1132.90" font-size="18.5" textLength="39.10" lengthAdjust="spacingAndGlyphs" fill="#000">1900</text>
<line x1="67" y1="1093.80" x2="933" y2="1093.80" stroke="#ffffff" stroke-opacity="0.45" stroke-width="1"/>
<line x1="67" y1="1094.80" x2="933" y2="1094.80" stroke="#2e2e2e" stroke-width="1"/>
<line x1="62" y1="1094.80" x2="66" y2="1094.80" stroke="#111" stroke-width="1"/>
<text x="21.99" y="1102.70" font-size="18.5" textLength="39.10" lengthAdjust="spacingAndGlyphs" fill="#000">1920</text>
<line x1="67" y1="1063.60" x2="933" y2="1063.60" stroke="#ffffff" stroke-opacity="0.45" stroke-width="1"/>
<line x1="67" y1="1064.60" x2="933" y2="1064.60" stroke="#2e2e2e" stroke-width="1"/>
<line x1="62" y1="1064.60" x2="66" y2="1064.60" stroke="#111" stroke-width="1"/>
<text x="21.99" y="1072.50" font-size="18.5" textLength="39.10" lengthAdjust="spacingAndGlyphs" fill="#000">1940</text>
<line x1="67" y1="1033.40" x2="933" y2="1033.40" stroke="#ffffff" stroke-opacity="0.45" stroke-width="1"/>
<line x1="67" y1="1034.40" x2="933" y2="1034.40" stroke="#2e2e2e" stroke-width="1"/>
<line x1="62" y1="1034.40" x2="66" y2="1034.40" stroke="#111" stroke-width="1"/>
<text x="21.99" y="1042.30" font-size="18.5" textLength="39.10" lengthAdjust="spacingAndGlyphs" fill="#000">1960</text>
<line x1="67" y1="1003.40" x2="933" y2="1003.40" stroke="#ffffff" stroke-opacity="0.45" stroke-width="1"/>
<line x1="67" y1="1004.40" x2="933" y2="1004.40" stroke="#2e2e2e" stroke-width="1"/>
<line x1="62" y1="1004.40" x2="66" y2="1004.40" stroke="#111" stroke-width="1"/>
<text x="21.99" y="1012.30" font-size="18.5" textLength="39.10" lengthAdjust="spacingAndGlyphs" fill="#000">1980</text>
<line x1="67" y1="973.30" x2="933" y2="973.30" stroke="#ffffff" stroke-opacity="0.45" stroke-width="1"/>
<line x1="67" y1="974.30" x2="933" y2="974.30" stroke="#2e2e2e" stroke-width="1"/>
<line x1="62" y1="974.30" x2="66" y2="974.30" stroke="#111" stroke-width="1"/>
<text x="21.99" y="982.20" font-size="18.5" textLength="39.10" lengthAdjust="spacingAndGlyphs" fill="#000">2000</text>
<line x1="67" y1="943.30" x2="933" y2="943.30" stroke="#ffffff" stroke-opacity="0.45" stroke-width="1"/>
<line x1="67" y1="944.30" x2="933" y2="944.30" stroke="#2e2e2e" stroke-width="1"/>
<line x1="62" y1="944.30" x2="66" y2="944.30" stroke="#111" stroke-width="1"/>
<text x="21.99" y="952.20" font-size="18.5" textLength="39.10" lengthAdjust="spacingAndGlyphs" fill="#000">2020</text>
<line x1="67" y1="913.80" x2="933" y2="913.80" stroke="#ffffff" stroke-opacity="0.45" stroke-width="1"/>
<line x1="67" y1="914.80" x2="933" y2="914.80" stroke="#2e2e2e" stroke-width="1"/>
<line x1="62" y1="914.80" x2="66" y2="914.80" stroke="#111" stroke-width="1"/>
<text x="21.99" y="922.70" font-size="18.5" textLength="39.10" lengthAdjust="spacingAndGlyphs" fill="#000">2040</text>
<line x1="70.70" y1="1131" x2="70.70" y2="1135.8" stroke="#111" stroke-width="1"/>
<text x="48.71" y="1155.50" font-size="18.5" textLength="43.98" lengthAdjust="spacingAndGlyphs" fill="#000">00:00</text>
<line x1="140.37" y1="1131" x2="140.37" y2="1135.8" stroke="#111" stroke-width="1"/>
<text x="118.40" y="1155.50" font-size="18.5" textLength="43.98" lengthAdjust="spacingAndGlyphs" fill="#000">00:05</text>
<line x1="210.03" y1="1131" x2="210.03" y2="1135.8" stroke="#111" stroke-width="1"/>
<text x="188.04" y="1155.50" font-size="18.5" textLength="43.98" lengthAdjust="spacingAndGlyphs" fill="#000">00:10</text>
<line x1="279.70" y1="1131" x2="279.70" y2="1135.8" stroke="#111" stroke-width="1"/>
<text x="257.74" y="1155.50" font-size="18.5" textLength="43.98" lengthAdjust="spacingAndGlyphs" fill="#000">00:15</text>
<line x1="349.37" y1="1131" x2="349.37" y2="1135.8" stroke="#111" stroke-width="1"/>
<text x="327.38" y="1155.50" font-size="18.5" textLength="43.98" lengthAdjust="spacingAndGlyphs" fill="#000">00:20</text>
<line x1="419.03" y1="1131" x2="419.03" y2="1135.8" stroke="#111" stroke-width="1"/>
<text x="397.07" y="1155.50" font-size="18.5" textLength="43.98" lengthAdjust="spacingAndGlyphs" fill="#000">00:25</text>
<line x1="488.70" y1="1131" x2="488.70" y2="1135.8" stroke="#111" stroke-width="1"/>
<text x="466.71" y="1155.50" font-size="18.5" textLength="43.98" lengthAdjust="spacingAndGlyphs" fill="#000">00:30</text>
<line x1="558.37" y1="1131" x2="558.37" y2="1135.8" stroke="#111" stroke-width="1"/>
<text x="536.40" y="1155.50" font-size="18.5" textLength="43.98" lengthAdjust="spacingAndGlyphs" fill="#000">00:35</text>
<line x1="628.03" y1="1131" x2="628.03" y2="1135.8" stroke="#111" stroke-width="1"/>
<text x="606.04" y="1155.50" font-size="18.5" textLength="43.98" lengthAdjust="spacingAndGlyphs" fill="#000">00:40</text>
<line x1="697.70" y1="1131" x2="697.70" y2="1135.8" stroke="#111" stroke-width="1"/>
<text x="675.74" y="1155.50" font-size="18.5" textLength="43.98" lengthAdjust="spacingAndGlyphs" fill="#000">00:45</text>
<line x1="767.37" y1="1131" x2="767.37" y2="1135.8" stroke="#111" stroke-width="1"/>
<text x="745.38" y="1155.50" font-size="18.5" textLength="43.98" lengthAdjust="spacingAndGlyphs" fill="#000">00:50</text>
<line x1="837.03" y1="1131" x2="837.03" y2="1135.8" stroke="#111" stroke-width="1"/>
<text x="815.07" y="1155.50" font-size="18.5" textLength="43.98" lengthAdjust="spacingAndGlyphs" fill="#000">00:55</text>
<line x1="906.70" y1="1131" x2="906.70" y2="1135.8" stroke="#111" stroke-width="1"/>
<text x="884.71" y="1155.50" font-size="18.5" textLength="43.98" lengthAdjust="spacingAndGlyphs" fill="#000">01:00</text>
<text x="480.93" y="1178.80" font-size="18.5" font-style="italic" textLength="38.23" lengthAdjust="spacingAndGlyphs" fill="#000">Time</text>
<clipPath id="c4"><rect x="67" y="895" width="866" height="235"/></clipPath>
<g clip-path="url(#c4)" fill="none" stroke-width="2" stroke-linejoin="round" stroke-linecap="round">
<polyline stroke="#ff0000" points="71.2,899.2 929.7,899.2"/>
<polyline stroke="#008000" points="70.7,973.6 71.4,1049.8 72.3,973.6 73.2,1049.8 73.9,1124.9 74.6,1049.8 75.2,973.6 75.8,973.6 76.5,899.5 77.2,973.6 77.3,1049.8 78.0,973.6 78.9,1049.8 79.6,973.6 80.4,1049.8 81.1,1124.9 81.8,1049.8 82.2,973.6 82.9,899.5 83.6,973.6 83.9,973.6 84.9,1049.8 85.8,1049.8 86.5,1124.9 87.2,1049.8 87.8,973.6 88.5,1049.8 89.2,973.6 90.2,1049.8 90.9,1124.9 91.6,1049.8 91.8,973.6 92.5,899.5 93.2,973.6 94.1,973.6 95.0,1049.8 96.1,973.6 97.0,1049.8 97.7,973.6 98.7,1049.8 99.5,973.6 100.5,1049.8 101.3,973.6 102.1,1049.8 102.9,973.6 103.7,1049.8 104.4,973.6 105.1,899.5 105.8,973.6 106.1,973.6 107.0,1049.8 108.1,1049.8 108.8,1124.9 109.5,1049.8 110.1,973.6 110.9,1049.8 111.8,973.6 112.5,1049.8 113.4,973.6 114.2,1049.8 114.9,1049.8 115.6,1124.9 116.3,1049.8 116.9,973.6 117.7,1049.8 118.4,973.6 119.2,1049.8 120.1,1049.8 120.8,1124.9 121.5,1049.8 122.1,973.6 122.8,1049.8 123.6,973.6 124.3,1049.8 125.0,973.6 125.7,1049.8 126.4,1124.9 127.1,1049.8 127.7,973.6 128.3,1049.8 129.2,973.6 130.2,1049.8 131.0,1049.8 131.7,1124.9 132.4,1049.8 133.0,973.6 134.0,1049.8 134.7,973.6 135.3,1049.8 136.3,973.6 137.3,1049.8 138.2,1049.8 138.3,973.6 139.0,899.5 139.7,973.6 140.2,973.6 140.9,1049.8 141.9,973.6 142.9,1049.8 143.6,1124.9 144.3,1049.8 144.9,973.6 145.6,1049.8 146.6,973.6 147.4,1049.8 148.3,973.6 149.0,1049.8 150.0,1049.8 150.7,1124.9 151.4,1049.8 152.0,973.6 152.9,1049.8 153.6,973.6 154.5,1049.8 155.4,973.6 156.2,1049.8 156.9,1124.9 157.6,1049.8 158.2,973.6 159.1,1049.8 159.9,973.6 160.6,1049.8 161.3,973.6 162.2,1049.8 162.9,1124.9 163.6,1049.8 164.2,973.6 164.9,1049.8 165.6,973.6 166.4,1049.8 167.3,1049.8 168.0,1124.9 168.7,1049.8 169.3,973.6 169.9,1049.8 170.7,973.6 171.5,1049.8 172.1,973.6 172.7,1049.8 173.8,1049.8 174.5,1124.9 175.2,1049.8 175.8,973.6 176.5,1049.8 177.2,973.6 178.1,1049.8 178.7,1049.8 179.4,1124.9 180.1,1049.8 180.7,973.6 181.5,1049.8 182.5,973.6 183.1,1049.8 183.8,973.6 184.6,1049.8 185.3,1124.9 186.0,1049.8 186.6,973.6 187.5,1049.8 188.3,973.6 188.3,973.6 189.0,899.5 189.7,973.6 189.9,973.6 190.5,1049.8 191.4,973.6 192.4,1049.8 193.1,1124.9 193.8,1049.8 194.4,973.6 195.1,1049.8 196.0,973.6 197.0,1049.8 197.7,973.6 198.5,1049.8 199.3,973.6 200.0,1049.8 200.7,973.6 201.4,1049.8 202.2,973.6 202.8,1049.8 203.6,973.6 204.2,1049.8 205.2,973.6 206.0,1049.8 206.6,973.6 207.6,1049.8 208.3,1049.8 209.0,1124.9 209.7,1049.8 210.3,973.6 211.1,1049.8 211.9,973.6 212.6,1049.8 213.4,1049.8 214.1,1049.8 214.8,1124.9 215.5,1049.8 216.1,973.6 216.7,1049.8 217.7,973.6 218.4,1049.8 219.1,973.6 219.9,1049.8 220.5,973.6 221.2,1049.8 221.9,1124.9 222.6,1049.8 223.2,973.6 224.0,1049.8 225.0,973.6 226.0,1049.8 226.6,1049.8 227.3,1124.9 228.0,1049.8 228.6,973.6 229.3,1049.8 230.2,973.6 231.0,1049.8 232.0,973.6 232.8,1049.8 233.5,1124.9 234.2,1049.8 234.8,973.6 235.4,1049.8 236.2,973.6 237.1,1049.8 237.8,1049.8 238.5,1124.9 239.2,1049.8 239.8,973.6 240.6,1049.8 241.3,973.6 242.3,1049.8 243.0,973.6 243.9,1049.8 244.8,973.6 245.8,1049.8 246.7,973.6 247.7,1049.8 248.5,973.6 249.3,1049.8 250.2,973.6 251.2,1049.8 252.2,973.6 252.9,1049.8 253.6,1124.9 254.3,1049.8 254.9,973.6 255.7,1049.8 256.7,973.6 257.5,1049.8 258.2,1124.9 258.9,1049.8 259.5,973.6 260.5,1049.8 261.3,973.6 261.9,1049.8 262.5,973.6 263.1,1049.8 263.8,1124.9 264.5,1049.8 265.1,973.6 265.8,1049.8 266.7,973.6 267.7,1049.8 268.8,973.6 269.7,1049.8 270.4,1124.9 271.1,1049.8 271.7,973.6 272.6,1049.8 273.6,973.6 274.5,1049.8 275.2,1049.8 275.9,1124.9 276.6,1049.8 277.2,973.6 277.9,1049.8 278.6,973.6 279.7,1049.8 280.5,973.6 281.2,1049.8 282.1,1049.8 282.8,1124.9 283.5,1049.8 284.1,973.6 284.7,1049.8 285.4,973.6 286.1,1049.8 286.8,973.6 287.8,1049.8 288.5,1124.9 289.2,1049.8 289.8,973.6 290.8,1049.8 291.8,973.6 291.9,973.6 292.6,899.5 293.3,973.6 293.6,1049.8 294.3,1124.9 295.0,1049.8 295.6,973.6 296.5,1049.8 297.2,973.6 298.0,1049.8 299.0,973.6 299.8,1049.8 300.5,1049.8 301.2,1124.9 301.9,1049.8 302.5,1049.8 303.3,1049.8 304.0,973.6 304.9,1049.8 305.5,973.6 306.5,1049.8 307.2,1124.9 307.9,1049.8 308.5,973.6 309.1,1049.8 310.0,973.6 310.7,1049.8 311.7,1049.8 312.4,1124.9 313.1,1049.8 313.7,973.6 314.6,1049.8 315.5,973.6 316.2,1049.8 317.2,973.6 318.1,1049.8 318.8,1124.9 319.5,1049.8 320.1,973.6 321.1,1049.8 321.7,973.6 322.7,1049.8 323.3,973.6 324.3,1049.8 325.0,1124.9 325.7,1049.8 326.3,973.6 326.9,1049.8 327.8,973.6 328.8,1049.8 329.5,1049.8 330.2,1124.9 330.9,1049.8 331.5,973.6 332.4,1049.8 333.1,973.6 333.9,1049.8 334.5,973.6 335.3,1049.8 336.0,1124.9 336.7,1049.8 337.3,973.6 338.1,1049.8 338.8,973.6 339.4,1049.8 340.3,973.6 341.1,1049.8 342.1,1049.8 342.8,1124.9 343.5,1049.8 344.1,973.6 344.8,1049.8 345.8,973.6 346.8,1049.8 347.8,973.6 348.7,1049.8 349.4,1124.9 350.1,1049.8 350.7,973.6 351.7,1049.8 352.6,973.6 353.4,1049.8 354.2,973.6 354.8,1049.8 355.7,1049.8 356.4,1124.9 357.1,1049.8 357.7,973.6 358.4,1049.8 359.3,973.6 360.1,1049.8 361.0,973.6 361.9,1049.8 362.6,1124.9 363.3,1049.8 363.9,973.6 364.7,1049.8 365.6,973.6 366.5,1049.8 367.3,973.6 368.1,1049.8 369.1,1049.8 369.8,1124.9 370.5,1049.8 371.1,973.6 372.2,1049.8 372.9,973.6 373.8,1049.8 374.8,1049.8 375.5,1124.9 376.2,1049.8 376.8,973.6 377.6,1049.8 378.2,973.6 379.0,1049.8 379.8,973.6 380.8,1049.8 381.8,1049.8 382.5,1124.9 383.2,1049.8 383.8,1049.8 384.6,1049.8 385.3,1049.8 386.2,973.6 387.1,1049.8 387.8,973.6 388.5,1049.8 389.1,973.6 389.9,1049.8 390.6,1124.9 391.3,1049.8 391.9,973.6 392.9,1049.8 393.6,973.6 394.6,1049.8 395.4,1049.8 396.1,1124.9 396.8,1049.8 397.4,973.6 398.4,1049.8 399.0,973.6 399.7,1049.8 400.3,1049.8 401.0,1124.9 401.7,1049.8 402.3,973.6 403.1,1049.8 403.8,973.6 404.5,1049.8 405.1,1049.8 405.8,1124.9 406.5,1049.8 407.1,973.6 407.2,973.6 407.9,899.5 408.6,973.6 409.3,1049.8 410.3,973.6 411.2,1049.8 412.1,1049.8 412.8,1124.9 413.5,1049.8 414.1,973.6 415.0,1049.8 416.0,973.6 416.7,1049.8 417.3,973.6 418.2,1049.8 419.0,1049.8 419.7,1124.9 420.4,1049.8 421.0,973.6 422.0,1049.8 422.7,973.6 423.6,1049.8 424.4,973.6 425.2,1049.8 425.9,1124.9 426.6,1049.8 427.2,973.6 427.9,1049.8 428.7,973.6 429.6,1049.8 430.6,973.6 431.3,1049.8 432.3,973.6 432.9,1049.8 433.8,973.6 434.5,1049.8 435.5,973.6 436.5,1049.8 437.2,973.6 438.2,1049.8 438.9,973.6 439.6,1049.8 440.3,1124.9 441.0,1049.8 441.6,973.6 442.4,1049.8 443.0,973.6 444.0,1049.8 444.7,1124.9 445.4,1049.8 446.0,973.6 446.8,1049.8 447.7,973.6 448.4,1049.8 449.1,973.6 449.9,1049.8 450.5,1049.8 451.2,1124.9 451.9,1049.8 452.5,973.6 453.1,1049.8 453.8,973.6 454.7,1049.8 455.7,973.6 456.5,1049.8 457.3,973.6 458.0,1049.8 458.7,1124.9 459.4,1049.8 460.0,973.6 460.8,1049.8 461.5,973.6 462.2,1049.8 462.9,1124.9 463.6,1049.8 464.2,973.6 464.8,1049.8 465.5,973.6 466.5,1049.8 467.4,973.6 468.1,1049.8 469.0,973.6 469.8,1049.8 470.5,1124.9 471.2,1049.8 471.8,973.6 472.9,1049.8 473.8,973.6 474.7,1049.8 475.6,973.6 476.5,1049.8 477.2,1124.9 477.9,1049.8 478.5,973.6 479.4,1049.8 480.3,973.6 481.1,1049.8 481.7,973.6 482.7,1049.8 483.4,1124.9 484.1,1049.8 484.7,973.6 485.4,1049.8 486.2,973.6 487.0,1049.8 487.8,973.6 488.8,1049.8 489.5,1124.9 490.2,1049.8 490.8,973.6 491.6,1049.8 492.6,973.6 493.4,1049.8 494.2,973.6 495.2,1049.8 495.9,1124.9 496.6,1049.8 497.2,973.6 498.1,1049.8 499.1,973.6 499.9,1049.8 500.8,973.6 501.5,1049.8 502.2,1049.8 502.9,1124.9 503.6,1049.8 504.2,973.6 505.0,1049.8 506.0,973.6 506.6,1049.8 507.4,973.6 508.3,1049.8 509.0,1124.9 509.7,1049.8 510.3,973.6 511.3,1049.8 512.0,973.6 512.9,1049.8 513.7,973.6 514.6,1049.8 515.3,1124.9 516.0,1049.8 516.6,973.6 517.4,1049.8 518.3,973.6 519.3,1049.8 520.0,1124.9 520.7,1049.8 521.3,973.6 522.0,1049.8 522.7,973.6 523.6,1049.8 524.4,973.6 525.3,1049.8 526.0,1124.9 526.7,1049.8 527.3,973.6 528.1,1049.8 529.1,973.6 529.1,973.6 529.8,899.5 530.5,973.6 530.8,973.6 531.4,1049.8 532.4,1049.8 533.1,1124.9 533.8,1049.8 534.4,1049.8 535.2,973.6 536.3,1049.8 537.1,973.6 537.9,1049.8 538.6,973.6 539.5,1049.8 540.4,973.6 541.1,1049.8 541.8,973.6 542.5,1049.8 543.6,973.6 544.6,1049.8 545.4,973.6 546.0,1049.8 546.7,1124.9 547.4,1049.8 548.0,973.6 548.7,1049.8 549.6,973.6 550.4,1049.8 551.5,973.6 552.1,1049.8 553.1,1049.8 553.8,1124.9 554.5,1049.8 555.1,973.6 555.7,1049.8 556.5,973.6 557.3,1049.8 558.2,973.6 559.2,1049.8 560.1,1049.8 560.8,1124.9 561.5,1049.8 562.1,973.6 563.0,1049.8 563.7,973.6 564.5,1049.8 565.2,973.6 566.1,1049.8 566.8,1124.9 567.5,1049.8 568.1,973.6 568.9,1049.8 569.6,973.6 570.5,1049.8 571.2,1124.9 571.9,1049.8 572.5,973.6 573.1,1049.8 574.0,973.6 574.9,1049.8 575.6,1124.9 576.3,1049.8 576.9,973.6 577.8,1049.8 578.8,973.6 579.5,1049.8 580.4,973.6 581.3,1049.8 581.9,973.6 582.6,1049.8 583.3,1124.9 584.0,1049.8 584.6,973.6 585.4,1049.8 586.4,973.6 587.3,1049.8 588.2,1049.8 588.9,1124.9 589.6,1049.8 590.2,973.6 591.1,1049.8 591.9,973.6 592.6,1049.8 593.3,1124.9 594.0,1049.8 594.6,973.6 595.3,1049.8 596.1,973.6 596.9,1049.8 597.4,973.6 598.1,899.5 598.8,973.6 599.2,1049.8 599.9,1124.9 600.6,1049.8 601.2,973.6 602.2,1049.8 603.1,973.6 603.8,1049.8 604.8,1049.8 605.5,1124.9 606.2,1049.8 606.8,973.6 607.5,1049.8 608.2,973.6 609.0,1049.8 610.0,973.6 610.9,1049.8 611.6,1124.9 612.3,1049.8 612.9,973.6 613.8,1049.8 614.7,973.6 615.5,1049.8 616.2,1124.9 616.9,1049.8 617.5,973.6 618.3,1049.8 619.2,973.6 619.9,1049.8 620.6,1049.8 621.3,1124.9 622.0,1049.8 622.6,973.6 623.4,1049.8 624.0,973.6 625.0,1049.8 625.6,1049.8 626.4,1049.8 627.3,1049.8 628.2,1049.8 628.9,1124.9 629.6,1049.8 630.2,973.6 630.9,1049.8 631.7,973.6 632.7,1049.8 633.5,973.6 634.4,1049.8 635.3,973.6 636.2,1049.8 636.9,1124.9 637.6,1049.8 638.2,973.6 638.9,1049.8 639.9,973.6 640.6,1049.8 641.6,973.6 642.6,1049.8 643.5,1049.8 644.2,1124.9 644.9,1049.8 645.5,973.6 646.4,1049.8 647.4,973.6 648.1,1049.8 649.0,973.6 649.6,1049.8 650.5,973.6 651.4,1049.8 652.1,1124.9 652.8,1049.8 653.4,973.6 654.3,1049.8 655.1,973.6 655.8,1049.8 656.5,1049.8 657.2,1124.9 657.9,1049.8 658.5,1049.8 659.3,1049.8 659.9,973.6 660.6,1049.8 661.7,973.6 662.5,1049.8 663.4,1049.8 664.1,1124.9 664.8,1049.8 665.4,973.6 666.0,1049.8 666.9,973.6 667.6,1049.8 668.2,973.6 669.1,1049.8 669.8,1124.9 670.5,1049.8 671.1,973.6 671.7,1049.8 672.8,973.6 673.4,1049.8 674.0,973.6 674.8,1049.8 675.7,1049.8 676.4,1124.9 677.1,1049.8 677.7,973.6 678.7,1049.8 679.5,973.6 680.5,1049.8 681.1,973.6 682.2,1049.8 682.8,1049.8 683.5,1124.9 684.2,1049.8 684.8,973.6 685.7,1049.8 686.7,973.6 687.6,1049.8 688.3,1124.9 689.0,1049.8 689.6,973.6 690.6,1049.8 691.4,973.6 692.1,1049.8 692.7,1049.8 693.4,1124.9 694.1,1049.8 694.7,973.6 695.4,1049.8 696.1,973.6 696.8,1049.8 697.8,973.6 698.8,1049.8 699.8,973.6 700.7,1049.8 701.4,1124.9 702.1,1049.8 702.7,973.6 703.6,1049.8 704.3,973.6 705.3,1049.8 706.0,1124.9 706.7,1049.8 707.3,973.6 707.9,1049.8 708.9,973.6 709.6,1049.8 710.2,973.6 711.2,1049.8 712.0,973.6 712.8,1049.8 713.5,1124.9 714.2,1049.8 714.8,973.6 715.4,1049.8 716.2,973.6 717.1,1049.8 718.1,973.6 718.7,1049.8 719.7,1049.8 720.4,1124.9 721.1,1049.8 721.7,973.6 722.4,1049.8 723.2,973.6 723.8,1049.8 724.5,1049.8 725.2,1124.9 725.9,1049.8 726.5,973.6 727.3,1049.8 727.9,973.6 728.8,1049.8 729.4,973.6 730.3,1049.8 731.4,1049.8 732.1,1124.9 732.8,1049.8 733.4,1049.8 734.2,1049.8 734.9,973.6 735.7,1049.8 736.5,973.6 737.2,1049.8 737.9,1124.9 738.6,1049.8 739.2,973.6 740.1,1049.8 740.9,973.6 741.5,1049.8 742.2,973.6 743.2,1049.8 743.9,1124.9 744.6,1049.8 745.2,973.6 746.1,1049.8 747.0,973.6 747.9,1049.8 748.7,1049.8 749.4,1124.9 750.1,1049.8 750.7,973.6 751.4,1049.8 752.3,973.6 753.3,1049.8 754.0,973.6 754.6,1049.8 755.7,1049.8 756.4,1124.9 757.1,1049.8 757.7,973.6 758.6,1049.8 759.6,973.6 760.3,1049.8 761.2,973.6 761.8,1049.8 762.8,973.6 763.6,1049.8 764.3,1124.9 765.0,1049.8 765.6,973.6 766.4,1049.8 767.1,973.6 768.0,1049.8 769.0,973.6 769.8,1049.8 770.6,973.6 771.3,1049.8 772.0,973.6 772.7,1049.8 773.7,973.6 774.8,1049.8 775.5,973.6 776.2,1049.8 776.9,1124.9 777.6,1049.8 778.2,973.6 779.2,1049.8 780.0,973.6 780.6,1049.8 781.4,973.6 782.0,1049.8 782.7,1124.9 783.4,1049.8 784.0,973.6 784.7,1049.8 785.6,973.6 786.6,1049.8 787.3,1124.9 788.0,1049.8 788.6,973.6 789.4,1049.8 790.2,973.6 790.8,1049.8 791.5,973.6 792.3,1049.8 793.0,1124.9 793.7,1049.8 794.3,973.6 795.1,1049.8 795.9,973.6 796.5,1049.8 797.2,973.6 797.9,1049.8 798.6,1049.8 799.3,1124.9 800.0,1049.8 800.6,973.6 801.6,1049.8 802.2,973.6 803.0,1049.8 803.7,1124.9 804.4,1049.8 805.0,973.6 805.7,1049.8 806.6,973.6 807.6,1049.8 808.3,1124.9 809.0,1049.8 809.6,973.6 810.4,1049.8 811.2,973.6 812.0,1049.8 812.6,973.6 813.4,1049.8 814.3,973.6 815.1,1049.8 815.8,1124.9 816.3,973.6 817.0,899.5 817.7,973.6 817.9,1049.8 818.6,973.6 819.6,1049.8 820.5,973.6 821.2,1049.8 822.2,1049.8 822.9,1124.9 823.6,1049.8 824.2,973.6 825.1,1049.8 825.9,973.6 826.9,1049.8 827.8,973.6 828.6,1049.8 829.3,1124.9 830.0,1049.8 830.6,973.6 831.6,1049.8 832.5,973.6 833.4,1049.8 834.4,1049.8 835.1,1124.9 835.8,1049.8 836.4,973.6 837.2,1049.8 837.9,973.6 838.6,1049.8 839.3,973.6 840.3,1049.8 841.0,1124.9 841.7,1049.8 842.3,973.6 843.0,1049.8 843.7,973.6 844.5,1049.8 845.4,973.6 846.4,1049.8 847.1,1124.9 847.8,1049.8 848.4,973.6 849.1,1049.8 849.9,973.6 850.9,1049.8 851.7,973.6 852.6,1049.8 853.2,1049.8 853.9,1124.9 854.6,1049.8 855.2,973.6 856.1,1049.8 857.1,1049.8 858.1,1049.8 859.0,1049.8 859.7,1124.9 860.4,1049.8 861.0,973.6 862.0,1049.8 863.1,973.6 863.7,1049.8 864.5,1049.8 865.2,1124.9 865.9,1049.8 866.5,973.6 867.2,1049.8 867.9,973.6 868.9,1049.8 869.6,973.6 870.4,1049.8 871.1,1124.9 871.8,1049.8 872.4,973.6 873.2,1049.8 874.3,973.6 874.9,1049.8 875.6,1124.9 876.3,1049.8 876.9,973.6 877.9,1049.8 878.9,973.6 879.7,1049.8 880.4,1124.9 881.1,1049.8 881.7,973.6 882.4,1049.8 883.4,973.6 884.2,1049.8 885.0,1049.8 885.7,1124.9 886.4,1049.8 887.0,973.6 887.7,1049.8 888.5,973.6 889.4,1049.8 890.5,973.6 891.3,1049.8 892.2,1049.8 892.9,1124.9 893.6,1049.8 894.2,973.6 895.1,1049.8 895.7,973.6 896.4,1049.8 897.3,973.6 898.0,1049.8 898.9,973.6 899.5,1049.8 900.2,1124.9 900.9,1049.8 901.5,973.6 902.2,1049.8 903.1,973.6 904.0,1049.8 904.7,973.6 905.4,1049.8 906.3,973.6 907.0,1049.8 907.7,1124.9 908.4,1049.8 909.0,973.6 909.7,1049.8 910.3,973.6 911.3,1049.8 912.0,1124.9 912.7,1049.8 913.3,973.6 914.3,1049.8 915.2,973.6 916.3,1049.8 917.0,1124.9 917.7,1049.8 918.3,973.6 919.0,1049.8 919.6,973.6 920.5,1049.8 921.4,973.6 922.3,1049.8 923.0,1124.9 923.7,1049.8 924.3,973.6 924.9,1049.8 925.8,973.6 926.8,1049.8 927.8,973.6 928.5,1049.8 929.5,1049.8 930.2,1124.9 930.9,1049.8"/>
</g>
<rect x="66.5" y="894.5" width="867" height="236" fill="none" stroke="#a3a3a3" stroke-width="1"/>
<g stroke="#000" stroke-width="0.45">
<text x="501.89" y="869.80" font-size="20.5" textLength="427.57" lengthAdjust="spacingAndGlyphs" fill="#000">GPU Clock [MHz] @ GPU [#1]: Intel Arc A370M</text>
</g>
<text x="25.91" y="868.90" font-size="20" textLength="12.37" lengthAdjust="spacingAndGlyphs" fill="#000">↓</text>
<text x="42.13" y="869.80" font-size="18.5" textLength="38.55" lengthAdjust="spacingAndGlyphs" fill="#ff0000">2050</text>
<text x="86.99" y="869.80" font-size="18.5" textLength="38.39" lengthAdjust="spacingAndGlyphs" fill="#008000">1900</text>
<text x="147.65" y="869.80" font-size="18.5" textLength="14.47" lengthAdjust="spacingAndGlyphs" fill="#000">Ø</text>
<text x="166.62" y="869.80" font-size="18.5" textLength="39.07" lengthAdjust="spacingAndGlyphs" fill="#ff0000">2050</text>
<text x="211.72" y="869.80" font-size="18.5" textLength="37.40" lengthAdjust="spacingAndGlyphs" fill="#008000">1961</text>
<text x="270.91" y="868.90" font-size="20" textLength="12.37" lengthAdjust="spacingAndGlyphs" fill="#000">↑</text>
<text x="287.02" y="869.80" font-size="18.5" textLength="39.07" lengthAdjust="spacingAndGlyphs" fill="#ff0000">2050</text>
<text x="331.41" y="869.80" font-size="18.5" textLength="39.28" lengthAdjust="spacingAndGlyphs" fill="#008000">2050</text>
</g>
<g id="p6">
<rect x="1010" y="894" width="887" height="237" fill="url(#bg)"/>
<rect x="1011.5" y="895.5" width="884" height="234" fill="none" stroke="#ffffff" stroke-opacity="0.55" stroke-width="1"/>
<line x1="1011" y1="1124.15" x2="1896" y2="1124.15" stroke="#ffffff" stroke-opacity="0.45" stroke-width="1"/>
<line x1="1011" y1="1125.15" x2="1896" y2="1125.15" stroke="#2e2e2e" stroke-width="1"/>
<line x1="1006" y1="1125.15" x2="1010" y2="1125.15" stroke="#111" stroke-width="1"/>
<text x="985.54" y="1133.05" font-size="18.5" textLength="19.55" lengthAdjust="spacingAndGlyphs" fill="#000">70</text>
<line x1="1011" y1="1057.90" x2="1896" y2="1057.90" stroke="#ffffff" stroke-opacity="0.45" stroke-width="1"/>
<line x1="1011" y1="1058.90" x2="1896" y2="1058.90" stroke="#2e2e2e" stroke-width="1"/>
<line x1="1006" y1="1058.90" x2="1010" y2="1058.90" stroke="#111" stroke-width="1"/>
<text x="985.59" y="1066.80" font-size="18.5" textLength="19.55" lengthAdjust="spacingAndGlyphs" fill="#000">75</text>
<line x1="1011" y1="991.40" x2="1896" y2="991.40" stroke="#ffffff" stroke-opacity="0.45" stroke-width="1"/>
<line x1="1011" y1="992.40" x2="1896" y2="992.40" stroke="#2e2e2e" stroke-width="1"/>
<line x1="1006" y1="992.40" x2="1010" y2="992.40" stroke="#111" stroke-width="1"/>
<text x="985.54" y="1000.30" font-size="18.5" textLength="19.55" lengthAdjust="spacingAndGlyphs" fill="#000">80</text>
<line x1="1011" y1="925.25" x2="1896" y2="925.25" stroke="#ffffff" stroke-opacity="0.45" stroke-width="1"/>
<line x1="1011" y1="926.25" x2="1896" y2="926.25" stroke="#2e2e2e" stroke-width="1"/>
<line x1="1006" y1="926.25" x2="1010" y2="926.25" stroke="#111" stroke-width="1"/>
<text x="985.59" y="934.15" font-size="18.5" textLength="19.55" lengthAdjust="spacingAndGlyphs" fill="#000">85</text>
<line x1="1014.50" y1="1131" x2="1014.50" y2="1135.8" stroke="#111" stroke-width="1"/>
<text x="992.51" y="1155.50" font-size="18.5" textLength="43.98" lengthAdjust="spacingAndGlyphs" fill="#000">00:00</text>
<line x1="1085.65" y1="1131" x2="1085.65" y2="1135.8" stroke="#111" stroke-width="1"/>
<text x="1063.69" y="1155.50" font-size="18.5" textLength="43.98" lengthAdjust="spacingAndGlyphs" fill="#000">00:05</text>
<line x1="1156.80" y1="1131" x2="1156.80" y2="1135.8" stroke="#111" stroke-width="1"/>
<text x="1134.81" y="1155.50" font-size="18.5" textLength="43.98" lengthAdjust="spacingAndGlyphs" fill="#000">00:10</text>
<line x1="1227.95" y1="1131" x2="1227.95" y2="1135.8" stroke="#111" stroke-width="1"/>
<text x="1205.99" y="1155.50" font-size="18.5" textLength="43.98" lengthAdjust="spacingAndGlyphs" fill="#000">00:15</text>
<line x1="1299.10" y1="1131" x2="1299.10" y2="1135.8" stroke="#111" stroke-width="1"/>
<text x="1277.11" y="1155.50" font-size="18.5" textLength="43.98" lengthAdjust="spacingAndGlyphs" fill="#000">00:20</text>
<line x1="1370.25" y1="1131" x2="1370.25" y2="1135.8" stroke="#111" stroke-width="1"/>
<text x="1348.29" y="1155.50" font-size="18.5" textLength="43.98" lengthAdjust="spacingAndGlyphs" fill="#000">00:25</text>
<line x1="1441.40" y1="1131" x2="1441.40" y2="1135.8" stroke="#111" stroke-width="1"/>
<text x="1419.41" y="1155.50" font-size="18.5" textLength="43.98" lengthAdjust="spacingAndGlyphs" fill="#000">00:30</text>
<line x1="1512.55" y1="1131" x2="1512.55" y2="1135.8" stroke="#111" stroke-width="1"/>
<text x="1490.59" y="1155.50" font-size="18.5" textLength="43.98" lengthAdjust="spacingAndGlyphs" fill="#000">00:35</text>
<line x1="1583.70" y1="1131" x2="1583.70" y2="1135.8" stroke="#111" stroke-width="1"/>
<text x="1561.71" y="1155.50" font-size="18.5" textLength="43.98" lengthAdjust="spacingAndGlyphs" fill="#000">00:40</text>
<line x1="1654.85" y1="1131" x2="1654.85" y2="1135.8" stroke="#111" stroke-width="1"/>
<text x="1632.89" y="1155.50" font-size="18.5" textLength="43.98" lengthAdjust="spacingAndGlyphs" fill="#000">00:45</text>
<line x1="1726.00" y1="1131" x2="1726.00" y2="1135.8" stroke="#111" stroke-width="1"/>
<text x="1704.01" y="1155.50" font-size="18.5" textLength="43.98" lengthAdjust="spacingAndGlyphs" fill="#000">00:50</text>
<line x1="1797.15" y1="1131" x2="1797.15" y2="1135.8" stroke="#111" stroke-width="1"/>
<text x="1775.19" y="1155.50" font-size="18.5" textLength="43.98" lengthAdjust="spacingAndGlyphs" fill="#000">00:55</text>
<line x1="1868.30" y1="1131" x2="1868.30" y2="1135.8" stroke="#111" stroke-width="1"/>
<text x="1846.31" y="1155.50" font-size="18.5" textLength="43.98" lengthAdjust="spacingAndGlyphs" fill="#000">01:00</text>
<text x="1434.43" y="1178.80" font-size="18.5" font-style="italic" textLength="38.23" lengthAdjust="spacingAndGlyphs" fill="#000">Time</text>
<clipPath id="c5"><rect x="1011" y="895" width="885" height="235"/></clipPath>
<g clip-path="url(#c5)" fill="none" stroke-width="2" stroke-linejoin="round" stroke-linecap="round">
<polyline stroke="#ff0000" points="1013.9,1125.2 1015.5,1125.2 1015.5,1110.9 1022.6,1110.9 1022.6,1097.6 1043.7,1097.6 1043.7,1084.3 1046.3,1084.3 1047.3,1097.6 1048.3,1084.3 1050.5,1084.3 1051.5,1097.6 1052.0,1097.6 1056.5,1097.6 1056.5,1084.3 1056.9,1084.3 1057.9,1097.6 1058.9,1084.3 1059.3,1084.3 1060.3,1097.6 1061.3,1084.3 1062.8,1084.3 1063.8,1097.6 1064.2,1097.6 1065.2,1084.3 1065.9,1084.3 1066.9,1097.6 1067.9,1084.3 1068.9,1084.3 1069.9,1097.6 1070.9,1084.3 1071.4,1084.3 1072.4,1097.6 1073.4,1084.3 1074.7,1084.3 1075.7,1097.6 1076.1,1097.6 1077.1,1084.3 1078.2,1084.3 1079.2,1097.6 1079.5,1097.6 1080.5,1084.3 1081.3,1084.3 1082.3,1097.6 1082.3,1097.6 1082.7,1097.6 1229.2,1097.6 1230.0,1084.3 1230.8,1097.6 1324.9,1097.6 1324.9,1110.9 1327.3,1110.9 1327.3,1097.6 1340.2,1097.6 1340.2,1110.9 1341.3,1110.9 1342.3,1097.6 1342.7,1097.6 1343.7,1110.9 1344.2,1110.9 1345.2,1097.6 1346.2,1110.9 1346.5,1110.9 1347.5,1097.6 1348.5,1110.9 1349.3,1110.9 1350.3,1097.6 1351.3,1110.9 1351.7,1110.9 1351.7,1097.6 1355.4,1097.6 1355.4,1110.9 1359.0,1110.9 1359.0,1097.6 1377.6,1097.6 1377.6,1110.9 1378.4,1110.9 1379.4,1097.6 1380.4,1110.9 1381.1,1110.9 1382.1,1097.6 1382.5,1097.6 1383.5,1110.9 1384.2,1110.9 1385.2,1097.6 1385.7,1097.6 1386.7,1110.9 1388.2,1110.9 1389.2,1097.6 1390.2,1110.9 1391.1,1110.9 1392.1,1097.6 1392.5,1097.6 1393.5,1110.9 1393.8,1110.9 1394.8,1097.6 1395.2,1097.6 1396.2,1110.9 1397.1,1110.9 1398.1,1097.6 1398.4,1097.6 1399.4,1110.9 1399.7,1110.9 1400.7,1097.6 1401.0,1097.6 1402.0,1110.9 1402.4,1110.9 1403.4,1097.6 1404.4,1110.9 1405.6,1110.9 1406.6,1097.6 1406.9,1097.6 1407.9,1110.9 1408.0,1110.9 1408.0,1110.9 1505.0,1110.9 1505.0,1097.6 1506.5,1097.6 1507.5,1110.9 1507.9,1110.9 1508.9,1097.6 1510.4,1097.6 1511.4,1110.9 1511.7,1110.9 1512.7,1097.6 1514.1,1097.6 1515.1,1110.9 1515.7,1110.9 1516.7,1097.6 1519.6,1097.6 1520.6,1110.9 1521.5,1110.9 1522.5,1097.6 1524.4,1097.6 1525.4,1110.9 1526.5,1110.9 1527.5,1097.6 1529.2,1097.6 1530.2,1110.9 1531.1,1110.9 1532.1,1097.6 1534.0,1097.6 1534.0,1110.9 1548.4,1110.9 1548.4,1097.6 1549.5,1097.6 1550.5,1110.9 1550.8,1110.9 1551.8,1097.6 1552.8,1097.6 1553.8,1110.9 1554.1,1110.9 1555.1,1097.6 1555.7,1097.6 1556.7,1110.9 1557.7,1097.6 1558.5,1097.6 1559.5,1110.9 1560.5,1097.6 1560.8,1097.6 1561.8,1110.9 1562.8,1097.6 1563.8,1097.6 1564.8,1110.9 1564.8,1110.9 1871.9,1110.9 1871.9,1125.2 1873.1,1125.2 1874.1,1110.9 1874.4,1110.9 1875.4,1125.2 1876.4,1125.2 1877.4,1110.9 1878.4,1125.2 1879.2,1125.2 1880.2,1110.9 1880.6,1110.9 1881.6,1125.2 1882.3,1125.2 1883.3,1110.9 1884.3,1125.2 1885.5,1125.2 1886.5,1110.9 1887.5,1125.2 1888.0,1125.2 1888.3,1110.9 1889.0,1110.9 1891.8,1110.9"/>
<polyline stroke="#008000" points="1014.5,1057.8 1015.9,1057.8 1016.0,1057.8 1016.7,1071.1 1017.5,1057.8 1017.9,1044.6 1020.2,1044.6 1020.2,1031.3 1021.4,1031.3 1022.4,1044.6 1022.9,1044.6 1023.8,1018.0 1025.9,1018.0 1026.9,1031.3 1027.9,1018.0 1029.6,1018.0 1029.6,1004.8 1031.5,1004.8 1032.5,1018.0 1033.0,1018.0 1034.0,1004.8 1034.7,1004.8 1035.7,1018.0 1036.7,1004.8 1037.8,1004.8 1037.8,991.5 1040.0,991.5 1041.0,1004.8 1042.0,991.5 1043.6,991.5 1044.6,1004.8 1044.8,1004.8 1045.8,991.5 1046.0,991.5 1046.0,978.2 1048.9,978.2 1049.9,991.5 1050.3,991.5 1051.3,978.2 1054.3,978.2 1055.3,991.5 1056.3,978.2 1058.9,978.2 1059.9,991.5 1060.7,991.5 1061.7,978.2 1062.6,978.2 1063.6,991.5 1064.3,991.5 1064.8,965.0 1066.4,965.0 1067.4,978.2 1068.1,978.2 1069.1,965.0 1070.0,965.0 1071.0,978.2 1071.4,978.2 1072.4,965.0 1074.7,965.0 1075.7,978.2 1076.2,978.2 1077.2,965.0 1078.3,965.0 1079.3,978.2 1080.3,965.0 1081.2,965.0 1081.2,951.7 1082.4,951.7 1083.4,965.0 1084.0,965.0 1085.0,951.7 1085.6,951.7 1086.6,965.0 1087.0,965.0 1088.0,951.7 1089.8,951.7 1090.8,965.0 1091.3,965.0 1092.3,951.7 1092.7,951.7 1093.7,965.0 1094.7,951.7 1095.2,951.7 1096.2,965.0 1096.6,965.0 1097.6,951.7 1098.6,951.7 1099.6,965.0 1100.1,965.0 1101.1,951.7 1102.1,951.7 1103.1,965.0 1103.6,965.0 1104.6,951.7 1106.4,951.7 1107.4,965.0 1108.4,951.7 1109.7,951.7 1110.7,965.0 1111.3,965.0 1112.3,951.7 1113.5,951.7 1114.5,965.0 1115.5,951.7 1116.3,951.7 1117.3,965.0 1117.8,965.0 1118.8,951.7 1119.5,951.7 1120.5,965.0 1120.9,965.0 1121.9,951.7 1123.1,951.7 1124.1,965.0 1124.5,965.0 1125.5,951.7 1126.1,951.7 1126.9,951.7 1127.1,965.0 1127.4,965.0 1130.8,965.0 1131.6,951.7 1131.6,938.5 1131.6,965.0 1132.4,938.5 1133.2,938.5 1134.2,951.7 1135.2,938.5 1135.9,938.5 1136.9,951.7 1137.4,951.7 1137.8,951.7 1138.4,938.5 1138.6,965.0 1139.4,938.5 1139.5,938.5 1140.5,951.7 1141.5,938.5 1141.8,938.5 1142.8,951.7 1143.2,951.7 1144.2,938.5 1145.0,938.5 1146.0,951.7 1147.0,938.5 1147.7,938.5 1148.7,951.7 1149.0,951.7 1150.0,938.5 1151.3,938.5 1152.3,951.7 1153.3,938.5 1153.7,938.5 1154.7,951.7 1155.2,951.7 1156.2,938.5 1157.8,938.5 1158.8,951.7 1159.8,938.5 1160.9,938.5 1161.9,951.7 1162.2,951.7 1163.2,938.5 1164.1,938.5 1165.1,951.7 1165.4,951.7 1166.4,938.5 1168.1,938.5 1169.1,951.7 1169.4,951.7 1170.4,938.5 1171.2,938.5 1172.2,951.7 1172.9,951.7 1173.2,938.5 1173.7,925.2 1173.9,938.5 1174.5,938.5 1174.9,951.7 1175.9,938.5 1176.3,938.5 1177.3,951.7 1178.3,938.5 1179.8,938.5 1180.8,951.7 1181.1,951.7 1182.1,938.5 1183.5,938.5 1184.2,938.5 1184.5,951.7 1185.0,951.7 1185.0,925.2 1185.8,951.7 1186.0,938.5 1187.4,938.5 1188.4,951.7 1189.4,938.5 1191.0,938.5 1191.7,938.5 1192.0,951.7 1192.5,925.2 1193.0,938.5 1193.3,938.5 1194.4,938.5 1195.4,951.7 1195.8,951.7 1196.8,938.5 1198.0,938.5 1199.0,951.7 1200.0,938.5 1200.4,938.5 1201.4,951.7 1202.4,938.5 1203.6,938.5 1204.6,951.7 1205.0,925.2 1205.9,925.2 1206.9,938.5 1207.9,925.2 1208.0,925.2 1208.4,925.2 1208.8,951.7 1209.4,938.5 1209.5,938.5 1210.4,925.2 1211.6,925.2 1212.6,938.5 1213.6,925.2 1214.2,925.2 1214.4,925.2 1215.0,951.7 1215.4,938.5 1215.8,938.5 1216.4,925.2 1217.3,925.2 1218.3,938.5 1219.3,925.2 1220.2,925.2 1220.5,925.2 1221.2,938.5 1221.2,951.7 1221.6,938.5 1222.0,938.5 1222.6,925.2 1223.8,925.2 1224.8,938.5 1225.8,925.2 1226.5,925.2 1227.5,938.5 1228.5,925.2 1229.2,925.2 1229.2,925.2 1230.0,951.7 1230.2,938.5 1230.8,938.5 1231.2,925.2 1232.4,925.2 1233.4,938.5 1233.7,938.5 1234.7,925.2 1235.5,925.2 1236.5,938.5 1236.9,938.5 1237.9,925.2 1238.6,925.2 1239.6,938.5 1239.8,938.5 1240.8,925.2 1242.3,925.2 1243.3,938.5 1243.5,938.5 1244.5,925.2 1245.6,925.2 1246.6,938.5 1247.6,925.2 1249.1,925.2 1250.1,938.5 1250.4,938.5 1251.4,925.2 1252.1,925.2 1253.1,938.5 1254.1,925.2 1255.1,925.2 1256.1,938.5 1256.7,938.5 1257.1,925.2 1257.5,911.9 1258.0,925.2 1258.3,925.2 1258.6,925.2 1259.0,938.5 1259.4,951.7 1260.0,925.2 1260.2,925.2 1261.0,925.2 1262.0,938.5 1262.3,938.5 1263.3,925.2 1264.6,925.2 1265.6,938.5 1266.6,925.2 1267.4,925.2 1268.4,938.5 1269.4,925.2 1270.3,925.2 1271.3,938.5 1272.3,925.2 1272.6,925.2 1273.6,938.5 1274.6,925.2 1276.1,925.2 1277.1,938.5 1277.5,938.5 1278.5,925.2 1279.4,925.2 1280.4,938.5 1280.7,938.5 1281.7,925.2 1282.3,925.2 1283.3,938.5 1284.3,925.2 1285.2,925.2 1286.2,938.5 1286.5,938.5 1287.5,925.2 1287.8,925.2 1288.8,938.5 1289.8,925.2 1290.0,925.2 1290.0,938.5 1290.9,938.5 1291.9,951.7 1292.3,951.7 1293.3,938.5 1293.7,938.5 1294.7,951.7 1295.0,951.7 1296.0,938.5 1296.7,938.5 1297.2,938.5 1297.5,965.0 1298.2,951.7 1298.3,951.7 1298.8,925.2 1299.7,925.2 1300.7,938.5 1301.0,938.5 1302.0,925.2 1302.6,925.2 1303.6,938.5 1303.9,938.5 1304.9,925.2 1306.2,925.2 1307.2,938.5 1307.6,938.5 1308.0,938.5 1308.6,925.2 1308.8,911.9 1309.4,925.2 1309.5,925.2 1310.4,938.5 1311.4,925.2 1312.3,925.2 1313.3,938.5 1314.3,925.2 1315.3,925.2 1316.3,938.5 1317.3,925.2 1318.0,925.2 1319.0,938.5 1320.0,925.2 1321.3,925.2 1322.3,938.5 1322.7,938.5 1323.7,925.2 1324.5,925.2 1325.5,938.5 1326.5,925.2 1326.7,925.2 1327.5,911.9 1327.7,925.2 1328.3,925.2 1328.7,938.5 1329.7,925.2 1331.0,925.2 1332.0,938.5 1332.3,938.5 1333.3,925.2 1333.6,925.2 1334.6,938.5 1335.0,938.5 1336.0,925.2 1336.6,925.2 1337.6,938.5 1338.6,925.2 1339.3,925.2 1340.3,938.5 1341.3,925.2 1341.9,925.2 1342.5,911.9 1342.9,938.5 1343.5,911.9 1344.5,925.2 1345.5,911.9 1346.5,911.9 1347.5,925.2 1348.0,925.2 1348.7,925.2 1349.0,911.9 1349.5,938.5 1350.1,911.9 1350.3,911.9 1351.1,925.2 1352.1,911.9 1353.4,911.9 1354.4,925.2 1355.4,911.9 1357.9,911.9 1358.9,925.2 1359.5,925.2 1360.5,911.9 1361.2,911.9 1362.2,925.2 1362.8,925.2 1363.2,911.9 1363.6,938.5 1364.4,911.9 1364.6,911.9 1365.6,925.2 1366.0,925.2 1367.0,911.9 1368.3,911.9 1369.3,925.2 1369.6,925.2 1370.6,911.9 1372.7,911.9 1373.3,911.9 1373.7,925.2 1374.1,938.5 1374.7,911.9 1374.9,911.9 1376.3,911.9 1377.3,925.2 1378.3,911.9 1379.9,911.9 1380.9,925.2 1381.5,925.2 1381.9,911.9 1382.3,938.5 1383.1,911.9 1384.0,911.9 1385.0,925.2 1385.7,925.2 1386.7,911.9 1389.1,911.9 1390.1,925.2 1390.5,925.2 1391.5,911.9 1393.2,911.9 1394.2,925.2 1395.2,911.9 1397.1,911.9 1398.1,925.2 1398.7,925.2 1398.8,938.5 1399.2,938.5 1400.0,965.0 1400.8,938.5 1403.8,938.5 1403.8,925.2 1407.3,925.2 1408.1,911.9 1408.9,925.2 1416.1,925.2 1416.9,911.9 1417.7,925.2 1422.3,925.2 1423.1,911.9 1423.9,925.2 1428.8,925.2 1428.8,911.9 1429.8,911.9 1430.8,925.2 1431.1,925.2 1431.8,911.9 1431.9,938.5 1432.7,911.9 1433.5,911.9 1434.5,925.2 1434.9,925.2 1435.9,911.9 1437.6,911.9 1438.6,925.2 1439.6,911.9 1440.4,911.9 1441.4,925.2 1442.4,911.9 1443.1,911.9 1443.6,911.9 1444.1,925.2 1444.4,938.5 1445.1,911.9 1445.2,911.9 1445.6,911.9 1446.6,925.2 1446.9,925.2 1447.9,911.9 1449.0,911.9 1450.0,925.2 1450.5,925.2 1450.5,925.2 1451.2,938.5 1451.5,911.9 1452.0,911.9 1452.5,911.9 1453.5,925.2 1454.5,911.9 1456.5,911.9 1457.5,925.2 1458.5,911.9 1459.4,911.9 1460.4,925.2 1460.8,925.2 1461.8,911.9 1462.7,911.9 1463.7,925.2 1464.3,925.2 1465.3,911.9 1466.9,911.9 1467.9,925.2 1468.9,911.9 1470.7,911.9 1471.7,925.2 1472.3,925.2 1473.3,911.9 1474.5,911.9 1475.5,925.2 1476.5,911.9 1477.1,911.9 1478.1,925.2 1478.5,925.2 1479.5,911.9 1481.4,911.9 1482.4,925.2 1482.8,925.2 1483.8,911.9 1485.5,911.9 1486.5,925.2 1486.9,925.2 1487.9,911.9 1488.0,911.9 1488.7,911.9 1488.8,938.5 1489.5,911.9 1489.7,925.2 1490.7,911.9 1492.5,911.9 1493.5,925.2 1494.0,925.2 1494.2,925.2 1495.0,938.5 1495.0,911.9 1495.8,911.9 1496.1,911.9 1497.1,925.2 1497.2,925.2 1498.0,938.5 1498.1,911.9 1498.6,911.9 1498.8,911.9 1499.6,925.2 1500.5,925.2 1500.6,911.9 1501.2,951.7 1502.0,911.9 1502.5,911.9 1503.2,911.9 1503.5,925.2 1504.0,938.5 1504.5,911.9 1504.8,911.9 1505.4,911.9 1506.4,925.2 1507.4,911.9 1508.7,911.9 1509.7,925.2 1510.7,911.9 1512.2,911.9 1513.2,925.2 1513.5,925.2 1514.5,911.9 1515.5,911.9 1516.5,925.2 1517.5,911.9 1518.4,911.9 1519.4,925.2 1520.0,925.2 1521.0,911.9 1522.9,911.9 1523.9,925.2 1524.3,925.2 1525.3,911.9 1526.1,911.9 1526.7,911.9 1527.1,925.2 1527.5,938.5 1528.1,911.9 1528.3,911.9 1529.0,911.9 1530.0,925.2 1530.6,925.2 1531.6,911.9 1533.5,911.9 1534.5,925.2 1535.5,911.9 1536.9,911.9 1537.9,925.2 1538.9,911.9 1539.8,911.9 1540.0,911.9 1540.6,938.5 1541.0,925.2 1541.4,925.2 1542.0,911.9 1543.6,911.9 1544.6,925.2 1545.1,925.2 1546.1,911.9 1548.0,911.9 1549.0,925.2 1549.3,925.2 1550.3,911.9 1551.4,911.9 1552.4,925.2 1552.8,925.2 1553.8,911.9 1554.4,911.9 1555.4,925.2 1555.9,925.2 1556.9,911.9 1558.6,911.9 1559.6,925.2 1560.6,911.9 1561.6,911.9 1562.6,925.2 1562.9,925.2 1563.9,911.9 1565.7,911.9 1566.7,925.2 1567.1,925.2 1568.0,925.2 1568.1,911.9 1568.8,938.5 1568.9,911.9 1569.5,911.9 1569.9,925.2 1570.4,925.2 1571.4,911.9 1573.4,911.9 1574.4,925.2 1574.9,925.2 1575.9,911.9 1577.1,911.9 1578.1,925.2 1578.3,925.2 1579.3,911.9 1580.4,911.9 1581.4,925.2 1582.0,925.2 1583.0,911.9 1584.1,911.9 1585.1,925.2 1585.7,925.2 1586.7,911.9 1587.4,911.9 1588.4,925.2 1589.4,911.9 1590.5,911.9 1591.5,925.2 1592.5,911.9 1593.3,911.9 1594.3,925.2 1595.3,911.9 1595.9,911.9 1596.9,925.2 1597.2,925.2 1598.2,911.9 1598.7,911.9 1599.7,925.2 1600.7,911.9 1601.7,911.9 1602.1,911.9 1602.5,938.5 1603.1,925.2 1603.3,925.2 1604.1,911.9 1604.9,911.9 1605.0,911.9 1605.4,911.9 1605.9,925.2 1606.4,925.2 1607.4,911.9 1608.2,911.9 1609.2,925.2 1610.2,911.9 1610.9,911.9 1611.9,925.2 1612.9,911.9 1613.8,911.9 1614.8,925.2 1615.8,911.9 1616.2,911.9 1617.2,925.2 1618.2,911.9 1619.2,911.9 1620.2,925.2 1620.4,925.2 1621.4,911.9 1622.3,911.9 1623.3,925.2 1624.3,911.9 1624.8,911.9 1625.8,925.2 1626.8,911.9 1627.2,911.9 1628.2,925.2 1629.2,911.9 1629.8,911.9 1630.8,925.2 1631.1,925.2 1632.1,911.9 1632.3,911.9 1633.3,925.2 1634.3,911.9 1634.6,911.9 1635.6,925.2 1636.6,911.9 1636.9,911.9 1637.9,925.2 1638.9,911.9 1639.6,911.9 1640.6,925.2 1640.9,925.2 1641.9,911.9 1642.1,911.9 1643.1,925.2 1644.1,911.9 1644.3,911.9 1645.3,925.2 1646.3,911.9 1646.6,911.9 1647.6,925.2 1648.6,911.9 1649.5,911.9 1650.5,925.2 1651.5,911.9 1651.6,911.9 1651.6,911.9 1654.0,911.9 1654.0,911.9 1654.4,911.9 1655.4,925.2 1655.7,925.2 1656.7,911.9 1657.0,911.9 1658.0,925.2 1659.0,911.9 1659.6,911.9 1660.6,925.2 1661.6,911.9 1662.3,911.9 1663.3,925.2 1664.3,911.9 1664.7,911.9 1664.8,911.9 1665.6,898.7 1665.7,925.2 1666.4,925.2 1666.7,911.9 1667.0,911.9 1668.0,925.2 1669.0,911.9 1669.6,911.9 1670.6,925.2 1670.8,925.2 1671.8,911.9 1672.4,911.9 1673.4,925.2 1674.4,911.9 1675.0,911.9 1676.0,925.2 1677.0,911.9 1677.7,911.9 1677.9,911.9 1678.5,898.7 1678.9,925.2 1679.3,925.2 1679.9,911.9 1680.6,911.9 1681.6,925.2 1682.6,911.9 1683.6,911.9 1684.6,925.2 1685.6,911.9 1686.3,911.9 1687.3,925.2 1688.3,911.9 1689.1,911.9 1690.1,925.2 1691.1,911.9 1691.6,911.9 1692.6,925.2 1693.6,911.9 1693.9,911.9 1694.9,925.2 1695.1,925.2 1696.1,911.9 1696.8,911.9 1697.8,925.2 1698.8,911.9 1699.2,911.9 1700.2,925.2 1701.2,911.9 1701.5,911.9 1702.5,925.2 1703.5,911.9 1704.0,911.9 1705.0,925.2 1706.0,911.9 1706.6,911.9 1707.6,925.2 1708.6,911.9 1709.4,911.9 1710.4,925.2 1711.4,911.9 1711.8,911.9 1712.8,925.2 1713.8,911.9 1714.0,911.9 1714.3,911.9 1714.8,938.5 1715.3,925.2 1715.6,925.2 1716.3,911.9 1717.1,911.9 1718.1,925.2 1718.4,925.2 1719.4,911.9 1720.3,911.9 1721.3,925.2 1722.3,911.9 1722.8,911.9 1723.8,925.2 1724.8,911.9 1725.2,911.9 1726.2,925.2 1727.2,911.9 1727.5,911.9 1728.5,925.2 1729.5,911.9 1729.9,911.9 1730.9,925.2 1731.9,911.9 1732.8,911.9 1733.8,925.2 1734.8,911.9 1735.1,911.9 1736.1,925.2 1737.1,911.9 1737.3,911.9 1738.3,925.2 1739.3,911.9 1739.7,911.9 1740.7,925.2 1741.7,911.9 1742.6,911.9 1743.6,925.2 1744.6,911.9 1744.8,911.9 1745.8,925.2 1746.8,911.9 1747.8,911.9 1748.8,925.2 1749.8,911.9 1750.5,911.9 1751.5,925.2 1751.8,925.2 1752.8,911.9 1753.2,911.9 1754.2,925.2 1755.2,911.9 1756.1,911.9 1757.1,925.2 1758.1,911.9 1758.4,911.9 1759.4,911.9 1759.4,925.2 1762.9,911.9 1762.9,911.9 1763.7,911.9 1764.7,925.2 1765.7,911.9 1766.5,911.9 1767.5,925.2 1767.8,925.2 1768.8,911.9 1769.5,911.9 1770.5,925.2 1770.9,925.2 1771.9,911.9 1772.2,911.9 1773.2,925.2 1774.2,911.9 1774.5,911.9 1775.5,925.2 1776.5,911.9 1777.4,911.9 1778.4,925.2 1778.8,925.2 1779.8,911.9 1780.0,911.9 1781.0,925.2 1782.0,911.9 1782.6,911.9 1783.6,925.2 1784.6,911.9 1785.2,911.9 1786.2,925.2 1787.2,911.9 1787.6,911.9 1788.6,925.2 1789.6,911.9 1790.4,911.9 1791.4,925.2 1791.7,925.2 1792.7,911.9 1793.2,911.9 1794.2,925.2 1795.2,911.9 1796.4,911.9 1797.4,925.2 1798.4,911.9 1798.9,911.9 1799.9,925.2 1800.1,925.2 1801.1,911.9 1801.8,911.9 1802.8,925.2 1803.8,911.9 1804.1,911.9 1805.1,925.2 1806.1,911.9 1806.6,911.9 1807.1,911.9 1807.6,925.2 1807.9,951.7 1808.6,911.9 1808.7,911.9 1809.5,911.9 1810.2,911.9 1810.5,925.2 1811.0,938.5 1811.5,911.9 1811.8,911.9 1812.2,911.9 1813.2,925.2 1813.2,925.2 1814.0,938.5 1814.2,911.9 1814.4,911.9 1814.8,911.9 1815.4,925.2 1815.7,925.2 1816.7,911.9 1817.1,911.9 1817.2,911.9 1818.0,951.7 1818.1,925.2 1818.8,925.2 1819.1,911.9 1819.8,911.9 1820.8,925.2 1821.2,925.2 1821.8,911.9 1822.0,938.5 1822.1,911.9 1822.8,911.9 1823.1,925.2 1824.1,911.9 1824.3,911.9 1825.3,925.2 1826.3,911.9 1826.5,911.9 1826.9,911.9 1827.3,938.5 1827.9,925.2 1828.1,925.2 1828.9,911.9 1829.3,911.9 1830.3,925.2 1830.5,925.2 1831.5,911.9 1832.3,911.9 1833.3,925.2 1834.3,911.9 1834.5,911.9 1835.5,925.2 1835.9,925.2 1836.9,911.9 1837.1,911.9 1838.1,925.2 1838.4,925.2 1839.4,911.9 1840.2,911.9 1841.2,925.2 1842.2,911.9 1842.8,911.9 1843.8,925.2 1844.8,911.9 1845.5,911.9 1846.5,925.2 1846.8,925.2 1847.8,911.9 1848.1,911.9 1849.1,925.2 1850.1,911.9 1850.9,911.9 1851.9,925.2 1852.9,911.9 1853.7,911.9 1854.7,925.2 1855.7,911.9 1855.9,911.9 1856.9,925.2 1857.2,925.2 1858.2,911.9 1858.6,911.9 1859.6,925.2 1860.6,911.9 1861.6,911.9 1862.6,925.2 1862.9,925.2 1863.9,911.9 1864.9,911.9 1865.9,925.2 1866.3,925.2 1867.3,911.9 1867.8,911.9 1868.8,925.2 1869.8,911.9 1870.4,911.9 1871.1,911.9 1871.4,925.2 1871.7,925.2 1871.9,938.5 1872.7,925.2 1872.7,911.9 1873.6,911.9 1874.6,925.2 1875.6,911.9 1876.5,911.9 1877.5,925.2 1878.1,925.2 1878.5,911.9 1878.9,938.5 1879.2,911.9 1879.7,911.9 1880.2,925.2 1881.2,911.9 1882.3,911.9 1883.3,925.2 1884.0,925.2 1884.3,911.9 1884.8,938.5 1885.1,911.9 1885.6,911.9 1886.1,925.2 1887.1,911.9 1888.0,911.9 1889.0,925.2 1889.2,925.2 1890.2,911.9 1891.2,911.9"/>
</g>
<rect x="1010.5" y="894.5" width="886" height="236" fill="none" stroke="#a3a3a3" stroke-width="1"/>
<g stroke="#000" stroke-width="0.45">
<text x="1642.30" y="869.80" font-size="20.5" textLength="248.91" lengthAdjust="spacingAndGlyphs" fill="#000">GPU Core Temperature [°C]</text>
</g>
<text x="989.27" y="868.90" font-size="20" textLength="12.16" lengthAdjust="spacingAndGlyphs" fill="#000">↓</text>
<text x="1004.92" y="869.80" font-size="18.5" textLength="19.16" lengthAdjust="spacingAndGlyphs" fill="#ff0000">70</text>
<text x="1029.91" y="869.80" font-size="18.5" textLength="19.35" lengthAdjust="spacingAndGlyphs" fill="#008000">74</text>
<text x="1071.55" y="869.80" font-size="18.5" textLength="14.58" lengthAdjust="spacingAndGlyphs" fill="#000">Ø</text>
<text x="1091.64" y="869.80" font-size="18.5" textLength="42.21" lengthAdjust="spacingAndGlyphs" fill="#ff0000">71,46</text>
<text x="1138.65" y="869.80" font-size="18.5" textLength="43.01" lengthAdjust="spacingAndGlyphs" fill="#008000">84,47</text>
<text x="1202.29" y="868.90" font-size="20" textLength="13.23" lengthAdjust="spacingAndGlyphs" fill="#000">↑</text>
<text x="1218.93" y="869.80" font-size="18.5" textLength="18.81" lengthAdjust="spacingAndGlyphs" fill="#ff0000">73</text>
<text x="1243.23" y="869.80" font-size="18.5" textLength="19.66" lengthAdjust="spacingAndGlyphs" fill="#008000">87</text>
</g>
</svg>
</body></html>
